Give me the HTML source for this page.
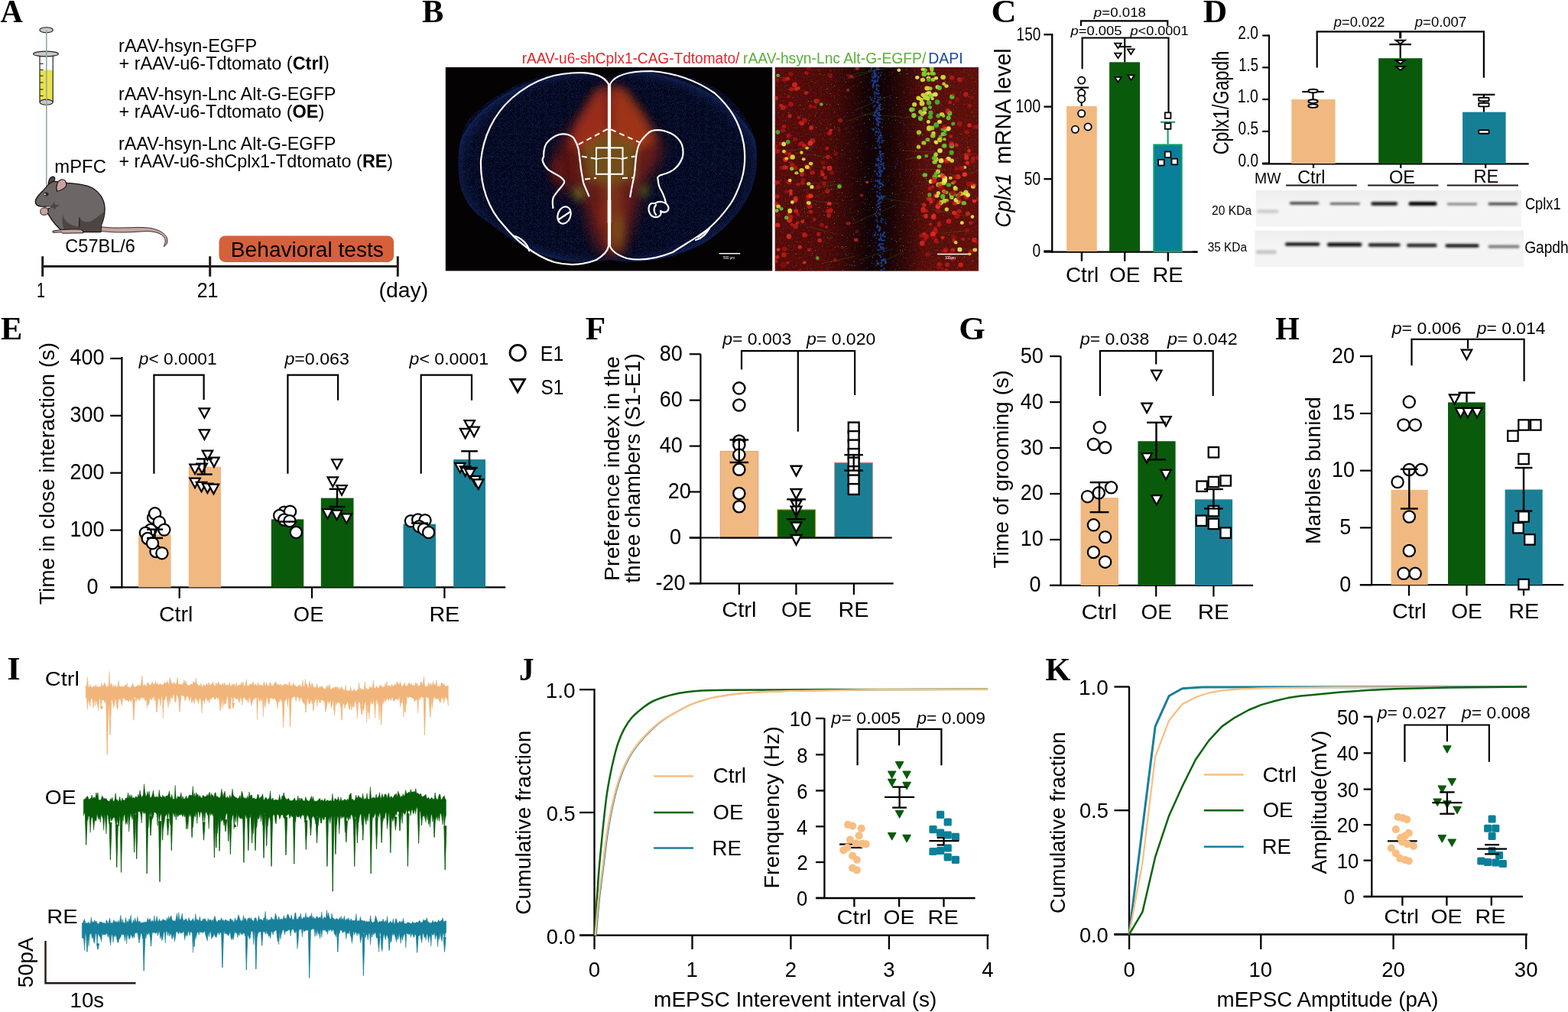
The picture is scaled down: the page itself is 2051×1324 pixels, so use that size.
<!DOCTYPE html>
<html><head><meta charset="utf-8"><title>Figure</title>
<style>html,body{margin:0;padding:0;background:#fff;width:2051px;height:1324px;overflow:hidden}svg{display:block}text{font-family:"Liberation Sans",Arial,sans-serif}</style>
</head><body>
<svg width="2051" height="1324" viewBox="0 0 2051 1324"><text transform="translate(0.39,28.70) scale(0.9556,1)" font-size="42.60" fill="#000" xml:space="preserve"><tspan font-family="Liberation Serif, Times New Roman, serif" font-weight="bold">A</tspan></text>
<rect x="52" y="91.5" width="17.2" height="42" rx="3" fill="#e8e34a"/>
<path d="M52,70.5 L52,133.7 M69.2,70.5 L69.2,133.7" stroke="#222" stroke-width="1.2" fill="none"/>
<line x1="52.0" y1="83.4" x2="56.6" y2="83.4" stroke="#222" stroke-width="1.1"/>
<line x1="52.0" y1="91.4" x2="56.6" y2="91.4" stroke="#222" stroke-width="1.1"/>
<line x1="52.0" y1="99.2" x2="56.6" y2="99.2" stroke="#222" stroke-width="1.1"/>
<line x1="52.0" y1="108.0" x2="56.6" y2="108.0" stroke="#222" stroke-width="1.1"/>
<line x1="52.0" y1="117.0" x2="56.6" y2="117.0" stroke="#222" stroke-width="1.1"/>
<line x1="52.0" y1="125.4" x2="56.6" y2="125.4" stroke="#222" stroke-width="1.1"/>
<ellipse cx="60.6" cy="133.7" rx="8.6" ry="3.6" fill="#c8c8c8" stroke="#222" stroke-width="1.1"/>
<ellipse cx="60" cy="70.5" rx="16.4" ry="3.4" fill="#c8c8c8" stroke="#222" stroke-width="1.1"/>
<ellipse cx="60.6" cy="39.3" rx="8.8" ry="3.6" fill="#c8c8c8" stroke="#222" stroke-width="1.1"/>
<line x1="60.8" y1="39.5" x2="60.8" y2="246.0" stroke="#9aa5a3" stroke-width="1.6"/>
<text transform="translate(155.07,68.30) scale(1.0088,1)" font-size="23.30" fill="#000" xml:space="preserve"><tspan font-family="Liberation Sans, Arial, sans-serif">rAAV-hsyn-EGFP</tspan></text>
<text transform="translate(155.43,91.10) scale(1.0083,1)" font-size="23.30" fill="#000" xml:space="preserve"><tspan font-family="Liberation Sans, Arial, sans-serif">+ rAAV-u6-Tdtomato (</tspan><tspan font-family="Liberation Sans, Arial, sans-serif" font-weight="bold">Ctrl</tspan><tspan font-family="Liberation Sans, Arial, sans-serif">)</tspan></text>
<text transform="translate(155.08,131.30) scale(1.0049,1)" font-size="23.30" fill="#000" xml:space="preserve"><tspan font-family="Liberation Sans, Arial, sans-serif">rAAV-hsyn-Lnc Alt-G-EGFP</tspan></text>
<text transform="translate(155.43,154.10) scale(1.0070,1)" font-size="23.30" fill="#000" xml:space="preserve"><tspan font-family="Liberation Sans, Arial, sans-serif">+ rAAV-u6-Tdtomato (</tspan><tspan font-family="Liberation Sans, Arial, sans-serif" font-weight="bold">OE</tspan><tspan font-family="Liberation Sans, Arial, sans-serif">)</tspan></text>
<text transform="translate(155.08,196.00) scale(1.0049,1)" font-size="23.30" fill="#000" xml:space="preserve"><tspan font-family="Liberation Sans, Arial, sans-serif">rAAV-hsyn-Lnc Alt-G-EGFP</tspan></text>
<text transform="translate(155.43,219.00) scale(1.0037,1)" font-size="23.30" fill="#000" xml:space="preserve"><tspan font-family="Liberation Sans, Arial, sans-serif">+ rAAV-u6-shCplx1-Tdtomato (</tspan><tspan font-family="Liberation Sans, Arial, sans-serif" font-weight="bold">RE</tspan><tspan font-family="Liberation Sans, Arial, sans-serif">)</tspan></text>
<text transform="translate(71.35,225.70) scale(1.0234,1)" font-size="23.30" fill="#000" xml:space="preserve"><tspan font-family="Liberation Sans, Arial, sans-serif">mPFC</tspan></text>
<text transform="translate(85.32,330.30) scale(1.0108,1)" font-size="23.30" fill="#000" xml:space="preserve"><tspan font-family="Liberation Sans, Arial, sans-serif">C57BL/6</tspan></text>
<g transform="translate(40,225) scale(0.09264)" stroke="#161010" stroke-linejoin="round">
<path d="M1000,775 C1200,805 1500,772 1650,787 C1800,802 1925,870 1932,960 C1936,1010 1912,1040 1880,1052 C1898,1020 1908,985 1898,945 C1870,878 1780,840 1650,838 C1500,840 1300,872 985,835 Z" fill="#c8a3a0" stroke-width="9"/>
<path d="M68,425 C60,380 120,320 175,265 C200,235 230,205 265,160 L300,135 C380,130 450,140 520,155 C650,165 780,175 880,230 C990,300 1045,400 1048,520 C1050,620 1020,700 1000,750 L992,848 L470,848 C400,800 320,720 252,600 L245,590 C232,545 250,505 282,492 L150,487 C100,482 70,460 68,425 Z" fill="#6b6766" stroke-width="14"/>
<path d="M455,600 C470,700 560,760 680,772 L690,640 C720,705 800,722 860,692 C920,652 990,600 1040,560 L1000,750 L990,842 L485,842 C455,800 440,700 455,600 Z" fill="#4e4543" stroke="none"/>
<path d="M300,470 L330,420 L350,465 L415,470 L360,500 L345,530 L310,505 L270,500 Z" fill="#4e4543" stroke="none"/>
<path d="M690,640 L688,780" stroke-width="10" fill="none"/>
<path d="M250,172 C255,112 280,72 310,66 C345,62 350,90 338,120 C312,142 282,157 250,172 Z" fill="#4e4543" stroke-width="12"/>
<path d="M372,272 C350,200 382,120 440,106 C492,100 512,150 502,200 C472,242 422,262 372,272 Z" fill="#c8a3a0" stroke-width="12"/>
<ellipse cx="218" cy="312" rx="38" ry="27" fill="#2f2624" stroke="none"/>
<ellipse cx="202" cy="316" rx="13" ry="11" fill="#fff" stroke="none"/>
<path d="M205,488 L285,486 L283,508 L210,510 Z" fill="#fff" stroke-width="8"/>
<path d="M140,560 C130,520 170,502 210,506 C252,512 256,560 240,590 C220,612 180,612 160,602 C140,592 135,575 140,560 Z" fill="#c8a3a0" stroke-width="10"/>
<path d="M312,835 C380,815 600,805 705,812 L738,832 L742,862 L450,866 L440,850 L316,856 Z" fill="#c8a3a0" stroke-width="10"/>
</g>
<line x1="55.7" y1="348.6" x2="520.3" y2="348.6" stroke="#231815" stroke-width="3"/>
<line x1="55.7" y1="335.3" x2="55.7" y2="361.8" stroke="#231815" stroke-width="3"/>
<line x1="274.7" y1="335.3" x2="274.7" y2="361.8" stroke="#231815" stroke-width="3"/>
<line x1="520.3" y1="335.3" x2="520.3" y2="361.8" stroke="#231815" stroke-width="3"/>
<text transform="translate(48.12,388.50) scale(0.7189,1)" font-size="27.50" fill="#000" xml:space="preserve"><tspan font-family="Liberation Sans, Arial, sans-serif">1</tspan></text>
<text transform="translate(257.65,388.50) scale(0.9064,1)" font-size="27.50" fill="#000" xml:space="preserve"><tspan font-family="Liberation Sans, Arial, sans-serif">21</tspan></text>
<text transform="translate(495.60,388.50) scale(1.0327,1)" font-size="27.50" fill="#000" xml:space="preserve"><tspan font-family="Liberation Sans, Arial, sans-serif">(day)</tspan></text>
<rect x="286.5" y="308.4" width="228.6" height="34.5" rx="8" fill="#D6603A"/>
<text transform="translate(301.85,335.60) scale(1.0118,1)" font-size="27.80" fill="#000" xml:space="preserve"><tspan font-family="Liberation Sans, Arial, sans-serif">Behavioral tests</tspan></text>
<text transform="translate(551.96,29.30) scale(0.9953,1)" font-size="42.60" fill="#000" xml:space="preserve"><tspan font-family="Liberation Serif, Times New Roman, serif" font-weight="bold">B</tspan></text>
<text transform="translate(682.76,82.80) scale(0.9172,1)" font-size="20.80" fill="#E0262B" xml:space="preserve"><tspan font-family="Liberation Sans, Arial, sans-serif">rAAV-u6-shCplx1-CAG-Tdtomato/</tspan></text>
<text transform="translate(972.05,82.80) scale(0.9258,1)" font-size="20.80" fill="#5BAF3A" xml:space="preserve"><tspan font-family="Liberation Sans, Arial, sans-serif">rAAV-hsyn-Lnc Alt-G-EGFP/</tspan></text>
<text transform="translate(1214.24,82.80) scale(0.9371,1)" font-size="20.80" fill="#1B4A9C" xml:space="preserve"><tspan font-family="Liberation Sans, Arial, sans-serif">DAPI</tspan></text>
<defs>
<clipPath id="brainclip"><path d="M797,104 C780,94 740,92 705,101 C670,110 635,132 613,156 C598,180 598,215 601,235 C604,262 620,280 642,293 C660,308 684,324 715,336 C745,345 775,344 797,340 C820,345 860,342 890,333 C930,318 962,290 980,255 C992,228 992,200 987,180 C978,150 955,125 930,112 C900,97 860,90 830,92 C815,94 803,98 797,104 Z"/></clipPath>
<radialGradient id="rg1" cx="0.5" cy="0.5" r="0.5"><stop offset="0" stop-color="#d84a1c" stop-opacity="0.95"/><stop offset="0.55" stop-color="#a82a18" stop-opacity="0.6"/><stop offset="1" stop-color="#601010" stop-opacity="0"/></radialGradient>
<radialGradient id="rg2" cx="0.5" cy="0.5" r="0.5"><stop offset="0" stop-color="#b8b82a" stop-opacity="0.9"/><stop offset="0.6" stop-color="#8a8a20" stop-opacity="0.45"/><stop offset="1" stop-color="#606010" stop-opacity="0"/></radialGradient>
<radialGradient id="rg3" cx="0.5" cy="0.5" r="0.5"><stop offset="0" stop-color="#b02020" stop-opacity="0.8"/><stop offset="1" stop-color="#801010" stop-opacity="0"/></radialGradient>
<radialGradient id="rgb" cx="0.5" cy="0.5" r="0.5"><stop offset="0.9" stop-color="#04071a"/><stop offset="0.975" stop-color="#0a1436"/><stop offset="1" stop-color="#10224e"/></radialGradient>
<pattern id="speck" width="7" height="7" patternUnits="userSpaceOnUse"><rect width="7" height="7" fill="none"/><rect x="1" y="2" width="1" height="1" fill="#3050b0" opacity="0.22"/><rect x="4" y="5" width="1" height="1" fill="#2a4aa0" opacity="0.18"/><rect x="5" y="1" width="1" height="1" fill="#3a5ac0" opacity="0.15"/></pattern>
</defs>
<rect x="582.8" y="88" width="427.4" height="266.4" fill="#040203"/>
<defs><filter id="blur8" x="-50%" y="-50%" width="200%" height="200%"><feGaussianBlur stdDeviation="9"/></filter><filter id="blur4" x="-50%" y="-50%" width="200%" height="200%"><feGaussianBlur stdDeviation="4"/></filter></defs>
<g clip-path="url(#brainclip)">
<rect x="595" y="88" width="400" height="266" fill="#04071a"/>
<ellipse cx="795" cy="218" rx="200" ry="128" fill="url(#rgb)"/>
<defs><filter id="dapi" x="0" y="0" width="100%" height="100%" color-interpolation-filters="sRGB"><feTurbulence type="fractalNoise" baseFrequency="1.1" numOctaves="1" seed="4"/><feColorMatrix type="matrix" values="0 0 0 0 0.11  0 0 0 0 0.2  0 0 0 0 0.5  6 0 0 0 -3.0"/></filter></defs>
<rect x="595" y="88" width="400" height="266" filter="url(#dapi)" opacity="0.55"/>
<g filter="url(#blur8)" opacity="0.75">
<path d="M785,118 L797,116 L797,335 L785,330 L772,300 L760,250 L740,215 L728,195 L745,172 L765,145 Z" fill="#8a2212"/>
<path d="M810,116 L797,116 L797,335 L812,330 L826,300 L838,250 L858,215 L868,195 L852,170 L832,142 Z" fill="#8a2212"/>
<path d="M730,190 L750,195 L752,250 L735,255 L725,225 Z" fill="#701810"/>
</g>
<defs><filter id="blur6" x="-50%" y="-50%" width="200%" height="200%"><feGaussianBlur stdDeviation="6"/></filter></defs>
<g filter="url(#blur6)" opacity="0.62">
<path d="M778,118 L794,112 L796,175 L770,195 L745,192 L752,165 Z" fill="#b8381a"/>
<path d="M800,112 L818,116 L842,150 L860,185 L835,196 L802,180 Z" fill="#c04418"/>
<path d="M762,192 L797,172 L834,190 L830,236 L797,242 L766,236 Z" fill="#7c8a1e" opacity="0.75"/>
<path d="M786,240 L812,240 L818,330 L796,330 Z" fill="#8a4a16" opacity="0.8"/>
<ellipse cx="757" cy="253" rx="8" ry="9" fill="#9a9a22"/>
<ellipse cx="843" cy="250" rx="6" ry="8" fill="#6a8a20"/>
<ellipse cx="810" cy="300" rx="5" ry="20" fill="#8a8a20" opacity="0.8"/>
<ellipse cx="790" cy="280" rx="6" ry="18" fill="#a03018" opacity="0.8"/>
<ellipse cx="728" cy="222" rx="7" ry="18" fill="#9a2018" opacity="0.8"/>
</g>
</g>
<path d="M796,110 C790,100 780,96 760,95 C730,95 700,102 670,128 C645,150 632,180 629,210 C628,245 640,275 659,295 C675,315 700,335 725,343 C745,348 765,346 780,340 C790,334 795,328 796,322 Z" fill="none" stroke="#fff" stroke-width="2.2" stroke-linecap="round" stroke-linejoin="round"/>
<path d="M798,110 C803,100 820,93 852,93 C890,96 915,108 935,122 C955,140 968,160 973,189 C976,210 973,225 970,235 C965,250 960,260 956,266 C945,282 935,292 927,299 C910,312 895,320 880,330 C860,338 840,342 820,338 C808,334 800,328 798,322 Z" fill="none" stroke="#fff" stroke-width="2.2" stroke-linecap="round" stroke-linejoin="round"/>
<path d="M797,110 L797,322" stroke="#fff" stroke-width="3" fill="none"/>
<path d="M797,262 L797,292" stroke="#fff" stroke-width="4.5" fill="none"/>
<path d="M723.4,272 C722,262 723,258 725.5,255.5 C730,248 740,240 738,236.8 C735,230 727,229 717.2,222.2 C710,215 708,208 711,205.6 C711,195 713,188 717.2,184.8 C725,177 732,175 738,175.4 C745,176 748,178 750.5,180.6 C755,188 756,192 756.7,195.2 C758,205 759,212 759.8,220.1 C761,228 762,233 763,238.8 C765,245 768,250 770.2,256.4" fill="none" stroke="#fff" stroke-width="2.2" stroke-linecap="round" stroke-linejoin="round"/>
<path d="M824.3,257.4 C826,245 828,238 829.5,230.4 C831,220 831,210 832.6,201.3 C834,192 836,187 839.8,182.6 C845,176 848,173 852.3,171.2 C860,169 870,171 877.2,174.3 C885,178 889,183 891.8,188.8 C894,195 894,200 892.8,205.5 C890,213 887,217 883.5,220 C878,225 872,227 866.8,228.3 C862,229 859,232 860.6,234.5 C861,240 862,245 864.8,249.1 C868,255 870,260 871,265.7" fill="none" stroke="#fff" stroke-width="2.2" stroke-linecap="round" stroke-linejoin="round"/>
<ellipse cx="738" cy="281.5" rx="8.3" ry="11.4" transform="rotate(20,738,281.5)" fill="none" stroke="#fff" stroke-width="2.2" stroke-linecap="round" stroke-linejoin="round"/>
<path d="M731,287 L746,277" fill="none" stroke="#fff" stroke-width="2.2" stroke-linecap="round" stroke-linejoin="round"/>
<path d="M852,266 C846,270 848,282 856,284 C862,285 866,281 864,276 C870,280 876,276 874,270 C871,264 862,262 857,266 Z" fill="none" stroke="#fff" stroke-width="2.2" stroke-linecap="round" stroke-linejoin="round"/>
<path d="M858,281 C855,277 855,272 858,268" fill="none" stroke="#fff" stroke-width="2.2" stroke-linecap="round" stroke-linejoin="round"/>
<path d="M671.5,308.5 C680,310 690,318 692.3,328.2" fill="none" stroke="#fff" stroke-width="2.2" stroke-linecap="round" stroke-linejoin="round"/>
<path d="M913,310 C920,305 927,300 928,298.9" fill="none" stroke="#fff" stroke-width="2.2" stroke-linecap="round" stroke-linejoin="round"/>
<path d="M910,314 C918,312 925,305 928,298" fill="none" stroke="#fff" stroke-width="2.2" stroke-linecap="round" stroke-linejoin="round"/>
<path d="M756.7,189 L796.2,168.1 L837.8,186.8" fill="none" stroke="#fff" stroke-width="2" stroke-dasharray="7,5"/>
<path d="M760.9,204.5 L779.6,207.7 M814,207.7 L830.5,204.4" fill="none" stroke="#fff" stroke-width="2" stroke-dasharray="7,5"/>
<path d="M765,234.6 L780,233 M814,233 L829.5,232.5" fill="none" stroke="#fff" stroke-width="2" stroke-dasharray="7,5"/>
<path d="M780,208 C790,206 805,206 814,208" fill="none" stroke="#fff" stroke-width="1.6"/>
<rect x="780" y="193.4" width="34.5" height="34.4" fill="none" stroke="#fff" stroke-width="2"/>
<line x1="940.6" y1="331.7" x2="968.2" y2="331.7" stroke="#fff" stroke-width="1.5"/>
<text x="946" y="338.5" font-size="4.5" fill="#fff">500 μm</text>
<defs><linearGradient id="cfbg" x1="0" y1="0" x2="1" y2="0">
<stop offset="0" stop-color="#4a0c0a"/><stop offset="0.26" stop-color="#3e0a08"/><stop offset="0.38" stop-color="#240606"/>
<stop offset="0.46" stop-color="#100305"/><stop offset="0.55" stop-color="#120405"/><stop offset="0.64" stop-color="#2a0807"/>
<stop offset="0.74" stop-color="#4a0f0a"/><stop offset="1" stop-color="#52100b"/></linearGradient>
<clipPath id="cfclip"><rect x="1013.7" y="88" width="266.3" height="266.6"/></clipPath>
<filter id="rtex" x="0" y="0" width="100%" height="100%" color-interpolation-filters="sRGB"><feTurbulence type="fractalNoise" baseFrequency="0.45" numOctaves="2" seed="11"/><feColorMatrix type="matrix" values="0 0 0 0 0.7  0 0 0 0 0.07  0 0 0 0 0.05  1.8 0 0 0 -0.6"/></filter>
<filter id="gtex" x="0" y="0" width="100%" height="100%" color-interpolation-filters="sRGB"><feTurbulence type="fractalNoise" baseFrequency="0.8" numOctaves="1" seed="5"/><feColorMatrix type="matrix" values="0 0 0 0 0.4  0 0 0 0 0.85  0 0 0 0 0.2  0 14 0 0 -10.0"/></filter>
<filter id="btex" x="0" y="0" width="100%" height="100%" color-interpolation-filters="sRGB"><feTurbulence type="fractalNoise" baseFrequency="0.7" numOctaves="1" seed="8"/><feColorMatrix type="matrix" values="0 0 0 0 0.13  0 0 0 0 0.28  0 0 0 0 0.8  0 0 12 0 -8.3"/></filter>
<linearGradient id="cfmask" x1="0" y1="0" x2="1" y2="0"><stop offset="0" stop-color="#fff"/><stop offset="0.26" stop-color="#eee"/><stop offset="0.38" stop-color="#666"/><stop offset="0.46" stop-color="#222"/><stop offset="0.55" stop-color="#222"/><stop offset="0.63" stop-color="#666"/><stop offset="0.72" stop-color="#fff"/><stop offset="1" stop-color="#fff"/></linearGradient>
<mask id="cfm"><rect x="1013.7" y="88" width="266.7" height="266.6" fill="url(#cfmask)"/></mask>
</defs>
<rect x="1013.7" y="88" width="266.3" height="266.6" fill="url(#cfbg)"/>
<g clip-path="url(#cfclip)">
<rect x="1013.7" y="88" width="266.3" height="266.6" filter="url(#rtex)" mask="url(#cfm)" opacity="0.5"/>
<rect x="1013.7" y="88" width="266.3" height="266.6" filter="url(#gtex)" opacity="0.7"/>
<rect x="1013.7" y="88" width="266.3" height="266.6" filter="url(#btex)" opacity="0.9"/>
<g fill="#1f50c0" opacity="0.75"><rect x="1151.7" y="174.3" width="1.3" height="2.1"/><rect x="1153.5" y="185.5" width="1.3" height="2.0"/><rect x="1143.8" y="98.0" width="1.3" height="1.9"/><rect x="1150.9" y="308.4" width="1.4" height="1.6"/><rect x="1152.0" y="255.3" width="1.8" height="2.8"/><rect x="1143.5" y="100.4" width="2.6" height="1.7"/><rect x="1146.9" y="126.5" width="2.5" height="1.5"/><rect x="1150.6" y="243.1" width="2.2" height="1.8"/><rect x="1150.3" y="234.0" width="1.5" height="2.3"/><rect x="1150.9" y="202.0" width="1.7" height="2.1"/><rect x="1148.8" y="208.8" width="2.3" height="1.6"/><rect x="1154.0" y="241.1" width="2.0" height="2.6"/><rect x="1146.4" y="282.5" width="1.4" height="1.9"/><rect x="1157.0" y="289.9" width="1.4" height="2.0"/><rect x="1142.3" y="98.5" width="2.1" height="2.6"/><rect x="1144.5" y="171.6" width="2.3" height="2.2"/><rect x="1143.3" y="242.6" width="2.7" height="2.0"/><rect x="1149.6" y="265.1" width="1.3" height="2.3"/><rect x="1153.7" y="260.5" width="1.7" height="1.8"/><rect x="1147.8" y="266.3" width="1.2" height="1.9"/><rect x="1146.1" y="132.8" width="2.4" height="1.4"/><rect x="1147.9" y="154.0" width="1.8" height="2.6"/><rect x="1141.0" y="109.5" width="2.6" height="2.5"/><rect x="1152.6" y="318.3" width="1.6" height="1.9"/><rect x="1155.5" y="183.6" width="1.4" height="1.5"/><rect x="1141.8" y="149.8" width="1.6" height="2.0"/><rect x="1148.7" y="245.1" width="1.9" height="1.8"/><rect x="1149.3" y="239.0" width="2.7" height="2.3"/><rect x="1146.5" y="225.4" width="1.3" height="2.6"/><rect x="1146.2" y="295.9" width="2.6" height="2.5"/><rect x="1149.1" y="192.6" width="2.2" height="1.3"/><rect x="1145.4" y="106.0" width="1.5" height="1.5"/><rect x="1149.6" y="178.7" width="1.4" height="1.4"/><rect x="1149.9" y="184.9" width="1.2" height="2.6"/><rect x="1149.8" y="251.7" width="1.8" height="1.8"/><rect x="1146.6" y="120.7" width="2.6" height="2.8"/><rect x="1149.1" y="212.2" width="1.4" height="1.7"/><rect x="1147.8" y="158.6" width="2.5" height="1.5"/><rect x="1148.5" y="94.2" width="1.4" height="2.1"/><rect x="1143.8" y="95.2" width="2.0" height="2.8"/><rect x="1150.6" y="318.2" width="1.8" height="1.5"/><rect x="1146.9" y="293.8" width="2.1" height="2.4"/><rect x="1150.2" y="175.9" width="2.8" height="2.6"/><rect x="1155.3" y="302.9" width="2.5" height="2.4"/><rect x="1143.9" y="148.4" width="1.2" height="1.2"/><rect x="1147.8" y="162.5" width="1.6" height="2.3"/><rect x="1146.8" y="343.0" width="2.8" height="2.7"/><rect x="1152.2" y="185.2" width="1.6" height="1.6"/><rect x="1147.1" y="140.4" width="2.6" height="2.5"/><rect x="1154.3" y="215.8" width="2.2" height="2.5"/><rect x="1141.1" y="110.6" width="2.5" height="2.4"/><rect x="1144.7" y="215.4" width="1.5" height="2.5"/><rect x="1151.9" y="176.6" width="1.8" height="1.8"/><rect x="1145.7" y="340.4" width="2.4" height="1.5"/><rect x="1148.6" y="121.9" width="2.5" height="1.4"/><rect x="1155.7" y="308.3" width="2.8" height="2.3"/><rect x="1148.2" y="181.4" width="1.2" height="2.8"/><rect x="1147.6" y="261.2" width="2.0" height="2.7"/><rect x="1154.3" y="203.7" width="1.5" height="1.6"/><rect x="1144.4" y="166.1" width="1.6" height="2.1"/><rect x="1146.1" y="157.1" width="2.7" height="1.8"/><rect x="1151.2" y="210.1" width="2.1" height="2.6"/><rect x="1153.5" y="200.1" width="2.1" height="2.0"/><rect x="1143.3" y="93.0" width="1.9" height="1.5"/><rect x="1145.8" y="89.0" width="2.0" height="2.4"/><rect x="1147.4" y="236.4" width="1.7" height="2.0"/><rect x="1149.5" y="236.1" width="2.1" height="1.6"/><rect x="1146.6" y="161.8" width="2.4" height="2.0"/><rect x="1149.5" y="237.8" width="1.9" height="2.2"/><rect x="1143.3" y="222.8" width="2.0" height="2.3"/><rect x="1147.1" y="208.6" width="2.7" height="2.3"/><rect x="1151.0" y="321.7" width="2.7" height="1.6"/><rect x="1154.5" y="237.2" width="1.4" height="1.4"/><rect x="1148.4" y="205.9" width="1.3" height="1.6"/><rect x="1142.1" y="107.5" width="2.6" height="1.4"/><rect x="1143.6" y="278.9" width="2.3" height="1.4"/><rect x="1154.0" y="323.4" width="2.7" height="1.8"/><rect x="1149.7" y="217.9" width="2.8" height="2.5"/><rect x="1141.9" y="131.0" width="1.7" height="1.5"/><rect x="1150.6" y="172.9" width="2.4" height="1.2"/><rect x="1148.7" y="235.7" width="1.7" height="2.2"/><rect x="1150.1" y="224.6" width="1.3" height="2.8"/><rect x="1150.8" y="298.2" width="1.6" height="1.3"/><rect x="1149.0" y="295.7" width="1.6" height="1.4"/><rect x="1155.2" y="200.6" width="1.6" height="1.4"/><rect x="1149.8" y="333.1" width="2.1" height="2.3"/><rect x="1148.9" y="111.9" width="1.9" height="1.3"/><rect x="1154.8" y="338.2" width="2.2" height="2.5"/><rect x="1145.3" y="110.3" width="2.6" height="1.9"/><rect x="1148.6" y="178.4" width="2.1" height="2.7"/><rect x="1150.3" y="159.4" width="1.6" height="1.4"/><rect x="1147.9" y="131.0" width="1.3" height="1.5"/><rect x="1147.2" y="171.2" width="1.7" height="2.0"/><rect x="1150.3" y="135.4" width="1.8" height="1.2"/><rect x="1152.1" y="154.8" width="2.1" height="1.5"/><rect x="1150.7" y="214.6" width="2.7" height="1.4"/><rect x="1147.0" y="306.3" width="2.5" height="1.8"/><rect x="1151.4" y="223.1" width="2.3" height="2.8"/><rect x="1151.9" y="179.4" width="2.2" height="1.8"/><rect x="1145.6" y="180.7" width="1.3" height="1.4"/><rect x="1144.5" y="106.9" width="1.5" height="1.3"/><rect x="1148.5" y="312.3" width="2.6" height="2.3"/><rect x="1148.3" y="163.2" width="1.9" height="1.5"/><rect x="1152.9" y="206.9" width="1.6" height="2.7"/><rect x="1151.5" y="347.3" width="2.7" height="1.7"/><rect x="1149.2" y="183.1" width="1.2" height="1.8"/><rect x="1148.3" y="214.5" width="2.0" height="1.2"/><rect x="1147.6" y="158.4" width="1.3" height="1.8"/><rect x="1147.3" y="99.1" width="1.6" height="2.1"/><rect x="1150.0" y="229.1" width="2.4" height="2.3"/><rect x="1150.4" y="278.9" width="1.7" height="2.8"/><rect x="1143.0" y="127.8" width="2.4" height="2.2"/><rect x="1148.0" y="99.7" width="2.2" height="2.4"/><rect x="1144.6" y="304.5" width="1.4" height="2.0"/><rect x="1152.7" y="222.5" width="2.5" height="2.1"/><rect x="1147.5" y="326.0" width="2.3" height="2.3"/><rect x="1148.3" y="149.3" width="1.8" height="1.4"/><rect x="1150.9" y="310.8" width="2.1" height="2.2"/><rect x="1146.8" y="255.0" width="1.2" height="2.5"/><rect x="1145.5" y="287.5" width="2.0" height="2.1"/><rect x="1152.5" y="263.8" width="1.6" height="1.3"/><rect x="1149.7" y="158.8" width="2.4" height="1.5"/><rect x="1152.0" y="285.2" width="1.8" height="2.0"/><rect x="1147.5" y="270.3" width="2.4" height="2.2"/><rect x="1149.6" y="259.4" width="1.6" height="2.4"/><rect x="1149.5" y="169.2" width="2.1" height="1.2"/><rect x="1144.1" y="104.2" width="2.3" height="2.3"/><rect x="1152.8" y="165.5" width="2.0" height="1.9"/><rect x="1155.0" y="212.3" width="1.5" height="2.8"/><rect x="1157.4" y="337.6" width="1.2" height="1.9"/><rect x="1153.4" y="306.6" width="1.6" height="1.5"/><rect x="1152.6" y="340.1" width="1.5" height="2.1"/><rect x="1137.6" y="125.8" width="1.4" height="2.5"/><rect x="1148.8" y="223.6" width="2.6" height="2.3"/><rect x="1149.5" y="149.7" width="1.2" height="1.2"/><rect x="1148.0" y="219.1" width="1.9" height="1.7"/><rect x="1143.5" y="125.5" width="2.5" height="1.2"/><rect x="1150.9" y="288.1" width="2.5" height="1.4"/><rect x="1151.4" y="335.0" width="1.7" height="1.8"/><rect x="1144.0" y="192.7" width="2.8" height="2.1"/><rect x="1147.7" y="184.2" width="1.3" height="1.4"/><rect x="1151.7" y="310.5" width="1.7" height="2.7"/><rect x="1146.9" y="154.5" width="1.5" height="1.8"/><rect x="1157.0" y="342.9" width="2.6" height="2.5"/><rect x="1154.3" y="256.2" width="2.1" height="2.4"/><rect x="1141.0" y="101.2" width="2.4" height="1.9"/><rect x="1147.2" y="288.7" width="1.3" height="2.7"/><rect x="1142.8" y="121.9" width="2.0" height="1.7"/><rect x="1148.0" y="167.4" width="1.6" height="2.2"/><rect x="1140.4" y="168.2" width="2.1" height="1.8"/><rect x="1146.4" y="132.6" width="2.6" height="2.0"/><rect x="1148.2" y="146.7" width="2.7" height="2.8"/><rect x="1151.7" y="208.0" width="1.3" height="1.7"/><rect x="1146.1" y="112.3" width="1.6" height="1.6"/><rect x="1152.8" y="239.9" width="1.9" height="1.9"/><rect x="1146.4" y="227.7" width="1.8" height="1.7"/><rect x="1143.3" y="104.5" width="1.4" height="2.0"/><rect x="1156.0" y="255.9" width="2.6" height="1.5"/><rect x="1147.9" y="160.3" width="1.9" height="2.7"/><rect x="1154.0" y="314.3" width="2.6" height="1.2"/><rect x="1143.3" y="96.6" width="2.0" height="2.1"/><rect x="1139.1" y="88.0" width="1.8" height="2.7"/><rect x="1155.3" y="308.1" width="1.6" height="1.4"/><rect x="1138.8" y="129.2" width="2.0" height="2.3"/><rect x="1152.4" y="339.0" width="2.4" height="1.9"/><rect x="1145.0" y="235.0" width="1.3" height="2.5"/><rect x="1150.6" y="150.0" width="1.7" height="1.4"/><rect x="1145.2" y="155.1" width="2.2" height="2.3"/><rect x="1148.0" y="117.9" width="2.1" height="1.8"/><rect x="1148.1" y="147.6" width="2.2" height="1.2"/><rect x="1141.3" y="168.4" width="2.2" height="2.6"/><rect x="1152.1" y="214.7" width="1.6" height="1.6"/><rect x="1152.8" y="344.1" width="1.2" height="2.0"/><rect x="1145.6" y="267.8" width="1.9" height="1.6"/><rect x="1150.0" y="265.9" width="1.3" height="1.7"/><rect x="1149.5" y="200.1" width="2.3" height="1.5"/><rect x="1149.4" y="300.5" width="1.5" height="2.8"/><rect x="1145.3" y="171.1" width="2.5" height="1.6"/><rect x="1146.7" y="147.0" width="2.7" height="2.0"/><rect x="1143.2" y="137.9" width="1.6" height="1.9"/><rect x="1149.6" y="265.4" width="1.8" height="1.5"/><rect x="1153.1" y="347.7" width="1.4" height="1.3"/><rect x="1139.6" y="104.0" width="2.6" height="2.4"/><rect x="1157.8" y="353.9" width="2.7" height="1.7"/><rect x="1150.2" y="137.5" width="1.3" height="2.3"/><rect x="1148.2" y="188.9" width="1.8" height="1.7"/><rect x="1147.8" y="133.1" width="1.8" height="2.7"/><rect x="1144.8" y="121.0" width="2.7" height="1.5"/><rect x="1152.2" y="183.1" width="1.9" height="1.3"/><rect x="1145.3" y="214.2" width="1.8" height="2.7"/><rect x="1141.6" y="139.5" width="1.2" height="1.9"/><rect x="1154.8" y="304.4" width="2.4" height="1.3"/><rect x="1151.1" y="97.3" width="1.6" height="2.4"/><rect x="1154.9" y="327.6" width="1.7" height="1.6"/><rect x="1151.7" y="343.3" width="2.3" height="1.7"/><rect x="1146.4" y="161.5" width="1.2" height="2.4"/><rect x="1147.9" y="332.3" width="1.2" height="1.6"/><rect x="1144.9" y="214.7" width="2.7" height="2.7"/><rect x="1150.2" y="191.0" width="2.0" height="2.7"/><rect x="1148.8" y="136.8" width="2.5" height="2.4"/><rect x="1150.9" y="307.3" width="1.7" height="1.7"/><rect x="1145.8" y="184.5" width="2.5" height="1.3"/><rect x="1146.0" y="140.6" width="1.3" height="1.3"/><rect x="1147.0" y="235.3" width="1.7" height="2.8"/><rect x="1154.3" y="323.5" width="1.3" height="1.4"/><rect x="1149.9" y="220.9" width="2.3" height="1.9"/><rect x="1143.2" y="150.4" width="2.3" height="2.4"/><rect x="1153.0" y="313.8" width="2.3" height="1.4"/><rect x="1149.7" y="312.2" width="1.8" height="2.4"/><rect x="1149.7" y="141.1" width="1.6" height="1.6"/><rect x="1148.0" y="128.9" width="1.7" height="1.8"/><rect x="1151.2" y="352.6" width="2.0" height="1.6"/><rect x="1144.7" y="303.5" width="1.4" height="2.0"/><rect x="1142.6" y="306.4" width="2.5" height="2.7"/><rect x="1144.4" y="98.8" width="1.5" height="2.8"/><rect x="1150.3" y="243.5" width="2.7" height="1.8"/><rect x="1149.2" y="318.9" width="2.4" height="2.7"/><rect x="1145.4" y="116.2" width="2.2" height="2.2"/><rect x="1145.3" y="146.0" width="1.5" height="1.6"/><rect x="1149.8" y="247.8" width="2.2" height="1.5"/><rect x="1143.0" y="91.0" width="1.5" height="1.7"/><rect x="1150.1" y="142.2" width="2.5" height="2.1"/><rect x="1147.1" y="104.9" width="2.1" height="2.2"/><rect x="1146.4" y="112.3" width="1.5" height="2.3"/><rect x="1149.9" y="197.2" width="2.7" height="1.7"/><rect x="1151.6" y="239.0" width="1.8" height="1.9"/><rect x="1154.3" y="318.4" width="1.5" height="2.4"/><rect x="1146.0" y="142.3" width="1.2" height="2.6"/><rect x="1151.8" y="201.0" width="2.6" height="1.9"/><rect x="1142.5" y="131.3" width="1.2" height="2.1"/><rect x="1149.3" y="258.8" width="2.2" height="1.8"/><rect x="1149.3" y="222.5" width="1.4" height="1.7"/><rect x="1151.0" y="226.9" width="2.0" height="2.5"/><rect x="1152.9" y="345.8" width="1.5" height="1.4"/><rect x="1156.6" y="339.4" width="1.3" height="2.7"/><rect x="1149.7" y="191.4" width="2.6" height="2.2"/><rect x="1153.1" y="307.8" width="1.6" height="1.8"/><rect x="1155.4" y="313.6" width="2.5" height="1.5"/><rect x="1143.5" y="146.2" width="1.8" height="1.4"/><rect x="1149.3" y="153.9" width="2.4" height="2.6"/><rect x="1140.1" y="99.0" width="1.3" height="2.5"/><rect x="1142.8" y="119.4" width="2.2" height="2.1"/><rect x="1147.2" y="255.2" width="2.1" height="1.9"/><rect x="1151.0" y="263.6" width="1.9" height="1.9"/><rect x="1142.4" y="94.2" width="1.6" height="2.4"/><rect x="1146.9" y="295.9" width="1.9" height="1.5"/><rect x="1151.5" y="214.2" width="1.9" height="1.3"/><rect x="1151.4" y="205.8" width="2.0" height="1.3"/><rect x="1152.4" y="257.7" width="2.4" height="2.0"/><rect x="1147.1" y="102.5" width="2.0" height="1.8"/><rect x="1157.2" y="341.5" width="2.8" height="2.4"/><rect x="1154.6" y="305.3" width="1.5" height="2.8"/><rect x="1156.5" y="219.1" width="1.5" height="2.5"/><rect x="1151.2" y="336.1" width="1.3" height="1.8"/><rect x="1152.2" y="289.6" width="1.6" height="2.5"/><rect x="1150.3" y="126.3" width="2.0" height="2.7"/><rect x="1145.9" y="143.5" width="1.7" height="1.3"/><rect x="1149.2" y="136.5" width="1.5" height="2.7"/><rect x="1149.5" y="269.2" width="2.5" height="1.4"/><rect x="1148.5" y="229.5" width="2.2" height="1.8"/><rect x="1147.9" y="320.7" width="2.6" height="1.4"/><rect x="1152.5" y="352.7" width="2.2" height="1.8"/><rect x="1148.8" y="300.7" width="2.1" height="1.8"/><rect x="1158.0" y="291.9" width="1.9" height="1.5"/><rect x="1153.9" y="286.2" width="1.6" height="2.2"/><rect x="1155.4" y="350.3" width="2.1" height="2.3"/><rect x="1149.7" y="171.4" width="1.4" height="2.2"/><rect x="1150.5" y="203.2" width="2.0" height="2.6"/><rect x="1145.4" y="123.2" width="1.2" height="1.2"/><rect x="1154.1" y="182.6" width="1.4" height="1.8"/><rect x="1143.1" y="147.8" width="1.5" height="2.2"/><rect x="1148.3" y="214.6" width="1.4" height="2.7"/><rect x="1147.9" y="152.9" width="2.2" height="2.6"/><rect x="1150.4" y="296.5" width="1.8" height="1.6"/><rect x="1142.7" y="91.1" width="1.8" height="2.2"/><rect x="1147.4" y="206.3" width="2.7" height="2.4"/><rect x="1148.0" y="154.2" width="2.1" height="1.8"/><rect x="1146.4" y="151.4" width="1.3" height="2.4"/><rect x="1138.3" y="91.3" width="1.4" height="1.5"/><rect x="1146.2" y="250.1" width="2.0" height="2.2"/><rect x="1151.2" y="304.8" width="1.7" height="1.3"/><rect x="1154.4" y="325.1" width="2.5" height="2.3"/><rect x="1147.9" y="89.7" width="1.9" height="2.4"/><rect x="1146.3" y="208.6" width="1.6" height="1.4"/><rect x="1149.4" y="149.9" width="2.4" height="2.3"/><rect x="1151.5" y="313.4" width="2.3" height="1.6"/><rect x="1144.4" y="235.6" width="2.0" height="1.6"/><rect x="1150.2" y="259.2" width="2.7" height="1.5"/><rect x="1154.1" y="322.6" width="1.6" height="2.4"/><rect x="1153.5" y="339.9" width="2.4" height="1.7"/><rect x="1150.8" y="322.7" width="2.7" height="2.2"/><rect x="1150.0" y="272.7" width="2.3" height="2.8"/><rect x="1152.8" y="213.2" width="2.6" height="1.9"/><rect x="1144.4" y="281.2" width="2.1" height="1.7"/><rect x="1145.4" y="144.5" width="2.7" height="1.4"/><rect x="1144.1" y="95.2" width="1.4" height="2.7"/><rect x="1150.1" y="179.9" width="1.3" height="2.3"/><rect x="1148.8" y="257.0" width="2.3" height="2.4"/><rect x="1142.2" y="105.5" width="2.5" height="2.5"/><rect x="1150.6" y="325.6" width="1.3" height="2.6"/><rect x="1154.0" y="331.8" width="1.5" height="1.4"/><rect x="1144.4" y="97.2" width="2.6" height="2.5"/><rect x="1150.1" y="257.1" width="1.7" height="1.4"/><rect x="1140.8" y="114.1" width="2.4" height="1.5"/><rect x="1148.5" y="173.1" width="1.6" height="1.7"/><rect x="1148.5" y="278.8" width="1.8" height="1.7"/><rect x="1147.7" y="345.0" width="2.2" height="1.2"/><rect x="1150.3" y="198.1" width="1.9" height="2.4"/><rect x="1148.6" y="180.5" width="1.5" height="2.6"/><rect x="1141.0" y="112.2" width="2.5" height="1.5"/><rect x="1146.8" y="88.3" width="2.8" height="1.2"/><rect x="1155.0" y="218.9" width="2.0" height="2.5"/><rect x="1142.9" y="137.2" width="2.5" height="1.6"/><rect x="1153.3" y="339.6" width="1.7" height="1.5"/><rect x="1146.7" y="274.5" width="2.2" height="1.3"/><rect x="1149.4" y="298.1" width="2.3" height="2.5"/><rect x="1146.4" y="255.4" width="1.8" height="2.6"/><rect x="1147.0" y="111.0" width="2.6" height="1.2"/><rect x="1145.6" y="143.0" width="2.0" height="1.8"/><rect x="1158.4" y="323.7" width="1.6" height="1.9"/><rect x="1149.7" y="229.7" width="2.2" height="1.8"/><rect x="1144.2" y="175.1" width="1.4" height="2.5"/><rect x="1148.0" y="264.5" width="1.9" height="2.4"/><rect x="1147.0" y="242.4" width="1.4" height="1.9"/><rect x="1152.1" y="324.0" width="1.7" height="2.3"/><rect x="1152.8" y="312.9" width="1.4" height="1.4"/><rect x="1145.5" y="154.0" width="1.5" height="1.7"/><rect x="1149.0" y="138.5" width="2.8" height="2.4"/><rect x="1146.0" y="115.1" width="1.8" height="2.8"/><rect x="1149.3" y="299.9" width="2.4" height="1.9"/></g>
<g stroke="#60b830" stroke-width="0.6" opacity="0.35"><line x1="1065.9" y1="258.1" x2="1091.8" y2="246.7"/><line x1="1117.1" y1="97.0" x2="1167.9" y2="87.8"/><line x1="1198.4" y1="221.4" x2="1236.9" y2="221.7"/><line x1="1051.5" y1="248.9" x2="1100.3" y2="240.2"/><line x1="1255.5" y1="202.6" x2="1305.4" y2="200.6"/><line x1="1125.9" y1="148.9" x2="1180.9" y2="153.2"/><line x1="1219.8" y1="274.6" x2="1266.2" y2="283.2"/><line x1="1184.5" y1="209.0" x2="1228.3" y2="197.9"/><line x1="1039.8" y1="199.9" x2="1087.9" y2="206.0"/><line x1="1181.4" y1="154.7" x2="1219.1" y2="148.5"/><line x1="1179.2" y1="197.1" x2="1236.4" y2="199.4"/><line x1="1062.4" y1="262.5" x2="1097.7" y2="266.8"/><line x1="1144.1" y1="347.8" x2="1181.4" y2="329.0"/><line x1="1056.5" y1="296.4" x2="1096.0" y2="306.6"/><line x1="1040.6" y1="241.2" x2="1089.2" y2="237.9"/><line x1="1150.1" y1="258.4" x2="1190.4" y2="265.1"/><line x1="1123.0" y1="340.7" x2="1167.8" y2="325.3"/><line x1="1118.2" y1="291.3" x2="1172.9" y2="268.1"/><line x1="1108.4" y1="103.1" x2="1142.9" y2="93.1"/><line x1="1017.2" y1="199.6" x2="1064.5" y2="191.8"/><line x1="1107.5" y1="158.7" x2="1154.6" y2="143.0"/><line x1="1264.0" y1="228.5" x2="1313.3" y2="211.9"/><line x1="1118.1" y1="144.5" x2="1165.2" y2="124.8"/><line x1="1229.3" y1="257.1" x2="1271.4" y2="251.8"/><line x1="1073.9" y1="345.0" x2="1118.4" y2="335.1"/><line x1="1231.7" y1="305.6" x2="1263.3" y2="301.6"/></g>
<ellipse cx="1054.4" cy="121.4" rx="2.7" ry="2.4" fill="#e82a22" opacity="0.61"/><ellipse cx="1032.5" cy="201.6" rx="2.5" ry="2.5" fill="#d81c1c" opacity="0.82"/><ellipse cx="1040.3" cy="262.5" rx="2.6" ry="2.5" fill="#f03428" opacity="0.67"/><ellipse cx="1062.7" cy="184.6" rx="3.5" ry="3.5" fill="#f03428" opacity="0.52"/><ellipse cx="1081.0" cy="297.0" rx="2.4" ry="1.9" fill="#c41818" opacity="0.75"/><ellipse cx="1014.6" cy="341.7" rx="2.6" ry="2.6" fill="#d81c1c" opacity="0.73"/><ellipse cx="1027.5" cy="208.5" rx="3.3" ry="3.3" fill="#e82a22" opacity="0.86"/><ellipse cx="1026.2" cy="325.6" rx="3.3" ry="3.1" fill="#a01210" opacity="0.86"/><ellipse cx="1061.0" cy="167.2" rx="2.9" ry="2.9" fill="#e82a22" opacity="0.71"/><ellipse cx="1046.3" cy="323.3" rx="2.6" ry="2.4" fill="#e82a22" opacity="0.83"/><ellipse cx="1055.1" cy="217.1" rx="3.5" ry="3.2" fill="#a01210" opacity="0.70"/><ellipse cx="1076.2" cy="212.8" rx="3.0" ry="2.7" fill="#a01210" opacity="0.62"/><ellipse cx="1045.3" cy="354.6" rx="2.5" ry="2.0" fill="#c41818" opacity="0.75"/><ellipse cx="1059.0" cy="270.0" rx="3.5" ry="2.9" fill="#c41818" opacity="0.82"/><ellipse cx="1049.7" cy="289.9" rx="2.4" ry="2.3" fill="#e82a22" opacity="0.79"/><ellipse cx="1049.0" cy="228.1" rx="3.3" ry="2.9" fill="#e82a22" opacity="0.61"/><ellipse cx="1040.1" cy="219.6" rx="2.7" ry="2.4" fill="#c41818" opacity="0.85"/><ellipse cx="1028.8" cy="219.2" rx="2.4" ry="2.1" fill="#e82a22" opacity="0.63"/><ellipse cx="1057.3" cy="257.2" rx="3.3" ry="3.1" fill="#d81c1c" opacity="0.66"/><ellipse cx="1043.9" cy="241.0" rx="2.8" ry="2.3" fill="#d81c1c" opacity="0.50"/><ellipse cx="1082.2" cy="250.3" rx="3.1" ry="3.0" fill="#b81414" opacity="0.86"/><ellipse cx="1059.5" cy="255.1" rx="3.2" ry="2.6" fill="#b81414" opacity="0.85"/><ellipse cx="1016.6" cy="256.9" rx="3.1" ry="2.6" fill="#e82a22" opacity="0.54"/><ellipse cx="1016.4" cy="294.5" rx="3.5" ry="3.5" fill="#a01210" opacity="0.51"/><ellipse cx="1024.0" cy="170.5" rx="3.2" ry="2.6" fill="#c41818" opacity="0.57"/><ellipse cx="1015.2" cy="239.0" rx="3.0" ry="2.8" fill="#d81c1c" opacity="0.70"/><ellipse cx="1075.0" cy="294.3" rx="2.8" ry="2.5" fill="#a01210" opacity="0.87"/><ellipse cx="1014.7" cy="191.2" rx="3.0" ry="2.8" fill="#a01210" opacity="0.89"/><ellipse cx="1044.3" cy="115.2" rx="2.5" ry="2.3" fill="#e82a22" opacity="0.75"/><ellipse cx="1014.4" cy="266.5" rx="3.6" ry="3.0" fill="#d81c1c" opacity="0.59"/><ellipse cx="1048.8" cy="161.4" rx="3.0" ry="2.5" fill="#f03428" opacity="0.79"/><ellipse cx="1017.4" cy="294.4" rx="3.2" ry="2.6" fill="#e82a22" opacity="0.79"/><ellipse cx="1060.4" cy="277.1" rx="2.8" ry="2.3" fill="#c41818" opacity="0.87"/><ellipse cx="1016.1" cy="104.1" rx="3.2" ry="2.8" fill="#b81414" opacity="0.53"/><ellipse cx="1067.9" cy="132.3" rx="3.4" ry="3.0" fill="#f03428" opacity="0.74"/><ellipse cx="1084.2" cy="282.0" rx="2.9" ry="2.9" fill="#e82a22" opacity="0.56"/><ellipse cx="1040.7" cy="259.9" rx="3.1" ry="3.1" fill="#f03428" opacity="0.69"/><ellipse cx="1047.3" cy="160.5" rx="3.3" ry="2.7" fill="#c41818" opacity="0.62"/><ellipse cx="1086.1" cy="275.5" rx="3.4" ry="3.3" fill="#c41818" opacity="0.85"/><ellipse cx="1014.9" cy="128.3" rx="3.0" ry="2.9" fill="#e82a22" opacity="0.65"/><ellipse cx="1058.4" cy="326.9" rx="2.6" ry="2.3" fill="#d81c1c" opacity="0.63"/><ellipse cx="1025.4" cy="333.4" rx="3.3" ry="3.3" fill="#c41818" opacity="0.83"/><ellipse cx="1078.1" cy="240.5" rx="2.6" ry="2.7" fill="#b81414" opacity="0.77"/><ellipse cx="1039.5" cy="110.7" rx="3.3" ry="3.3" fill="#e82a22" opacity="0.82"/><ellipse cx="1086.7" cy="170.5" rx="2.3" ry="1.9" fill="#f03428" opacity="0.69"/><ellipse cx="1032.6" cy="288.3" rx="3.3" ry="3.1" fill="#f03428" opacity="0.72"/><ellipse cx="1052.4" cy="157.2" rx="3.4" ry="3.2" fill="#c41818" opacity="0.69"/><ellipse cx="1027.8" cy="139.3" rx="2.5" ry="2.3" fill="#a01210" opacity="0.62"/><ellipse cx="1040.4" cy="295.9" rx="3.4" ry="3.6" fill="#e82a22" opacity="0.52"/><ellipse cx="1041.5" cy="116.3" rx="3.3" ry="2.7" fill="#e82a22" opacity="0.63"/><ellipse cx="1034.5" cy="249.9" rx="2.3" ry="2.4" fill="#e82a22" opacity="0.90"/><ellipse cx="1049.8" cy="239.2" rx="2.6" ry="2.7" fill="#c41818" opacity="0.67"/><ellipse cx="1070.7" cy="306.3" rx="2.6" ry="2.7" fill="#d81c1c" opacity="0.64"/><ellipse cx="1041.2" cy="276.1" rx="2.9" ry="2.8" fill="#d81c1c" opacity="0.85"/><ellipse cx="1082.2" cy="276.3" rx="2.3" ry="2.2" fill="#c41818" opacity="0.73"/><ellipse cx="1084.8" cy="266.5" rx="2.8" ry="2.5" fill="#f03428" opacity="0.84"/><ellipse cx="1031.2" cy="280.1" rx="2.4" ry="2.0" fill="#c41818" opacity="0.88"/><ellipse cx="1054.8" cy="95.4" rx="2.6" ry="2.5" fill="#b81414" opacity="0.78"/><ellipse cx="1069.8" cy="338.4" rx="2.6" ry="2.5" fill="#b81414" opacity="0.68"/><ellipse cx="1048.7" cy="187.1" rx="2.7" ry="2.3" fill="#c41818" opacity="0.69"/><ellipse cx="1031.4" cy="126.2" rx="2.2" ry="2.2" fill="#a01210" opacity="0.87"/><ellipse cx="1059.7" cy="187.5" rx="3.2" ry="3.4" fill="#f03428" opacity="0.88"/><ellipse cx="1085.9" cy="174.0" rx="2.5" ry="2.1" fill="#d81c1c" opacity="0.75"/><ellipse cx="1030.2" cy="103.1" rx="3.0" ry="2.5" fill="#e82a22" opacity="0.68"/><ellipse cx="1044.8" cy="153.8" rx="2.2" ry="2.0" fill="#b81414" opacity="0.84"/><ellipse cx="1026.2" cy="218.9" rx="2.6" ry="2.8" fill="#f03428" opacity="0.55"/><ellipse cx="1017.9" cy="326.6" rx="2.5" ry="2.1" fill="#f03428" opacity="0.83"/><ellipse cx="1033.1" cy="151.6" rx="2.5" ry="2.6" fill="#f03428" opacity="0.62"/><ellipse cx="1018.0" cy="281.7" rx="2.6" ry="2.6" fill="#a01210" opacity="0.51"/><ellipse cx="1075.5" cy="228.4" rx="2.5" ry="2.2" fill="#f03428" opacity="0.52"/><ellipse cx="1034.3" cy="136.2" rx="3.4" ry="3.3" fill="#b81414" opacity="0.81"/><ellipse cx="1058.9" cy="220.1" rx="2.6" ry="2.5" fill="#e82a22" opacity="0.55"/><ellipse cx="1060.4" cy="139.2" rx="2.6" ry="2.6" fill="#d81c1c" opacity="0.53"/><ellipse cx="1044.0" cy="280.4" rx="2.3" ry="2.3" fill="#c41818" opacity="0.63"/><ellipse cx="1077.9" cy="219.4" rx="2.2" ry="2.1" fill="#f03428" opacity="0.55"/><ellipse cx="1032.2" cy="238.1" rx="3.6" ry="3.2" fill="#d81c1c" opacity="0.57"/><ellipse cx="1057.9" cy="89.2" rx="2.8" ry="2.5" fill="#b81414" opacity="0.53"/><ellipse cx="1031.9" cy="309.3" rx="3.3" ry="3.4" fill="#f03428" opacity="0.73"/><ellipse cx="1035.4" cy="116.7" rx="2.8" ry="2.6" fill="#d81c1c" opacity="0.71"/><ellipse cx="1065.6" cy="140.0" rx="2.2" ry="2.0" fill="#b81414" opacity="0.75"/><ellipse cx="1031.4" cy="206.4" rx="2.7" ry="2.2" fill="#d81c1c" opacity="0.79"/><ellipse cx="1022.8" cy="219.6" rx="2.9" ry="2.4" fill="#c41818" opacity="0.54"/><ellipse cx="1079.4" cy="232.4" rx="2.5" ry="2.4" fill="#e82a22" opacity="0.56"/><ellipse cx="1069.2" cy="131.8" rx="3.4" ry="3.0" fill="#a01210" opacity="0.66"/><ellipse cx="1076.1" cy="228.1" rx="2.8" ry="2.4" fill="#d81c1c" opacity="0.81"/><ellipse cx="1031.6" cy="177.3" rx="2.8" ry="2.9" fill="#b81414" opacity="0.82"/><ellipse cx="1052.1" cy="343.4" rx="2.5" ry="2.0" fill="#f03428" opacity="0.77"/><ellipse cx="1021.8" cy="138.0" rx="2.7" ry="2.1" fill="#e82a22" opacity="0.70"/><ellipse cx="1024.1" cy="346.5" rx="3.5" ry="3.7" fill="#a01210" opacity="0.52"/><ellipse cx="1086.0" cy="98.7" rx="3.1" ry="2.9" fill="#a01210" opacity="0.75"/><ellipse cx="1026.1" cy="104.1" rx="3.5" ry="3.3" fill="#c41818" opacity="0.53"/><ellipse cx="1082.9" cy="205.3" rx="2.9" ry="2.8" fill="#c41818" opacity="0.87"/><ellipse cx="1034.1" cy="284.2" rx="3.2" ry="3.1" fill="#c41818" opacity="0.84"/><ellipse cx="1056.1" cy="261.4" rx="2.5" ry="2.5" fill="#a01210" opacity="0.65"/><ellipse cx="1036.3" cy="215.4" rx="3.3" ry="2.9" fill="#d81c1c" opacity="0.60"/><ellipse cx="1051.8" cy="190.2" rx="3.0" ry="2.5" fill="#d81c1c" opacity="0.87"/><ellipse cx="1084.4" cy="174.4" rx="2.7" ry="2.8" fill="#c41818" opacity="0.61"/><ellipse cx="1035.7" cy="293.8" rx="2.4" ry="2.1" fill="#d81c1c" opacity="0.74"/><ellipse cx="1062.6" cy="225.8" rx="3.4" ry="2.8" fill="#c41818" opacity="0.79"/><ellipse cx="1030.4" cy="343.8" rx="2.4" ry="2.0" fill="#c41818" opacity="0.77"/><ellipse cx="1028.7" cy="250.8" rx="2.6" ry="2.6" fill="#b81414" opacity="0.54"/><ellipse cx="1060.6" cy="256.5" rx="3.2" ry="2.6" fill="#f03428" opacity="0.85"/><ellipse cx="1070.6" cy="244.2" rx="2.9" ry="2.9" fill="#b81414" opacity="0.56"/><ellipse cx="1034.5" cy="253.7" rx="2.4" ry="2.1" fill="#f03428" opacity="0.78"/><ellipse cx="1039.9" cy="182.1" rx="2.9" ry="2.6" fill="#b81414" opacity="0.65"/><ellipse cx="1072.2" cy="314.5" rx="2.8" ry="2.8" fill="#e82a22" opacity="0.71"/><ellipse cx="1046.1" cy="188.5" rx="2.5" ry="2.6" fill="#c41818" opacity="0.63"/><ellipse cx="1017.2" cy="238.6" rx="2.9" ry="2.7" fill="#b81414" opacity="0.81"/><ellipse cx="1087.9" cy="226.0" rx="2.9" ry="2.7" fill="#a01210" opacity="0.67"/><ellipse cx="1016.7" cy="268.3" rx="2.8" ry="2.6" fill="#d81c1c" opacity="0.77"/><ellipse cx="1021.1" cy="187.8" rx="2.8" ry="2.3" fill="#b81414" opacity="0.87"/><ellipse cx="1027.7" cy="200.3" rx="2.8" ry="2.6" fill="#b81414" opacity="0.86"/><ellipse cx="1065.1" cy="287.0" rx="2.3" ry="2.4" fill="#c41818" opacity="0.63"/><ellipse cx="1075.1" cy="224.7" rx="2.4" ry="2.4" fill="#c41818" opacity="0.78"/><ellipse cx="1025.3" cy="165.3" rx="2.9" ry="2.6" fill="#b81414" opacity="0.86"/><ellipse cx="1018.2" cy="238.6" rx="2.3" ry="2.3" fill="#b81414" opacity="0.90"/><ellipse cx="1016.8" cy="197.7" rx="3.3" ry="3.1" fill="#c41818" opacity="0.78"/><ellipse cx="1081.8" cy="194.0" rx="2.3" ry="2.0" fill="#d81c1c" opacity="0.77"/><ellipse cx="1050.7" cy="235.5" rx="2.6" ry="2.4" fill="#a01210" opacity="0.86"/><ellipse cx="1024.4" cy="140.9" rx="3.0" ry="3.0" fill="#e82a22" opacity="0.56"/><ellipse cx="1052.5" cy="307.4" rx="3.3" ry="3.2" fill="#d81c1c" opacity="0.76"/><ellipse cx="1034.2" cy="96.8" rx="3.4" ry="2.9" fill="#b81414" opacity="0.53"/><ellipse cx="1043.1" cy="291.7" rx="2.3" ry="2.0" fill="#d81c1c" opacity="0.75"/><ellipse cx="1017.0" cy="336.2" rx="2.6" ry="2.5" fill="#f03428" opacity="0.62"/><ellipse cx="1085.0" cy="220.1" rx="3.5" ry="3.4" fill="#e82a22" opacity="0.77"/><ellipse cx="1041.9" cy="226.3" rx="2.6" ry="2.1" fill="#c8d830" opacity="0.90"/><ellipse cx="1055.6" cy="193.7" rx="2.4" ry="2.0" fill="#c8d830" opacity="0.90"/><ellipse cx="1060.6" cy="214.1" rx="2.8" ry="2.4" fill="#e0e040" opacity="0.90"/><ellipse cx="1055.8" cy="218.6" rx="2.9" ry="2.6" fill="#e0e040" opacity="0.90"/><ellipse cx="1057.8" cy="240.4" rx="2.6" ry="2.3" fill="#c8d830" opacity="0.90"/><ellipse cx="1025.2" cy="188.5" rx="2.9" ry="2.9" fill="#f0f060" opacity="0.90"/><ellipse cx="1025.4" cy="198.0" rx="2.4" ry="2.2" fill="#d8e838" opacity="0.90"/><ellipse cx="1036.3" cy="264.5" rx="2.4" ry="2.2" fill="#f0f060" opacity="0.90"/><ellipse cx="1048.6" cy="222.7" rx="3.2" ry="2.8" fill="#d8e838" opacity="0.90"/><ellipse cx="1036.7" cy="205.4" rx="3.1" ry="3.2" fill="#d8e838" opacity="0.90"/><ellipse cx="1061.9" cy="244.6" rx="2.6" ry="2.5" fill="#f0f060" opacity="0.90"/><ellipse cx="1033.2" cy="236.0" rx="2.3" ry="2.3" fill="#e0e040" opacity="0.90"/><ellipse cx="1018.1" cy="270.2" rx="2.9" ry="2.4" fill="#c8d830" opacity="0.90"/><ellipse cx="1048.4" cy="199.5" rx="2.2" ry="2.2" fill="#e0e040" opacity="0.90"/><ellipse cx="1051.2" cy="208.2" rx="2.4" ry="2.0" fill="#e0e040" opacity="0.90"/><ellipse cx="1057.8" cy="265.5" rx="3.0" ry="2.4" fill="#d8e838" opacity="0.90"/><ellipse cx="1028.7" cy="207.6" rx="2.3" ry="2.0" fill="#c8d830" opacity="0.90"/><ellipse cx="1033.2" cy="275.9" rx="3.0" ry="3.1" fill="#d8e838" opacity="0.90"/><ellipse cx="1030.7" cy="185.7" rx="2.8" ry="2.9" fill="#48b828" opacity="0.85"/><ellipse cx="1016.1" cy="275.6" rx="2.6" ry="2.3" fill="#90d830" opacity="0.85"/><ellipse cx="1074.3" cy="136.4" rx="2.3" ry="2.2" fill="#60d038" opacity="0.85"/><ellipse cx="1017.6" cy="98.7" rx="2.3" ry="2.3" fill="#60d038" opacity="0.85"/><ellipse cx="1028.7" cy="284.8" rx="2.6" ry="2.5" fill="#60d038" opacity="0.85"/><ellipse cx="1035.6" cy="220.7" rx="2.6" ry="2.5" fill="#90d830" opacity="0.85"/><ellipse cx="1069.1" cy="337.5" rx="2.3" ry="2.3" fill="#48b828" opacity="0.85"/><ellipse cx="1098.0" cy="244.0" rx="2.8" ry="2.7" fill="#60d038" opacity="0.85"/><ellipse cx="1017.3" cy="172.9" rx="2.8" ry="2.8" fill="#48b828" opacity="0.85"/><ellipse cx="1022.0" cy="273.2" rx="2.5" ry="2.2" fill="#60d038" opacity="0.85"/><ellipse cx="1092.2" cy="340.3" rx="2.4" ry="2.4" fill="#c41818" opacity="0.61"/><ellipse cx="1127.0" cy="255.5" rx="2.5" ry="2.1" fill="#d81c1c" opacity="0.60"/><ellipse cx="1119.6" cy="313.7" rx="2.8" ry="2.3" fill="#f03428" opacity="0.63"/><ellipse cx="1121.0" cy="302.8" rx="2.3" ry="2.3" fill="#b81414" opacity="0.45"/><ellipse cx="1099.1" cy="157.4" rx="3.0" ry="2.7" fill="#e82a22" opacity="0.51"/><ellipse cx="1097.5" cy="170.8" rx="2.1" ry="2.0" fill="#a01210" opacity="0.55"/><ellipse cx="1121.2" cy="89.6" rx="2.7" ry="2.4" fill="#e82a22" opacity="0.68"/><ellipse cx="1102.1" cy="323.9" rx="2.1" ry="2.1" fill="#b81414" opacity="0.47"/><ellipse cx="1093.5" cy="201.2" rx="2.9" ry="2.8" fill="#a01210" opacity="0.60"/><ellipse cx="1109.7" cy="292.3" rx="2.8" ry="2.3" fill="#d81c1c" opacity="0.61"/><ellipse cx="1110.9" cy="99.6" rx="2.9" ry="2.8" fill="#c41818" opacity="0.46"/><ellipse cx="1109.1" cy="118.1" rx="2.3" ry="2.0" fill="#f03428" opacity="0.57"/><ellipse cx="1114.2" cy="100.2" rx="2.5" ry="2.4" fill="#f03428" opacity="0.43"/><ellipse cx="1134.1" cy="238.3" rx="2.1" ry="1.9" fill="#f03428" opacity="0.69"/><ellipse cx="1232.0" cy="229.1" rx="2.4" ry="2.3" fill="#58c830" opacity="0.90"/><ellipse cx="1253.3" cy="256.3" rx="3.1" ry="3.0" fill="#58c830" opacity="0.90"/><ellipse cx="1214.5" cy="102.1" rx="2.8" ry="2.4" fill="#f0f060" opacity="0.90"/><ellipse cx="1215.1" cy="121.4" rx="3.1" ry="2.5" fill="#f0f060" opacity="0.90"/><ellipse cx="1228.6" cy="217.4" rx="2.8" ry="2.4" fill="#60d038" opacity="0.90"/><ellipse cx="1240.7" cy="154.3" rx="3.0" ry="3.0" fill="#60d038" opacity="0.90"/><ellipse cx="1226.0" cy="133.6" rx="3.3" ry="3.3" fill="#48b828" opacity="0.90"/><ellipse cx="1244.8" cy="258.1" rx="2.9" ry="2.8" fill="#90d830" opacity="0.90"/><ellipse cx="1229.7" cy="267.2" rx="2.5" ry="2.1" fill="#c8d830" opacity="0.90"/><ellipse cx="1215.4" cy="167.8" rx="3.5" ry="3.6" fill="#d8e838" opacity="0.90"/><ellipse cx="1230.5" cy="241.1" rx="2.7" ry="2.8" fill="#e0e040" opacity="0.90"/><ellipse cx="1240.9" cy="242.0" rx="3.2" ry="2.7" fill="#48b828" opacity="0.90"/><ellipse cx="1233.6" cy="101.0" rx="3.4" ry="3.1" fill="#d8e838" opacity="0.90"/><ellipse cx="1240.6" cy="207.9" rx="3.3" ry="2.9" fill="#f0f060" opacity="0.90"/><ellipse cx="1218.6" cy="88.8" rx="3.0" ry="2.4" fill="#90d830" opacity="0.90"/><ellipse cx="1204.1" cy="146.3" rx="2.9" ry="2.9" fill="#a8d838" opacity="0.90"/><ellipse cx="1272.8" cy="243.8" rx="3.0" ry="3.0" fill="#e0e040" opacity="0.90"/><ellipse cx="1217.4" cy="147.7" rx="3.1" ry="3.2" fill="#48b828" opacity="0.90"/><ellipse cx="1221.0" cy="174.5" rx="2.7" ry="2.7" fill="#e0e040" opacity="0.90"/><ellipse cx="1210.4" cy="128.0" rx="3.2" ry="2.7" fill="#d8e838" opacity="0.90"/><ellipse cx="1201.5" cy="192.2" rx="2.7" ry="2.6" fill="#c8d830" opacity="0.90"/><ellipse cx="1214.3" cy="159.3" rx="2.4" ry="2.5" fill="#f0f060" opacity="0.90"/><ellipse cx="1218.6" cy="124.5" rx="3.3" ry="2.8" fill="#d8e838" opacity="0.90"/><ellipse cx="1224.5" cy="208.6" rx="3.2" ry="3.0" fill="#c8d830" opacity="0.90"/><ellipse cx="1213.6" cy="128.8" rx="2.9" ry="3.0" fill="#d8e838" opacity="0.90"/><ellipse cx="1231.2" cy="210.3" rx="3.3" ry="3.3" fill="#f0f060" opacity="0.90"/><ellipse cx="1225.0" cy="187.1" rx="2.4" ry="2.0" fill="#a8d838" opacity="0.90"/><ellipse cx="1217.6" cy="237.4" rx="2.8" ry="2.9" fill="#f0f060" opacity="0.90"/><ellipse cx="1212.5" cy="122.5" rx="2.7" ry="2.5" fill="#e0e040" opacity="0.90"/><ellipse cx="1214.4" cy="96.5" rx="2.4" ry="2.2" fill="#c8d830" opacity="0.90"/><ellipse cx="1234.6" cy="109.7" rx="2.4" ry="2.3" fill="#c8d830" opacity="0.90"/><ellipse cx="1263.1" cy="253.2" rx="3.3" ry="3.0" fill="#f0f060" opacity="0.90"/><ellipse cx="1246.3" cy="239.5" rx="2.3" ry="1.9" fill="#58c830" opacity="0.90"/><ellipse cx="1204.1" cy="155.1" rx="3.2" ry="3.1" fill="#60d038" opacity="0.90"/><ellipse cx="1208.7" cy="95.8" rx="3.0" ry="2.4" fill="#d8e838" opacity="0.90"/><ellipse cx="1237.9" cy="251.8" rx="2.6" ry="2.2" fill="#60d038" opacity="0.90"/><ellipse cx="1235.5" cy="168.4" rx="2.4" ry="2.2" fill="#e0e040" opacity="0.90"/><ellipse cx="1199.8" cy="101.3" rx="2.6" ry="2.4" fill="#f0f060" opacity="0.90"/><ellipse cx="1216.5" cy="140.2" rx="2.5" ry="2.3" fill="#58c830" opacity="0.90"/><ellipse cx="1222.6" cy="212.1" rx="3.3" ry="2.6" fill="#90d830" opacity="0.90"/><ellipse cx="1232.0" cy="149.6" rx="3.3" ry="2.7" fill="#e0e040" opacity="0.90"/><ellipse cx="1244.6" cy="199.7" rx="3.1" ry="3.1" fill="#48b828" opacity="0.90"/><ellipse cx="1238.4" cy="262.2" rx="2.6" ry="2.1" fill="#a8d838" opacity="0.90"/><ellipse cx="1209.4" cy="147.3" rx="2.6" ry="2.4" fill="#f0f060" opacity="0.90"/><ellipse cx="1219.4" cy="95.9" rx="2.9" ry="2.6" fill="#90d830" opacity="0.90"/><ellipse cx="1234.2" cy="151.7" rx="2.3" ry="2.0" fill="#90d830" opacity="0.90"/><ellipse cx="1175.8" cy="91.7" rx="2.4" ry="2.3" fill="#f0f060" opacity="0.90"/><ellipse cx="1226.3" cy="113.9" rx="2.8" ry="2.6" fill="#d8e838" opacity="0.90"/><ellipse cx="1206.0" cy="135.2" rx="3.4" ry="3.5" fill="#e0e040" opacity="0.90"/><ellipse cx="1234.6" cy="250.5" rx="2.4" ry="2.4" fill="#c8d830" opacity="0.90"/><ellipse cx="1224.3" cy="202.0" rx="2.6" ry="2.7" fill="#c8d830" opacity="0.90"/><ellipse cx="1233.2" cy="257.0" rx="3.1" ry="3.2" fill="#58c830" opacity="0.90"/><ellipse cx="1206.5" cy="149.5" rx="2.6" ry="2.5" fill="#a8d838" opacity="0.90"/><ellipse cx="1242.2" cy="148.2" rx="3.1" ry="3.2" fill="#60d038" opacity="0.90"/><ellipse cx="1209.8" cy="228.9" rx="3.3" ry="2.7" fill="#60d038" opacity="0.90"/><ellipse cx="1218.0" cy="125.0" rx="3.4" ry="3.0" fill="#90d830" opacity="0.90"/><ellipse cx="1229.0" cy="159.3" rx="3.0" ry="2.6" fill="#f0f060" opacity="0.90"/><ellipse cx="1192.4" cy="143.5" rx="3.2" ry="3.1" fill="#a8d838" opacity="0.90"/><ellipse cx="1250.9" cy="261.8" rx="3.4" ry="3.0" fill="#f0f060" opacity="0.90"/><ellipse cx="1227.2" cy="151.6" rx="2.9" ry="2.8" fill="#48b828" opacity="0.90"/><ellipse cx="1247.9" cy="254.0" rx="2.5" ry="2.4" fill="#58c830" opacity="0.90"/><ellipse cx="1226.9" cy="224.5" rx="3.1" ry="3.0" fill="#c8d830" opacity="0.90"/><ellipse cx="1212.1" cy="127.3" rx="3.0" ry="2.9" fill="#a8d838" opacity="0.90"/><ellipse cx="1223.5" cy="123.4" rx="3.2" ry="3.0" fill="#f0f060" opacity="0.90"/><ellipse cx="1224.3" cy="102.3" rx="2.7" ry="2.2" fill="#f0f060" opacity="0.90"/><ellipse cx="1196.1" cy="136.7" rx="3.1" ry="2.9" fill="#e0e040" opacity="0.90"/><ellipse cx="1244.6" cy="254.1" rx="3.2" ry="2.9" fill="#90d830" opacity="0.90"/><ellipse cx="1245.2" cy="210.2" rx="2.7" ry="2.7" fill="#e0e040" opacity="0.90"/><ellipse cx="1253.1" cy="231.3" rx="3.2" ry="2.8" fill="#48b828" opacity="0.90"/><ellipse cx="1236.3" cy="171.4" rx="2.3" ry="2.2" fill="#60d038" opacity="0.90"/><ellipse cx="1260.8" cy="265.8" rx="3.2" ry="2.7" fill="#60d038" opacity="0.90"/><ellipse cx="1218.8" cy="91.3" rx="2.6" ry="2.5" fill="#a8d838" opacity="0.90"/><ellipse cx="1220.3" cy="104.2" rx="2.9" ry="2.5" fill="#a8d838" opacity="0.90"/><ellipse cx="1231.2" cy="264.7" rx="3.0" ry="2.9" fill="#c8d830" opacity="0.90"/><ellipse cx="1215.1" cy="134.4" rx="3.2" ry="3.1" fill="#58c830" opacity="0.90"/><ellipse cx="1208.4" cy="186.9" rx="3.1" ry="2.7" fill="#a8d838" opacity="0.90"/><ellipse cx="1235.4" cy="182.2" rx="2.3" ry="1.9" fill="#90d830" opacity="0.90"/><ellipse cx="1235.7" cy="233.7" rx="3.5" ry="3.6" fill="#f0f060" opacity="0.90"/><ellipse cx="1219.6" cy="129.1" rx="2.3" ry="1.9" fill="#f0f060" opacity="0.90"/><ellipse cx="1224.0" cy="185.8" rx="2.5" ry="2.2" fill="#f0f060" opacity="0.90"/><ellipse cx="1229.5" cy="197.1" rx="3.3" ry="3.1" fill="#f0f060" opacity="0.90"/><ellipse cx="1195.4" cy="151.1" rx="3.2" ry="3.3" fill="#90d830" opacity="0.90"/><ellipse cx="1220.3" cy="177.8" rx="3.3" ry="2.8" fill="#90d830" opacity="0.90"/><ellipse cx="1228.6" cy="230.2" rx="2.3" ry="1.9" fill="#e0e040" opacity="0.90"/><ellipse cx="1211.7" cy="204.2" rx="2.4" ry="2.1" fill="#48b828" opacity="0.90"/><ellipse cx="1256.8" cy="253.4" rx="3.4" ry="2.8" fill="#c8d830" opacity="0.90"/><ellipse cx="1210.2" cy="91.7" rx="2.7" ry="2.7" fill="#60d038" opacity="0.90"/><ellipse cx="1223.5" cy="203.7" rx="2.7" ry="2.3" fill="#90d830" opacity="0.90"/><ellipse cx="1244.8" cy="190.5" rx="3.3" ry="3.5" fill="#58c830" opacity="0.90"/><ellipse cx="1238.0" cy="112.6" rx="2.7" ry="2.3" fill="#d8e838" opacity="0.90"/><ellipse cx="1233.7" cy="175.4" rx="3.1" ry="2.7" fill="#90d830" opacity="0.90"/><ellipse cx="1208.8" cy="97.4" rx="3.2" ry="2.6" fill="#60d038" opacity="0.90"/><ellipse cx="1224.2" cy="227.3" rx="2.5" ry="2.4" fill="#58c830" opacity="0.90"/><ellipse cx="1243.3" cy="232.9" rx="2.5" ry="2.1" fill="#e0e040" opacity="0.90"/><ellipse cx="1209.7" cy="142.5" rx="3.2" ry="3.1" fill="#90d830" opacity="0.90"/><ellipse cx="1214.7" cy="104.2" rx="2.7" ry="2.8" fill="#48b828" opacity="0.90"/><ellipse cx="1253.0" cy="264.3" rx="3.3" ry="2.6" fill="#e0e040" opacity="0.90"/><ellipse cx="1230.3" cy="178.9" rx="2.6" ry="2.5" fill="#48b828" opacity="0.90"/><ellipse cx="1261.9" cy="219.1" rx="2.4" ry="2.0" fill="#d8e838" opacity="0.90"/><ellipse cx="1236.0" cy="175.7" rx="2.5" ry="2.0" fill="#48b828" opacity="0.90"/><ellipse cx="1201.4" cy="128.3" rx="3.0" ry="2.8" fill="#d8e838" opacity="0.90"/><ellipse cx="1234.6" cy="239.1" rx="3.4" ry="3.1" fill="#d8e838" opacity="0.90"/><ellipse cx="1245.3" cy="126.7" rx="3.2" ry="3.1" fill="#58c830" opacity="0.90"/><ellipse cx="1207.0" cy="90.7" rx="2.6" ry="2.2" fill="#e0e040" opacity="0.90"/><ellipse cx="1221.4" cy="96.6" rx="2.6" ry="2.5" fill="#60d038" opacity="0.90"/><ellipse cx="1202.1" cy="205.6" rx="3.0" ry="2.6" fill="#a8d838" opacity="0.90"/><ellipse cx="1246.8" cy="161.9" rx="2.6" ry="2.3" fill="#48b828" opacity="0.90"/><ellipse cx="1224.7" cy="163.4" rx="3.5" ry="3.4" fill="#48b828" opacity="0.90"/><ellipse cx="1249.8" cy="246.7" rx="3.1" ry="2.9" fill="#c8d830" opacity="0.90"/><ellipse cx="1215.8" cy="254.7" rx="2.6" ry="2.7" fill="#48b828" opacity="0.90"/><ellipse cx="1235.9" cy="236.6" rx="3.0" ry="3.1" fill="#e0e040" opacity="0.90"/><ellipse cx="1208.9" cy="96.9" rx="3.1" ry="3.0" fill="#60d038" opacity="0.90"/><ellipse cx="1219.3" cy="167.6" rx="3.0" ry="3.0" fill="#90d830" opacity="0.90"/><ellipse cx="1227.2" cy="241.6" rx="2.9" ry="3.1" fill="#a8d838" opacity="0.90"/><ellipse cx="1204.9" cy="130.2" rx="2.8" ry="2.5" fill="#d8e838" opacity="0.90"/><ellipse cx="1213.5" cy="182.7" rx="3.0" ry="2.5" fill="#60d038" opacity="0.90"/><ellipse cx="1222.7" cy="231.5" rx="3.2" ry="3.3" fill="#58c830" opacity="0.90"/><ellipse cx="1202.0" cy="173.2" rx="3.2" ry="3.0" fill="#a8d838" opacity="0.90"/><ellipse cx="1235.3" cy="190.7" rx="3.2" ry="3.0" fill="#60d038" opacity="0.90"/><ellipse cx="1229.1" cy="182.9" rx="3.3" ry="3.2" fill="#c8d830" opacity="0.90"/><ellipse cx="1212.7" cy="115.4" rx="3.4" ry="3.0" fill="#e0e040" opacity="0.90"/><ellipse cx="1216.8" cy="153.1" rx="3.3" ry="2.8" fill="#48b828" opacity="0.90"/><ellipse cx="1216.9" cy="115.7" rx="2.7" ry="2.5" fill="#a8d838" opacity="0.90"/><ellipse cx="1232.7" cy="169.5" rx="2.4" ry="2.1" fill="#48b828" opacity="0.90"/><ellipse cx="1240.5" cy="168.3" rx="3.2" ry="3.1" fill="#f0f060" opacity="0.90"/><ellipse cx="1228.8" cy="115.0" rx="3.1" ry="2.9" fill="#60d038" opacity="0.90"/><ellipse cx="1222.0" cy="206.8" rx="3.3" ry="2.6" fill="#58c830" opacity="0.90"/><ellipse cx="1207.5" cy="124.2" rx="3.0" ry="2.8" fill="#e0e040" opacity="0.90"/><ellipse cx="1194.1" cy="143.2" rx="2.6" ry="2.6" fill="#58c830" opacity="0.90"/><ellipse cx="1206.9" cy="104.4" rx="3.1" ry="2.6" fill="#d8e838" opacity="0.90"/><ellipse cx="1236.7" cy="327.7" rx="3.1" ry="3.0" fill="#c41818" opacity="0.92"/><ellipse cx="1233.2" cy="230.4" rx="3.3" ry="3.1" fill="#f03428" opacity="0.72"/><ellipse cx="1224.3" cy="255.9" rx="3.4" ry="2.9" fill="#e82a22" opacity="0.92"/><ellipse cx="1277.9" cy="317.3" rx="2.8" ry="2.8" fill="#a01210" opacity="0.63"/><ellipse cx="1211.0" cy="282.7" rx="2.8" ry="2.9" fill="#f03428" opacity="0.75"/><ellipse cx="1261.8" cy="228.3" rx="3.1" ry="3.0" fill="#f03428" opacity="0.92"/><ellipse cx="1237.7" cy="353.9" rx="2.5" ry="2.3" fill="#d81c1c" opacity="0.73"/><ellipse cx="1243.4" cy="331.9" rx="3.2" ry="3.0" fill="#a01210" opacity="0.63"/><ellipse cx="1274.4" cy="263.1" rx="2.7" ry="2.3" fill="#f03428" opacity="0.86"/><ellipse cx="1221.6" cy="235.0" rx="3.4" ry="3.4" fill="#d81c1c" opacity="0.75"/><ellipse cx="1221.2" cy="283.9" rx="3.4" ry="3.1" fill="#e82a22" opacity="0.83"/><ellipse cx="1209.1" cy="314.6" rx="2.8" ry="2.6" fill="#b81414" opacity="0.61"/><ellipse cx="1208.8" cy="306.2" rx="2.7" ry="2.2" fill="#e82a22" opacity="0.76"/><ellipse cx="1279.2" cy="260.6" rx="2.6" ry="2.6" fill="#c41818" opacity="0.70"/><ellipse cx="1227.4" cy="276.2" rx="3.5" ry="3.0" fill="#a01210" opacity="0.57"/><ellipse cx="1270.0" cy="328.9" rx="3.4" ry="2.8" fill="#c41818" opacity="0.67"/><ellipse cx="1220.6" cy="309.5" rx="3.5" ry="3.3" fill="#a01210" opacity="0.75"/><ellipse cx="1232.4" cy="328.9" rx="2.6" ry="2.1" fill="#a01210" opacity="0.77"/><ellipse cx="1228.6" cy="294.1" rx="2.8" ry="2.3" fill="#b81414" opacity="0.88"/><ellipse cx="1221.5" cy="281.9" rx="2.6" ry="2.4" fill="#e82a22" opacity="0.87"/><ellipse cx="1239.1" cy="346.2" rx="2.9" ry="2.6" fill="#e82a22" opacity="0.57"/><ellipse cx="1252.9" cy="231.3" rx="3.4" ry="3.2" fill="#d81c1c" opacity="0.88"/><ellipse cx="1206.1" cy="318.5" rx="3.3" ry="3.2" fill="#e82a22" opacity="0.75"/><ellipse cx="1255.6" cy="263.2" rx="2.6" ry="2.7" fill="#e82a22" opacity="0.61"/><ellipse cx="1220.5" cy="238.1" rx="2.4" ry="2.2" fill="#d81c1c" opacity="0.93"/><ellipse cx="1254.4" cy="258.4" rx="3.5" ry="3.5" fill="#a01210" opacity="0.72"/><ellipse cx="1274.3" cy="242.3" rx="2.5" ry="2.2" fill="#f03428" opacity="0.67"/><ellipse cx="1248.7" cy="266.3" rx="3.0" ry="2.6" fill="#e82a22" opacity="0.67"/><ellipse cx="1246.2" cy="252.8" rx="3.5" ry="3.2" fill="#a01210" opacity="0.94"/><ellipse cx="1207.5" cy="274.2" rx="3.1" ry="3.1" fill="#e82a22" opacity="0.81"/><ellipse cx="1219.9" cy="244.3" rx="2.5" ry="2.1" fill="#c41818" opacity="0.82"/><ellipse cx="1267.1" cy="240.8" rx="3.5" ry="3.3" fill="#a01210" opacity="0.93"/><ellipse cx="1226.8" cy="270.1" rx="3.3" ry="3.4" fill="#f03428" opacity="0.91"/><ellipse cx="1220.0" cy="261.3" rx="2.7" ry="2.2" fill="#b81414" opacity="0.77"/><ellipse cx="1215.5" cy="260.1" rx="3.5" ry="3.0" fill="#e82a22" opacity="0.78"/><ellipse cx="1248.5" cy="238.0" rx="2.3" ry="2.2" fill="#e82a22" opacity="0.93"/><ellipse cx="1208.8" cy="268.2" rx="2.9" ry="2.6" fill="#e82a22" opacity="0.68"/><ellipse cx="1213.2" cy="332.8" rx="3.4" ry="2.8" fill="#a01210" opacity="0.77"/><ellipse cx="1246.4" cy="327.1" rx="3.1" ry="2.5" fill="#f03428" opacity="0.56"/><ellipse cx="1248.4" cy="278.5" rx="3.2" ry="2.8" fill="#f03428" opacity="0.78"/><ellipse cx="1233.1" cy="310.9" rx="2.5" ry="2.1" fill="#e82a22" opacity="0.82"/><ellipse cx="1205.4" cy="308.6" rx="3.4" ry="2.8" fill="#c41818" opacity="0.61"/><ellipse cx="1270.9" cy="240.2" rx="2.9" ry="2.6" fill="#b81414" opacity="0.77"/><ellipse cx="1223.4" cy="298.7" rx="2.4" ry="2.0" fill="#c41818" opacity="0.70"/><ellipse cx="1235.3" cy="251.4" rx="2.5" ry="2.3" fill="#e82a22" opacity="0.84"/><ellipse cx="1223.0" cy="237.3" rx="2.4" ry="2.4" fill="#d81c1c" opacity="0.75"/><ellipse cx="1247.8" cy="314.3" rx="2.6" ry="2.3" fill="#e82a22" opacity="0.61"/><ellipse cx="1207.3" cy="276.0" rx="3.0" ry="2.5" fill="#c41818" opacity="0.78"/><ellipse cx="1254.8" cy="253.2" rx="2.6" ry="2.1" fill="#b81414" opacity="0.83"/><ellipse cx="1223.4" cy="302.7" rx="3.6" ry="3.6" fill="#d81c1c" opacity="0.64"/><ellipse cx="1218.1" cy="264.3" rx="2.4" ry="2.0" fill="#f03428" opacity="0.79"/><ellipse cx="1228.8" cy="345.7" rx="3.3" ry="2.9" fill="#d81c1c" opacity="0.59"/><ellipse cx="1260.0" cy="313.0" rx="2.5" ry="2.1" fill="#c41818" opacity="0.86"/><ellipse cx="1274.4" cy="313.9" rx="3.2" ry="3.2" fill="#d81c1c" opacity="0.95"/><ellipse cx="1241.0" cy="289.5" rx="3.3" ry="3.2" fill="#d81c1c" opacity="0.85"/><ellipse cx="1219.9" cy="306.0" rx="3.4" ry="3.3" fill="#f03428" opacity="0.59"/><ellipse cx="1231.2" cy="246.0" rx="3.6" ry="3.3" fill="#a01210" opacity="0.86"/><ellipse cx="1224.4" cy="314.9" rx="2.7" ry="2.7" fill="#d81c1c" opacity="0.85"/><ellipse cx="1265.2" cy="301.5" rx="2.9" ry="2.9" fill="#a01210" opacity="0.86"/><ellipse cx="1227.4" cy="349.5" rx="3.0" ry="3.1" fill="#a01210" opacity="0.60"/><ellipse cx="1264.1" cy="257.7" rx="3.4" ry="3.2" fill="#e82a22" opacity="0.65"/><ellipse cx="1247.1" cy="338.7" rx="3.0" ry="2.5" fill="#a01210" opacity="0.91"/><ellipse cx="1254.8" cy="276.2" rx="3.1" ry="2.8" fill="#c41818" opacity="0.88"/><ellipse cx="1211.5" cy="309.6" rx="3.4" ry="3.5" fill="#c41818" opacity="0.82"/><ellipse cx="1237.0" cy="264.5" rx="2.7" ry="2.2" fill="#b81414" opacity="0.56"/><ellipse cx="1265.9" cy="279.3" rx="3.1" ry="2.9" fill="#f03428" opacity="0.61"/><ellipse cx="1211.2" cy="276.0" rx="2.9" ry="2.4" fill="#d81c1c" opacity="0.67"/><ellipse cx="1225.3" cy="315.9" rx="2.9" ry="2.5" fill="#a01210" opacity="0.77"/><ellipse cx="1221.2" cy="306.3" rx="2.8" ry="2.5" fill="#e82a22" opacity="0.71"/><ellipse cx="1216.3" cy="246.7" rx="2.8" ry="2.9" fill="#b81414" opacity="0.90"/><ellipse cx="1228.1" cy="266.3" rx="3.4" ry="3.5" fill="#b81414" opacity="0.63"/><ellipse cx="1217.2" cy="293.3" rx="2.3" ry="2.0" fill="#e82a22" opacity="0.59"/><ellipse cx="1247.4" cy="310.2" rx="3.3" ry="3.1" fill="#a01210" opacity="0.59"/><ellipse cx="1269.7" cy="291.6" rx="2.8" ry="2.3" fill="#c41818" opacity="0.82"/><ellipse cx="1251.8" cy="282.6" rx="3.5" ry="3.5" fill="#c41818" opacity="0.67"/><ellipse cx="1256.5" cy="346.5" rx="3.4" ry="3.1" fill="#d81c1c" opacity="0.91"/><ellipse cx="1232.3" cy="351.5" rx="2.4" ry="2.1" fill="#a01210" opacity="0.60"/><ellipse cx="1228.3" cy="291.4" rx="2.5" ry="2.0" fill="#b81414" opacity="0.85"/><ellipse cx="1229.4" cy="242.8" rx="3.5" ry="3.4" fill="#c41818" opacity="0.61"/><ellipse cx="1248.3" cy="231.0" rx="2.8" ry="2.9" fill="#a01210" opacity="0.79"/><ellipse cx="1263.2" cy="123.5" rx="3.2" ry="3.3" fill="#d81c1c" opacity="0.70"/><ellipse cx="1264.2" cy="206.3" rx="3.0" ry="3.2" fill="#f03428" opacity="0.72"/><ellipse cx="1251.2" cy="220.7" rx="2.7" ry="2.2" fill="#b81414" opacity="0.72"/><ellipse cx="1259.0" cy="219.4" rx="2.5" ry="2.5" fill="#d81c1c" opacity="0.61"/><ellipse cx="1242.7" cy="133.9" rx="2.4" ry="2.3" fill="#c41818" opacity="0.89"/><ellipse cx="1251.2" cy="189.9" rx="2.6" ry="2.3" fill="#f03428" opacity="0.62"/><ellipse cx="1254.7" cy="103.9" rx="2.6" ry="2.6" fill="#f03428" opacity="0.66"/><ellipse cx="1256.3" cy="104.5" rx="3.3" ry="3.3" fill="#b81414" opacity="0.71"/><ellipse cx="1263.7" cy="202.5" rx="2.6" ry="2.5" fill="#e82a22" opacity="0.65"/><ellipse cx="1264.8" cy="212.7" rx="2.8" ry="2.5" fill="#d81c1c" opacity="0.65"/><ellipse cx="1276.3" cy="165.8" rx="2.6" ry="2.4" fill="#a01210" opacity="0.59"/><ellipse cx="1235.5" cy="166.2" rx="3.1" ry="3.2" fill="#c41818" opacity="0.67"/><ellipse cx="1246.9" cy="123.8" rx="2.4" ry="2.3" fill="#b81414" opacity="0.58"/><ellipse cx="1272.3" cy="210.7" rx="3.1" ry="2.6" fill="#c41818" opacity="0.61"/><ellipse cx="1267.5" cy="197.1" rx="2.4" ry="2.5" fill="#f03428" opacity="0.69"/><ellipse cx="1268.4" cy="138.2" rx="2.7" ry="2.3" fill="#c41818" opacity="0.67"/><ellipse cx="1274.2" cy="166.2" rx="2.9" ry="2.5" fill="#a01210" opacity="0.87"/><ellipse cx="1244.6" cy="188.2" rx="3.3" ry="3.4" fill="#d81c1c" opacity="0.73"/><ellipse cx="1265.1" cy="172.9" rx="2.7" ry="2.7" fill="#b81414" opacity="0.81"/><ellipse cx="1265.6" cy="213.4" rx="2.4" ry="2.4" fill="#e82a22" opacity="0.79"/><ellipse cx="1257.5" cy="220.1" rx="3.3" ry="3.4" fill="#a01210" opacity="0.89"/><ellipse cx="1252.1" cy="130.3" rx="3.0" ry="3.1" fill="#a01210" opacity="0.68"/><ellipse cx="1267.0" cy="201.4" rx="3.0" ry="2.5" fill="#b81414" opacity="0.65"/><ellipse cx="1245.1" cy="101.8" rx="3.0" ry="3.0" fill="#d81c1c" opacity="0.68"/><ellipse cx="1238.2" cy="211.3" rx="2.7" ry="2.6" fill="#d81c1c" opacity="0.71"/><ellipse cx="1255.1" cy="162.0" rx="3.4" ry="3.4" fill="#b81414" opacity="0.74"/><ellipse cx="1236.8" cy="209.6" rx="2.4" ry="2.5" fill="#e82a22" opacity="0.65"/><ellipse cx="1278.4" cy="166.0" rx="2.6" ry="2.2" fill="#b81414" opacity="0.83"/><ellipse cx="1272.8" cy="206.9" rx="2.9" ry="2.4" fill="#d81c1c" opacity="0.63"/><ellipse cx="1271.5" cy="127.4" rx="2.7" ry="2.2" fill="#a01210" opacity="0.65"/><ellipse cx="1240.1" cy="145.4" rx="3.3" ry="3.4" fill="#f03428" opacity="0.63"/><ellipse cx="1279.8" cy="206.2" rx="3.4" ry="2.9" fill="#c41818" opacity="0.78"/><ellipse cx="1263.9" cy="172.6" rx="2.8" ry="2.6" fill="#a01210" opacity="0.86"/><ellipse cx="1243.6" cy="178.5" rx="2.4" ry="2.1" fill="#e82a22" opacity="0.65"/><ellipse cx="1268.1" cy="163.9" rx="2.8" ry="2.7" fill="#e82a22" opacity="0.83"/><ellipse cx="1266.0" cy="255.1" rx="3.0" ry="2.9" fill="#f0f060" opacity="0.90"/><ellipse cx="1275.3" cy="327.0" rx="2.9" ry="2.4" fill="#e0e040" opacity="0.90"/><ellipse cx="1235.9" cy="236.3" rx="3.1" ry="2.9" fill="#f0f060" opacity="0.90"/><ellipse cx="1258.3" cy="291.5" rx="2.5" ry="2.2" fill="#f0f060" opacity="0.90"/><ellipse cx="1227.3" cy="252.5" rx="2.6" ry="2.6" fill="#e0e040" opacity="0.90"/><ellipse cx="1249.1" cy="245.2" rx="2.3" ry="2.1" fill="#d8e838" opacity="0.90"/><ellipse cx="1271.9" cy="283.6" rx="2.3" ry="2.3" fill="#f0f060" opacity="0.90"/><ellipse cx="1250.2" cy="317.2" rx="2.3" ry="2.2" fill="#e0e040" opacity="0.90"/><ellipse cx="1238.3" cy="273.9" rx="2.6" ry="2.6" fill="#e0e040" opacity="0.90"/><ellipse cx="1235.2" cy="262.8" rx="3.0" ry="3.0" fill="#c8d830" opacity="0.90"/><ellipse cx="1263.5" cy="251.1" rx="3.1" ry="2.6" fill="#c8d830" opacity="0.90"/><ellipse cx="1225.7" cy="256.4" rx="2.8" ry="2.2" fill="#c8d830" opacity="0.90"/><ellipse cx="1268.1" cy="332.3" rx="2.3" ry="1.9" fill="#e0e040" opacity="0.90"/><ellipse cx="1255.4" cy="326.4" rx="3.1" ry="2.9" fill="#f0f060" opacity="0.90"/>
</g>
<line x1="1226" y1="332.5" x2="1266" y2="332.5" stroke="#fff" stroke-width="1.6"/>
<text x="1236" y="338.5" font-size="4.5" fill="#fff">100μm</text>
<text transform="translate(1296.41,28.70) scale(1.0771,1)" font-size="42.60" fill="#000" xml:space="preserve"><tspan font-family="Liberation Serif, Times New Roman, serif" font-weight="bold">C</tspan></text>
<line x1="1376.2" y1="44.0" x2="1376.2" y2="330.8" stroke="#000" stroke-width="2.3"/>
<line x1="1365.4" y1="329.6" x2="1566.7" y2="329.6" stroke="#000" stroke-width="2.3"/>
<line x1="1365.4" y1="45.2" x2="1376.2" y2="45.2" stroke="#000" stroke-width="2.3"/>
<text transform="translate(1329.58,52.90) scale(0.8039,1)" font-size="23.60" fill="#000" xml:space="preserve"><tspan font-family="Liberation Sans, Arial, sans-serif">150</tspan></text>
<line x1="1365.4" y1="139.6" x2="1376.2" y2="139.6" stroke="#000" stroke-width="2.3"/>
<text transform="translate(1328.32,147.30) scale(0.8366,1)" font-size="23.60" fill="#000" xml:space="preserve"><tspan font-family="Liberation Sans, Arial, sans-serif">100</tspan></text>
<line x1="1365.4" y1="234.2" x2="1376.2" y2="234.2" stroke="#000" stroke-width="2.3"/>
<text transform="translate(1339.52,241.90) scale(0.8270,1)" font-size="23.60" fill="#000" xml:space="preserve"><tspan font-family="Liberation Sans, Arial, sans-serif">50</tspan></text>
<line x1="1365.4" y1="328.5" x2="1376.2" y2="328.5" stroke="#000" stroke-width="2.3"/>
<text transform="translate(1350.53,336.20) scale(0.8121,1)" font-size="23.60" fill="#000" xml:space="preserve"><tspan font-family="Liberation Sans, Arial, sans-serif">0</tspan></text>
<line x1="1414.9" y1="329.6" x2="1414.9" y2="341.7" stroke="#000" stroke-width="2.3"/>
<line x1="1471.2" y1="329.6" x2="1471.2" y2="341.7" stroke="#000" stroke-width="2.3"/>
<line x1="1527.8" y1="329.6" x2="1527.8" y2="341.7" stroke="#000" stroke-width="2.3"/>
<text transform="translate(1393.91,369.00) scale(0.9875,1)" font-size="28.20" fill="#000" xml:space="preserve"><tspan font-family="Liberation Sans, Arial, sans-serif">Ctrl</tspan></text>
<text transform="translate(1451.04,369.00) scale(0.9934,1)" font-size="28.20" fill="#000" xml:space="preserve"><tspan font-family="Liberation Sans, Arial, sans-serif">OE</tspan></text>
<text transform="translate(1507.39,369.00) scale(1.0260,1)" font-size="28.20" fill="#000" xml:space="preserve"><tspan font-family="Liberation Sans, Arial, sans-serif">RE</tspan></text>
<text transform="rotate(-90,1322.00,262.60) translate(1286.97,262.60) scale(0.9600,1)" font-size="28.90" fill="#000" xml:space="preserve"><tspan font-family="Liberation Sans, Arial, sans-serif" font-style="italic">Cplx1</tspan></text>
<text transform="rotate(-90,1322.00,138.95) translate(1246.26,138.95) scale(1.0041,1)" font-size="28.90" fill="#000" xml:space="preserve"><tspan font-family="Liberation Sans, Arial, sans-serif">mRNA level</tspan></text>
<rect x="1395.1" y="138.9" width="39.7" height="190.1" fill="#F0B981"/>
<rect x="1451.1" y="81.3" width="39.9" height="247.7" fill="#0A5A0C"/>
<rect x="1509.3" y="189.4" width="36.4" height="139.6" fill="#0A7F9A" stroke="#14A06A" stroke-width="2"/>
<path d="M1413.9,34 L1413.9,27.4 L1527.3,27.4 L1527.3,34" fill="none" stroke="#000" stroke-width="2.1"/>
<path d="M1415.6,90.3 L1415.6,49.5 L1528.5,49.5 L1528.5,147" fill="none" stroke="#000" stroke-width="2.1"/>
<line x1="1471.2" y1="49.5" x2="1471.2" y2="81.3" stroke="#000" stroke-width="2.1"/>
<text transform="translate(1430.87,21.70) scale(1.0795,1)" font-size="17.30" fill="#000" xml:space="preserve"><tspan font-family="Liberation Sans, Arial, sans-serif" font-style="italic">p</tspan><tspan font-family="Liberation Sans, Arial, sans-serif">=0.018</tspan></text>
<text transform="translate(1400.46,46.00) scale(1.0652,1)" font-size="17.30" fill="#000" xml:space="preserve"><tspan font-family="Liberation Sans, Arial, sans-serif" font-style="italic">p</tspan><tspan font-family="Liberation Sans, Arial, sans-serif">=0.005</tspan></text>
<text transform="translate(1478.55,46.00) scale(1.0454,1)" font-size="17.30" fill="#000" xml:space="preserve"><tspan font-family="Liberation Sans, Arial, sans-serif" font-style="italic">p</tspan><tspan font-family="Liberation Sans, Arial, sans-serif">&lt;0.0001</tspan></text>
<line x1="1414.7" y1="114.6" x2="1414.7" y2="138.9" stroke="#000" stroke-width="2.1"/>
<line x1="1405.2" y1="114.6" x2="1424.2" y2="114.6" stroke="#000" stroke-width="2.1"/>
<line x1="1463.4" y1="61.1" x2="1479.9" y2="61.1" stroke="#000" stroke-width="2.1"/>
<line x1="1527.6" y1="159.8" x2="1527.6" y2="188.4" stroke="#14A06A" stroke-width="2.1"/>
<line x1="1518.1" y1="159.8" x2="1537.1" y2="159.8" stroke="#14A06A" stroke-width="2.1"/>
<circle cx="1414.7" cy="105.1" r="4.6" fill="#fff" stroke="#000" stroke-width="1.8"/>
<circle cx="1414.7" cy="121.6" r="4.6" fill="#fff" stroke="#000" stroke-width="1.8"/>
<circle cx="1414.7" cy="129.4" r="4.6" fill="#fff" stroke="#000" stroke-width="1.8"/>
<circle cx="1414.7" cy="148.5" r="4.6" fill="#fff" stroke="#000" stroke-width="1.8"/>
<circle cx="1406.4" cy="169.3" r="4.6" fill="#fff" stroke="#000" stroke-width="1.8"/>
<circle cx="1423.1" cy="165.9" r="4.6" fill="#fff" stroke="#000" stroke-width="1.8"/>
<polygon points="1458.2,56.6 1466.8,56.6 1462.5,63.2" fill="#fff" stroke="#000" stroke-width="1.8" stroke-linejoin="miter"/>
<polygon points="1458.2,69.6 1466.8,69.6 1462.5,76.2" fill="#fff" stroke="#000" stroke-width="1.8" stroke-linejoin="miter"/>
<polygon points="1475.0,64.4 1483.6,64.4 1479.3,71.0" fill="#fff" stroke="#000" stroke-width="1.8" stroke-linejoin="miter"/>
<polygon points="1458.2,100.9 1466.8,100.9 1462.5,107.5" fill="#fff" stroke="#000" stroke-width="1.8" stroke-linejoin="miter"/>
<polygon points="1475.2,98.3 1483.8,98.3 1479.5,104.9" fill="#fff" stroke="#000" stroke-width="1.8" stroke-linejoin="miter"/>
<rect x="1523.8" y="147.3" width="7.6" height="7.6" fill="#fff" stroke="#000" stroke-width="1.8"/>
<rect x="1523.8" y="161.2" width="7.6" height="7.6" fill="#fff" stroke="#000" stroke-width="1.8"/>
<rect x="1523.8" y="198.5" width="7.6" height="7.6" fill="#fff" stroke="#000" stroke-width="1.8"/>
<rect x="1515.1" y="208.9" width="7.6" height="7.6" fill="#fff" stroke="#000" stroke-width="1.8"/>
<rect x="1532.5" y="207.7" width="7.6" height="7.6" fill="#fff" stroke="#000" stroke-width="1.8"/>
<text transform="translate(1573.75,28.70) scale(1.0208,1)" font-size="42.60" fill="#000" xml:space="preserve"><tspan font-family="Liberation Serif, Times New Roman, serif" font-weight="bold">D</tspan></text>
<line x1="1660.0" y1="45.5" x2="1660.0" y2="214.6" stroke="#000" stroke-width="2.2"/>
<line x1="1651.2" y1="214.3" x2="1999.7" y2="214.3" stroke="#000" stroke-width="2.3"/>
<line x1="1651.2" y1="46.5" x2="1660.0" y2="46.5" stroke="#000" stroke-width="2.2"/>
<text transform="translate(1619.34,50.80) scale(0.8329,1)" font-size="23.00" fill="#000" xml:space="preserve"><tspan font-family="Liberation Sans, Arial, sans-serif">2.0</tspan></text>
<line x1="1651.2" y1="88.3" x2="1660.0" y2="88.3" stroke="#000" stroke-width="2.2"/>
<text transform="translate(1620.31,92.60) scale(0.8048,1)" font-size="23.00" fill="#000" xml:space="preserve"><tspan font-family="Liberation Sans, Arial, sans-serif">1.5</tspan></text>
<line x1="1651.2" y1="130.0" x2="1660.0" y2="130.0" stroke="#000" stroke-width="2.2"/>
<text transform="translate(1618.84,134.30) scale(0.8492,1)" font-size="23.00" fill="#000" xml:space="preserve"><tspan font-family="Liberation Sans, Arial, sans-serif">1.0</tspan></text>
<line x1="1651.2" y1="171.9" x2="1660.0" y2="171.9" stroke="#000" stroke-width="2.2"/>
<text transform="translate(1619.54,176.20) scale(0.8297,1)" font-size="23.00" fill="#000" xml:space="preserve"><tspan font-family="Liberation Sans, Arial, sans-serif">0.5</tspan></text>
<line x1="1651.2" y1="213.6" x2="1660.0" y2="213.6" stroke="#000" stroke-width="2.2"/>
<text transform="translate(1619.54,217.90) scale(0.8266,1)" font-size="23.00" fill="#000" xml:space="preserve"><tspan font-family="Liberation Sans, Arial, sans-serif">0.0</tspan></text>
<line x1="1718.0" y1="214.3" x2="1718.0" y2="220.0" stroke="#000" stroke-width="2.2"/>
<line x1="1832.2" y1="214.3" x2="1832.2" y2="220.0" stroke="#000" stroke-width="2.2"/>
<line x1="1943.2" y1="214.3" x2="1943.2" y2="220.0" stroke="#000" stroke-width="2.2"/>
<text transform="rotate(-90,1607.20,134.65) translate(1539.54,134.65) scale(0.7803,1)" font-size="29.80" fill="#000" xml:space="preserve"><tspan font-family="Liberation Sans, Arial, sans-serif">Cplx1/Gapdh</tspan></text>
<rect x="1689.3" y="130.0" width="57.3" height="84.0" fill="#F0B981"/>
<rect x="1803.2" y="76.2" width="57.2" height="137.8" fill="#0A5A0C"/>
<rect x="1913.1" y="146.6" width="56.5" height="67.4" fill="#167F95"/>
<path d="M1722.7,88.6 L1722.7,41.4 L1940.9,41.4 L1940.9,101.7" fill="none" stroke="#000" stroke-width="2.2"/>
<line x1="1831.7" y1="41.4" x2="1831.7" y2="50.3" stroke="#000" stroke-width="3"/>
<text transform="translate(1744.76,34.70) scale(0.9968,1)" font-size="18.40" fill="#000" xml:space="preserve"><tspan font-family="Liberation Sans, Arial, sans-serif" font-style="italic">p</tspan><tspan font-family="Liberation Sans, Arial, sans-serif">=0.022</tspan></text>
<text transform="translate(1850.76,34.90) scale(1.0073,1)" font-size="18.40" fill="#000" xml:space="preserve"><tspan font-family="Liberation Sans, Arial, sans-serif" font-style="italic">p</tspan><tspan font-family="Liberation Sans, Arial, sans-serif">=0.007</tspan></text>
<line x1="1717.5" y1="120.0" x2="1717.5" y2="130.0" stroke="#000" stroke-width="2.2"/>
<line x1="1703.3" y1="120.0" x2="1731.7" y2="120.0" stroke="#000" stroke-width="2.2"/>
<line x1="1831.7" y1="58.1" x2="1831.7" y2="76.3" stroke="#000" stroke-width="2.2"/>
<line x1="1817.4" y1="58.1" x2="1846.0" y2="58.1" stroke="#000" stroke-width="2.2"/>
<line x1="1940.9" y1="123.8" x2="1940.9" y2="146.6" stroke="#000" stroke-width="2.2"/>
<line x1="1926.4" y1="123.8" x2="1955.4" y2="123.8" stroke="#000" stroke-width="2.2"/>
<ellipse cx="1717.5" cy="119.0" rx="6.2" ry="2.3" fill="#fff" stroke="#000" stroke-width="1.9"/>
<ellipse cx="1717.5" cy="132.6" rx="6.2" ry="2.3" fill="#fff" stroke="#000" stroke-width="1.9"/>
<ellipse cx="1717.5" cy="138.6" rx="6.2" ry="2.3" fill="#fff" stroke="#000" stroke-width="1.9"/>
<polygon points="1825.7,52.7 1837.7,52.7 1831.7,57.3" fill="#fff" stroke="#000" stroke-width="2" stroke-linejoin="miter"/>
<polygon points="1825.7,78.9 1837.7,78.9 1831.7,83.5" fill="#fff" stroke="#000" stroke-width="2" stroke-linejoin="miter"/>
<polygon points="1825.7,87.2 1837.7,87.2 1831.7,91.8" fill="#fff" stroke="#000" stroke-width="2" stroke-linejoin="miter"/>
<rect x="1934.2" y="127.7" width="13.4" height="4.6" rx="0.8" fill="#fff" stroke="#000" stroke-width="1.9"/>
<rect x="1934.2" y="134.8" width="13.4" height="4.6" rx="0.8" fill="#fff" stroke="#000" stroke-width="1.9"/>
<rect x="1934.2" y="170.2" width="13.4" height="4.6" rx="0.8" fill="#fff" stroke="#000" stroke-width="1.9"/>
<text transform="translate(1641.05,239.50) scale(0.9215,1)" font-size="21.00" fill="#000" xml:space="preserve"><tspan font-family="Liberation Sans, Arial, sans-serif">MW</tspan></text>
<text transform="translate(1697.24,239.50) scale(0.9613,1)" font-size="24.20" fill="#000" xml:space="preserve"><tspan font-family="Liberation Sans, Arial, sans-serif">Ctrl</tspan></text>
<text transform="translate(1816.93,239.50) scale(0.9784,1)" font-size="24.20" fill="#000" xml:space="preserve"><tspan font-family="Liberation Sans, Arial, sans-serif">OE</tspan></text>
<text transform="translate(1927.50,238.90) scale(0.9800,1)" font-size="24.20" fill="#000" xml:space="preserve"><tspan font-family="Liberation Sans, Arial, sans-serif">RE</tspan></text>
<line x1="1682.1" y1="242.6" x2="1774.7" y2="242.6" stroke="#231815" stroke-width="2"/>
<line x1="1789.1" y1="242.6" x2="1881.5" y2="242.6" stroke="#231815" stroke-width="2"/>
<line x1="1892.8" y1="242.6" x2="1986.0" y2="242.6" stroke="#231815" stroke-width="2"/>
<defs><filter id="bb" x="-20%" y="-100%" width="140%" height="300%"><feGaussianBlur stdDeviation="1.6 1.4"/></filter>
<linearGradient id="blotg" x1="0" y1="0" x2="0" y2="1"><stop offset="0" stop-color="#eeeeee"/><stop offset="0.5" stop-color="#f5f5f5"/><stop offset="1" stop-color="#f3f3f3"/></linearGradient></defs>
<rect x="1642.6" y="249" width="347.4" height="47.6" fill="url(#blotg)"/>
<rect x="1641.4" y="301.5" width="351.6" height="47.7" fill="url(#blotg)"/>
<g filter="url(#bb)">
<rect x="1686.9" y="264.2" width="38.3" height="3.2" rx="1.6" fill="#303030"/>
<rect x="1739.6" y="265.1" width="39.4" height="2.8" rx="1.4" fill="#585858"/>
<rect x="1793.4" y="264.2" width="34.7" height="4.6" rx="2.3" fill="#0a0a0a"/>
<rect x="1842.5" y="264.0" width="37.1" height="5.0" rx="2.5" fill="#050505"/>
<rect x="1892.8" y="265.6" width="39.5" height="2.8" rx="1.4" fill="#7a7a7a"/>
<rect x="1946.6" y="265.1" width="38.6" height="3.4" rx="1.7" fill="#404040"/>
<rect x="1644.0" y="274.1" width="28.5" height="5.0" rx="2.5" fill="#cdcdcd"/>
<rect x="1680.9" y="317.3" width="45.5" height="4.4" rx="2.2" fill="#121212"/>
<rect x="1736.0" y="317.5" width="45.4" height="5.0" rx="2.5" fill="#0c0c0c"/>
<rect x="1789.8" y="318.2" width="41.9" height="4.6" rx="2.3" fill="#181818"/>
<rect x="1840.1" y="318.8" width="39.5" height="4.4" rx="2.2" fill="#1e1e1e"/>
<rect x="1890.4" y="319.3" width="44.3" height="4.4" rx="2.2" fill="#141414"/>
<rect x="1946.5" y="320.7" width="41.1" height="3.8" rx="1.9" fill="#707070"/>
<rect x="1643.0" y="327.3" width="27.0" height="5.0" rx="2.5" fill="#c4c4c4"/>
</g>
<text transform="translate(1585.12,281.40) scale(0.8957,1)" font-size="17.40" fill="#000" xml:space="preserve"><tspan font-family="Liberation Sans, Arial, sans-serif">20 KDa</tspan></text>
<text transform="translate(1579.68,329.30) scale(0.8861,1)" font-size="17.40" fill="#000" xml:space="preserve"><tspan font-family="Liberation Sans, Arial, sans-serif">35 KDa</tspan></text>
<text transform="translate(1994.89,274.30) scale(0.8005,1)" font-size="22.80" fill="#000" xml:space="preserve"><tspan font-family="Liberation Sans, Arial, sans-serif">Cplx1</tspan></text>
<text transform="translate(1994.14,330.50) scale(0.8407,1)" font-size="22.80" fill="#000" xml:space="preserve"><tspan font-family="Liberation Sans, Arial, sans-serif">Gapdh</tspan></text>
<line x1="1560.0" y1="329.5" x2="1566.0" y2="329.5" stroke="#000" stroke-width="2"/>
<text transform="translate(0.97,444.30) scale(0.9937,1)" font-size="42.60" fill="#000" xml:space="preserve"><tspan font-family="Liberation Serif, Times New Roman, serif" font-weight="bold">E</tspan></text>
<line x1="159.4" y1="466.9" x2="159.4" y2="769.5" stroke="#000" stroke-width="2.2"/>
<line x1="144.2" y1="768.4" x2="661.2" y2="768.4" stroke="#000" stroke-width="2.2"/>
<line x1="144.2" y1="469.0" x2="159.4" y2="469.0" stroke="#000" stroke-width="2.2"/>
<text transform="translate(91.56,477.40) scale(0.9200,1)" font-size="29.30" fill="#000" xml:space="preserve"><tspan font-family="Liberation Sans, Arial, sans-serif">400</tspan></text>
<line x1="144.2" y1="543.8" x2="159.4" y2="543.8" stroke="#000" stroke-width="2.2"/>
<text transform="translate(91.56,552.20) scale(0.9200,1)" font-size="29.30" fill="#000" xml:space="preserve"><tspan font-family="Liberation Sans, Arial, sans-serif">300</tspan></text>
<line x1="144.2" y1="618.7" x2="159.4" y2="618.7" stroke="#000" stroke-width="2.2"/>
<text transform="translate(91.56,627.10) scale(0.9200,1)" font-size="29.30" fill="#000" xml:space="preserve"><tspan font-family="Liberation Sans, Arial, sans-serif">200</tspan></text>
<line x1="144.2" y1="693.6" x2="159.4" y2="693.6" stroke="#000" stroke-width="2.2"/>
<text transform="translate(91.56,702.00) scale(0.9200,1)" font-size="29.30" fill="#000" xml:space="preserve"><tspan font-family="Liberation Sans, Arial, sans-serif">100</tspan></text>
<line x1="144.2" y1="768.4" x2="159.4" y2="768.4" stroke="#000" stroke-width="2.2"/>
<text transform="translate(113.58,776.80) scale(0.9200,1)" font-size="29.30" fill="#000" xml:space="preserve"><tspan font-family="Liberation Sans, Arial, sans-serif">0</tspan></text>
<line x1="234.7" y1="768.4" x2="234.7" y2="782.7" stroke="#000" stroke-width="2.2"/>
<line x1="408.0" y1="768.4" x2="408.0" y2="782.7" stroke="#000" stroke-width="2.2"/>
<line x1="581.4" y1="768.4" x2="581.4" y2="782.7" stroke="#000" stroke-width="2.2"/>
<text transform="translate(207.97,812.90) scale(1.0146,1)" font-size="28.20" fill="#000" xml:space="preserve"><tspan font-family="Liberation Sans, Arial, sans-serif">Ctrl</tspan></text>
<text transform="translate(383.87,813.20) scale(0.9700,1)" font-size="28.20" fill="#000" xml:space="preserve"><tspan font-family="Liberation Sans, Arial, sans-serif">OE</tspan></text>
<text transform="translate(561.40,813.20) scale(1.0176,1)" font-size="28.20" fill="#000" xml:space="preserve"><tspan font-family="Liberation Sans, Arial, sans-serif">RE</tspan></text>
<text transform="rotate(-90,71.00,620.20) translate(-100.06,620.20) scale(0.9954,1)" font-size="28.30" fill="#000" xml:space="preserve"><tspan font-family="Liberation Sans, Arial, sans-serif">Time in close interaction (s)</tspan></text>
<rect x="181.1" y="699.4" width="42.5" height="69.0" fill="#F0B981"/>
<rect x="246.7" y="610.7" width="42.3" height="157.7" fill="#F0B981"/>
<rect x="354.8" y="679.4" width="42.4" height="89.0" fill="#0A5A0C"/>
<rect x="419.8" y="651.6" width="42.7" height="116.8" fill="#0A5A0C"/>
<rect x="527.5" y="685.6" width="42.5" height="82.8" fill="#1A7F95"/>
<rect x="593.2" y="601.1" width="41.8" height="167.3" fill="#1A7F95"/>
<path d="M201.4,619.8 L201.4,490.6 L266.6,490.6 L266.6,523.1" fill="none" stroke="#000" stroke-width="2.2"/>
<path d="M376.4,619.7 L376.4,490.6 L442.1,490.6 L442.1,523.7" fill="none" stroke="#000" stroke-width="2.2"/>
<path d="M550.7,619.7 L550.7,490.6 L617.0,490.6 L617.0,523.7" fill="none" stroke="#000" stroke-width="2.2"/>
<text transform="translate(181.87,476.60) scale(1.0325,1)" font-size="22.00" fill="#000" xml:space="preserve"><tspan font-family="Liberation Sans, Arial, sans-serif" font-style="italic">p</tspan><tspan font-family="Liberation Sans, Arial, sans-serif">&lt; 0.0001</tspan></text>
<text transform="translate(372.38,477.30) scale(1.0558,1)" font-size="22.00" fill="#000" xml:space="preserve"><tspan font-family="Liberation Sans, Arial, sans-serif" font-style="italic">p</tspan><tspan font-family="Liberation Sans, Arial, sans-serif">=0.063</tspan></text>
<text transform="translate(535.58,477.30) scale(1.0509,1)" font-size="22.00" fill="#000" xml:space="preserve"><tspan font-family="Liberation Sans, Arial, sans-serif" font-style="italic">p</tspan><tspan font-family="Liberation Sans, Arial, sans-serif">&lt; 0.0001</tspan></text>
<circle cx="677.2" cy="461.6" r="10.2" fill="#fff" stroke="#000" stroke-width="2.8"/>
<text transform="translate(706.80,471.60) scale(0.8873,1)" font-size="28.20" fill="#000" xml:space="preserve"><tspan font-family="Liberation Sans, Arial, sans-serif">E1</tspan></text>
<polygon points="667.8,496.4 686.4,496.4 677.1,512.8" fill="#fff" stroke="#000" stroke-width="2.8" stroke-linejoin="miter"/>
<text transform="translate(707.50,515.60) scale(0.8661,1)" font-size="28.20" fill="#000" xml:space="preserve"><tspan font-family="Liberation Sans, Arial, sans-serif">S1</tspan></text>
<circle cx="200.6" cy="677.3" r="7.6" fill="#fff" stroke="#000" stroke-width="2.25"/>
<circle cx="197.2" cy="693.1" r="7.6" fill="#fff" stroke="#000" stroke-width="2.25"/>
<circle cx="204.0" cy="721.5" r="7.6" fill="#fff" stroke="#000" stroke-width="2.25"/>
<circle cx="202.6" cy="671.8" r="7.6" fill="#fff" stroke="#000" stroke-width="2.25"/>
<circle cx="208.3" cy="683.2" r="7.6" fill="#fff" stroke="#000" stroke-width="2.25"/>
<circle cx="214.8" cy="693.1" r="7.6" fill="#fff" stroke="#000" stroke-width="2.25"/>
<circle cx="190.4" cy="697.1" r="7.6" fill="#fff" stroke="#000" stroke-width="2.25"/>
<circle cx="193.2" cy="704.5" r="7.6" fill="#fff" stroke="#000" stroke-width="2.25"/>
<circle cx="199.5" cy="710.7" r="7.6" fill="#fff" stroke="#000" stroke-width="2.25"/>
<circle cx="211.9" cy="723.7" r="7.6" fill="#fff" stroke="#000" stroke-width="2.25"/>
<line x1="202.6" y1="692.6" x2="202.6" y2="703.9" stroke="#000" stroke-width="2.4"/>
<line x1="192.1" y1="692.6" x2="213.1" y2="692.6" stroke="#000" stroke-width="2.4"/>
<line x1="192.1" y1="703.9" x2="213.1" y2="703.9" stroke="#000" stroke-width="2.4"/>
<polygon points="260.7,534.3 274.1,534.3 267.4,546.7" fill="#fff" stroke="#000" stroke-width="2.25" stroke-linejoin="miter"/>
<polygon points="260.7,562.4 274.1,562.4 267.4,574.8" fill="#fff" stroke="#000" stroke-width="2.25" stroke-linejoin="miter"/>
<polygon points="257.4,606.5 270.8,606.5 264.1,618.9" fill="#fff" stroke="#000" stroke-width="2.25" stroke-linejoin="miter"/>
<polygon points="264.7,589.5 278.1,589.5 271.4,601.9" fill="#fff" stroke="#000" stroke-width="2.25" stroke-linejoin="miter"/>
<polygon points="273.2,598.5 286.6,598.5 279.9,610.9" fill="#fff" stroke="#000" stroke-width="2.25" stroke-linejoin="miter"/>
<polygon points="248.3,607.6 261.7,607.6 255.0,620.0" fill="#fff" stroke="#000" stroke-width="2.25" stroke-linejoin="miter"/>
<polygon points="248.3,625.7 261.7,625.7 255.0,638.1" fill="#fff" stroke="#000" stroke-width="2.25" stroke-linejoin="miter"/>
<polygon points="256.8,630.8 270.2,630.8 263.5,643.2" fill="#fff" stroke="#000" stroke-width="2.25" stroke-linejoin="miter"/>
<polygon points="264.7,632.5 278.1,632.5 271.4,644.9" fill="#fff" stroke="#000" stroke-width="2.25" stroke-linejoin="miter"/>
<polygon points="272.7,633.7 286.1,633.7 279.4,646.1" fill="#fff" stroke="#000" stroke-width="2.25" stroke-linejoin="miter"/>
<line x1="267.5" y1="600.4" x2="267.5" y2="620.6" stroke="#000" stroke-width="2.4"/>
<line x1="257.3" y1="600.4" x2="277.7" y2="600.4" stroke="#000" stroke-width="2.4"/>
<line x1="257.3" y1="620.6" x2="277.7" y2="620.6" stroke="#000" stroke-width="2.4"/>
<circle cx="371.8" cy="670.2" r="7.6" fill="#fff" stroke="#000" stroke-width="2.25"/>
<circle cx="365.6" cy="674.5" r="7.6" fill="#fff" stroke="#000" stroke-width="2.25"/>
<circle cx="379.5" cy="669.2" r="7.6" fill="#fff" stroke="#000" stroke-width="2.25"/>
<circle cx="371.8" cy="680.0" r="7.6" fill="#fff" stroke="#000" stroke-width="2.25"/>
<circle cx="378.9" cy="681.6" r="7.6" fill="#fff" stroke="#000" stroke-width="2.25"/>
<circle cx="387.3" cy="696.5" r="7.6" fill="#fff" stroke="#000" stroke-width="2.25"/>
<line x1="366.0" y1="682.5" x2="388.0" y2="682.5" stroke="#000" stroke-width="2.4"/>
<polygon points="434.1,601.1 447.5,601.1 440.8,613.5" fill="#fff" stroke="#000" stroke-width="2.25" stroke-linejoin="miter"/>
<polygon points="428.6,624.3 442.0,624.3 435.3,636.7" fill="#fff" stroke="#000" stroke-width="2.25" stroke-linejoin="miter"/>
<polygon points="440.3,635.2 453.7,635.2 447.0,647.6" fill="#fff" stroke="#000" stroke-width="2.25" stroke-linejoin="miter"/>
<polygon points="421.8,666.1 435.2,666.1 428.5,678.5" fill="#fff" stroke="#000" stroke-width="2.25" stroke-linejoin="miter"/>
<polygon points="433.8,667.7 447.2,667.7 440.5,680.1" fill="#fff" stroke="#000" stroke-width="2.25" stroke-linejoin="miter"/>
<polygon points="446.5,672.3 459.9,672.3 453.2,684.7" fill="#fff" stroke="#000" stroke-width="2.25" stroke-linejoin="miter"/>
<line x1="441.0" y1="639.8" x2="441.0" y2="663.0" stroke="#000" stroke-width="2.4"/>
<line x1="430.6" y1="639.8" x2="451.4" y2="639.8" stroke="#000" stroke-width="2.4"/>
<line x1="430.6" y1="663.0" x2="451.4" y2="663.0" stroke="#000" stroke-width="2.4"/>
<circle cx="537.4" cy="681.6" r="7.6" fill="#fff" stroke="#000" stroke-width="2.25"/>
<circle cx="546.7" cy="680.0" r="7.6" fill="#fff" stroke="#000" stroke-width="2.25"/>
<circle cx="556.0" cy="680.7" r="7.6" fill="#fff" stroke="#000" stroke-width="2.25"/>
<circle cx="548.3" cy="688.7" r="7.6" fill="#fff" stroke="#000" stroke-width="2.25"/>
<circle cx="554.5" cy="692.4" r="7.6" fill="#fff" stroke="#000" stroke-width="2.25"/>
<circle cx="560.6" cy="696.5" r="7.6" fill="#fff" stroke="#000" stroke-width="2.25"/>
<line x1="538.0" y1="684.5" x2="560.0" y2="684.5" stroke="#000" stroke-width="2.4"/>
<polygon points="607.5,550.0 620.9,550.0 614.2,562.4" fill="#fff" stroke="#000" stroke-width="2.25" stroke-linejoin="miter"/>
<polygon points="601.9,560.9 615.3,560.9 608.6,573.3" fill="#fff" stroke="#000" stroke-width="2.25" stroke-linejoin="miter"/>
<polygon points="613.4,558.7 626.8,558.7 620.1,571.1" fill="#fff" stroke="#000" stroke-width="2.25" stroke-linejoin="miter"/>
<polygon points="595.1,605.8 608.5,605.8 601.8,618.2" fill="#fff" stroke="#000" stroke-width="2.25" stroke-linejoin="miter"/>
<polygon points="601.9,610.4 615.3,610.4 608.6,622.8" fill="#fff" stroke="#000" stroke-width="2.25" stroke-linejoin="miter"/>
<polygon points="608.1,613.5 621.5,613.5 614.8,625.9" fill="#fff" stroke="#000" stroke-width="2.25" stroke-linejoin="miter"/>
<polygon points="615.3,622.8 628.7,622.8 622.0,635.2" fill="#fff" stroke="#000" stroke-width="2.25" stroke-linejoin="miter"/>
<polygon points="619.0,627.4 632.4,627.4 625.7,639.8" fill="#fff" stroke="#000" stroke-width="2.25" stroke-linejoin="miter"/>
<line x1="614.0" y1="590.3" x2="614.0" y2="612.0" stroke="#000" stroke-width="2.4"/>
<line x1="603.2" y1="590.3" x2="624.8" y2="590.3" stroke="#000" stroke-width="2.4"/>
<line x1="603.2" y1="612.0" x2="624.8" y2="612.0" stroke="#000" stroke-width="2.4"/>
<text transform="translate(765.65,444.30) scale(1.0158,1)" font-size="42.60" fill="#000" xml:space="preserve"><tspan font-family="Liberation Serif, Times New Roman, serif" font-weight="bold">F</tspan></text>
<line x1="916.4" y1="463.3" x2="916.4" y2="764.2" stroke="#000" stroke-width="2.2"/>
<line x1="901.8" y1="463.3" x2="916.4" y2="463.3" stroke="#000" stroke-width="2.2"/>
<text transform="translate(862.72,471.70) scale(0.9200,1)" font-size="29.30" fill="#000" xml:space="preserve"><tspan font-family="Liberation Sans, Arial, sans-serif">80</tspan></text>
<line x1="901.8" y1="523.6" x2="916.4" y2="523.6" stroke="#000" stroke-width="2.2"/>
<text transform="translate(862.72,532.00) scale(0.9200,1)" font-size="29.30" fill="#000" xml:space="preserve"><tspan font-family="Liberation Sans, Arial, sans-serif">60</tspan></text>
<line x1="901.8" y1="583.6" x2="916.4" y2="583.6" stroke="#000" stroke-width="2.2"/>
<text transform="translate(862.72,592.00) scale(0.9200,1)" font-size="29.30" fill="#000" xml:space="preserve"><tspan font-family="Liberation Sans, Arial, sans-serif">40</tspan></text>
<line x1="901.8" y1="703.5" x2="916.4" y2="703.5" stroke="#000" stroke-width="2.2"/>
<text transform="translate(876.08,711.90) scale(0.9200,1)" font-size="29.30" fill="#000" xml:space="preserve"><tspan font-family="Liberation Sans, Arial, sans-serif">0</tspan></text>
<line x1="901.8" y1="763.3" x2="916.4" y2="763.3" stroke="#000" stroke-width="2.2"/>
<text transform="translate(857.49,771.70) scale(0.9200,1)" font-size="29.30" fill="#000" xml:space="preserve"><tspan font-family="Liberation Sans, Arial, sans-serif">-20</tspan></text>
<line x1="901.8" y1="643.5" x2="916.4" y2="643.5" stroke="#000" stroke-width="2.2"/>
<text transform="translate(873.82,651.90) scale(0.9200,1)" font-size="29.30" fill="#000" xml:space="preserve"><tspan font-family="Liberation Sans, Arial, sans-serif">20</tspan></text>
<line x1="901.8" y1="703.5" x2="1166.7" y2="703.5" stroke="#000" stroke-width="2.2"/>
<line x1="901.8" y1="763.3" x2="1168.6" y2="763.3" stroke="#000" stroke-width="2.2"/>
<line x1="966.8" y1="763.3" x2="966.8" y2="778.0" stroke="#000" stroke-width="2.2"/>
<line x1="1041.4" y1="763.3" x2="1041.4" y2="778.0" stroke="#000" stroke-width="2.2"/>
<line x1="1116.9" y1="763.3" x2="1116.9" y2="778.0" stroke="#000" stroke-width="2.2"/>
<text transform="translate(944.15,807.20) scale(1.0318,1)" font-size="28.20" fill="#000" xml:space="preserve"><tspan font-family="Liberation Sans, Arial, sans-serif">Ctrl</tspan></text>
<text transform="translate(1022.06,807.20) scale(0.9752,1)" font-size="28.20" fill="#000" xml:space="preserve"><tspan font-family="Liberation Sans, Arial, sans-serif">OE</tspan></text>
<text transform="translate(1096.49,807.20) scale(1.0232,1)" font-size="28.20" fill="#000" xml:space="preserve"><tspan font-family="Liberation Sans, Arial, sans-serif">RE</tspan></text>
<text transform="rotate(-90,810.20,612.40) translate(662.66,612.40) scale(1.0103,1)" font-size="28.30" fill="#000" xml:space="preserve"><tspan font-family="Liberation Sans, Arial, sans-serif">Preference index in the</tspan></text>
<text transform="rotate(-90,836.80,613.20) translate(687.18,613.20) scale(0.9952,1)" font-size="28.30" fill="#000" xml:space="preserve"><tspan font-family="Liberation Sans, Arial, sans-serif">three chambers (S1-E1)</tspan></text>
<rect x="942.2" y="590.4" width="49.5" height="113.1" fill="#F0B981" stroke="#d9a070" stroke-width="1"/>
<rect x="1016.9" y="666.8" width="49.8" height="36.7" fill="#0A5A0C" stroke="#c8a010" stroke-width="1"/>
<rect x="1091.6" y="605.2" width="49.8" height="98.3" fill="#1A7F95" stroke="#e08888" stroke-width="1"/>
<line x1="942.0" y1="703.5" x2="1142.0" y2="703.5" stroke="#000" stroke-width="2.2"/>
<path d="M970.0,483.6 L970.0,459.2 L1118.1,459.2 L1118.1,516.9" fill="none" stroke="#000" stroke-width="2.2"/>
<line x1="1043.8" y1="459.2" x2="1043.8" y2="564.7" stroke="#000" stroke-width="2.2"/>
<text transform="translate(945.17,451.20) scale(1.0453,1)" font-size="22.00" fill="#000" xml:space="preserve"><tspan font-family="Liberation Sans, Arial, sans-serif" font-style="italic">p</tspan><tspan font-family="Liberation Sans, Arial, sans-serif">= 0.003</tspan></text>
<text transform="translate(1054.98,451.20) scale(1.0474,1)" font-size="22.00" fill="#000" xml:space="preserve"><tspan font-family="Liberation Sans, Arial, sans-serif" font-style="italic">p</tspan><tspan font-family="Liberation Sans, Arial, sans-serif">= 0.020</tspan></text>
<circle cx="966.8" cy="507.9" r="7.6" fill="#fff" stroke="#000" stroke-width="2.4"/>
<circle cx="966.8" cy="530.0" r="7.6" fill="#fff" stroke="#000" stroke-width="2.4"/>
<circle cx="966.8" cy="577.0" r="7.6" fill="#fff" stroke="#000" stroke-width="2.4"/>
<circle cx="966.8" cy="582.1" r="7.6" fill="#fff" stroke="#000" stroke-width="2.4"/>
<circle cx="966.8" cy="595.1" r="7.6" fill="#fff" stroke="#000" stroke-width="2.4"/>
<circle cx="966.8" cy="614.2" r="7.6" fill="#fff" stroke="#000" stroke-width="2.4"/>
<circle cx="966.8" cy="645.5" r="7.6" fill="#fff" stroke="#000" stroke-width="2.4"/>
<circle cx="966.8" cy="662.8" r="7.6" fill="#fff" stroke="#000" stroke-width="2.4"/>
<line x1="966.8" y1="575.5" x2="966.8" y2="605.0" stroke="#000" stroke-width="2.4"/>
<line x1="954.5" y1="575.5" x2="979.1" y2="575.5" stroke="#000" stroke-width="2.4"/>
<line x1="954.5" y1="605.0" x2="979.1" y2="605.0" stroke="#000" stroke-width="2.4"/>
<polygon points="1034.7,609.8 1048.3,609.8 1041.5,622.4" fill="#fff" stroke="#000" stroke-width="2.4" stroke-linejoin="miter"/>
<polygon points="1034.7,640.0 1048.3,640.0 1041.5,652.6" fill="#fff" stroke="#000" stroke-width="2.4" stroke-linejoin="miter"/>
<polygon points="1034.7,654.8 1048.3,654.8 1041.5,667.4" fill="#fff" stroke="#000" stroke-width="2.4" stroke-linejoin="miter"/>
<polygon points="1034.7,662.6 1048.3,662.6 1041.5,675.2" fill="#fff" stroke="#000" stroke-width="2.4" stroke-linejoin="miter"/>
<polygon points="1034.7,683.5 1048.3,683.5 1041.5,696.1" fill="#fff" stroke="#000" stroke-width="2.4" stroke-linejoin="miter"/>
<polygon points="1034.7,700.0 1048.3,700.0 1041.5,712.6" fill="#fff" stroke="#000" stroke-width="2.4" stroke-linejoin="miter"/>
<line x1="1041.5" y1="653.3" x2="1041.5" y2="679.3" stroke="#000" stroke-width="2.4"/>
<line x1="1029.1" y1="653.3" x2="1053.9" y2="653.3" stroke="#000" stroke-width="2.4"/>
<line x1="1029.1" y1="679.3" x2="1053.9" y2="679.3" stroke="#000" stroke-width="2.4"/>
<rect x="1109.8" y="552.6" width="13.8" height="13.8" fill="#fff" stroke="#000" stroke-width="2.4"/>
<rect x="1109.8" y="564.1" width="13.8" height="13.8" fill="#fff" stroke="#000" stroke-width="2.4"/>
<rect x="1109.8" y="575.6" width="13.8" height="13.8" fill="#fff" stroke="#000" stroke-width="2.4"/>
<rect x="1109.8" y="587.1" width="13.8" height="13.8" fill="#fff" stroke="#000" stroke-width="2.4"/>
<rect x="1109.8" y="598.6" width="13.8" height="13.8" fill="#fff" stroke="#000" stroke-width="2.4"/>
<rect x="1109.8" y="610.1" width="13.8" height="13.8" fill="#fff" stroke="#000" stroke-width="2.4"/>
<rect x="1109.8" y="621.6" width="13.8" height="13.8" fill="#fff" stroke="#000" stroke-width="2.4"/>
<rect x="1109.8" y="633.1" width="13.8" height="13.8" fill="#fff" stroke="#000" stroke-width="2.4"/>
<line x1="1116.7" y1="595.1" x2="1116.7" y2="615.6" stroke="#000" stroke-width="2.4"/>
<line x1="1104.4" y1="595.1" x2="1129.0" y2="595.1" stroke="#000" stroke-width="2.4"/>
<line x1="1104.4" y1="615.6" x2="1129.0" y2="615.6" stroke="#000" stroke-width="2.4"/>
<text transform="translate(1254.28,444.30) scale(1.0429,1)" font-size="42.60" fill="#000" xml:space="preserve"><tspan font-family="Liberation Serif, Times New Roman, serif" font-weight="bold">G</tspan></text>
<line x1="1387.5" y1="466.1" x2="1387.5" y2="767.0" stroke="#000" stroke-width="2.2"/>
<line x1="1373.2" y1="466.1" x2="1387.5" y2="466.1" stroke="#000" stroke-width="2.2"/>
<text transform="translate(1334.72,474.50) scale(0.9200,1)" font-size="29.30" fill="#000" xml:space="preserve"><tspan font-family="Liberation Sans, Arial, sans-serif">50</tspan></text>
<line x1="1373.2" y1="526.1" x2="1387.5" y2="526.1" stroke="#000" stroke-width="2.2"/>
<text transform="translate(1334.72,534.50) scale(0.9200,1)" font-size="29.30" fill="#000" xml:space="preserve"><tspan font-family="Liberation Sans, Arial, sans-serif">40</tspan></text>
<line x1="1373.2" y1="586.1" x2="1387.5" y2="586.1" stroke="#000" stroke-width="2.2"/>
<text transform="translate(1334.72,594.50) scale(0.9200,1)" font-size="29.30" fill="#000" xml:space="preserve"><tspan font-family="Liberation Sans, Arial, sans-serif">30</tspan></text>
<line x1="1373.2" y1="646.0" x2="1387.5" y2="646.0" stroke="#000" stroke-width="2.2"/>
<text transform="translate(1334.72,654.40) scale(0.9200,1)" font-size="29.30" fill="#000" xml:space="preserve"><tspan font-family="Liberation Sans, Arial, sans-serif">20</tspan></text>
<line x1="1373.2" y1="706.0" x2="1387.5" y2="706.0" stroke="#000" stroke-width="2.2"/>
<text transform="translate(1334.72,714.40) scale(0.9200,1)" font-size="29.30" fill="#000" xml:space="preserve"><tspan font-family="Liberation Sans, Arial, sans-serif">10</tspan></text>
<line x1="1373.2" y1="765.9" x2="1387.5" y2="765.9" stroke="#000" stroke-width="2.2"/>
<text transform="translate(1346.48,774.30) scale(0.9200,1)" font-size="29.30" fill="#000" xml:space="preserve"><tspan font-family="Liberation Sans, Arial, sans-serif">0</tspan></text>
<line x1="1373.2" y1="765.9" x2="1639.1" y2="765.9" stroke="#000" stroke-width="2.2"/>
<line x1="1438.0" y1="765.9" x2="1438.0" y2="780.5" stroke="#000" stroke-width="2.2"/>
<line x1="1512.2" y1="765.9" x2="1512.2" y2="780.5" stroke="#000" stroke-width="2.2"/>
<line x1="1587.4" y1="765.9" x2="1587.4" y2="780.5" stroke="#000" stroke-width="2.2"/>
<text transform="translate(1414.51,810.30) scale(1.0564,1)" font-size="28.20" fill="#000" xml:space="preserve"><tspan font-family="Liberation Sans, Arial, sans-serif">Ctrl</tspan></text>
<text transform="translate(1492.54,810.30) scale(0.9908,1)" font-size="28.20" fill="#000" xml:space="preserve"><tspan font-family="Liberation Sans, Arial, sans-serif">OE</tspan></text>
<text transform="translate(1566.63,810.30) scale(1.0484,1)" font-size="28.20" fill="#000" xml:space="preserve"><tspan font-family="Liberation Sans, Arial, sans-serif">RE</tspan></text>
<text transform="rotate(-90,1319.30,614.60) translate(1190.24,614.60) scale(0.9974,1)" font-size="28.30" fill="#000" xml:space="preserve"><tspan font-family="Liberation Sans, Arial, sans-serif">Time of grooming (s)</tspan></text>
<rect x="1413.5" y="651.1" width="49.5" height="114.8" fill="#F0B981"/>
<rect x="1488.4" y="577.2" width="49.2" height="188.7" fill="#0A5A0C"/>
<rect x="1563.0" y="653.3" width="49.1" height="112.6" fill="#1A7F95"/>
<path d="M1438.9,517.9 L1438.9,459.2 L1586.7,459.2 L1586.7,517.9" fill="none" stroke="#000" stroke-width="2.2"/>
<line x1="1512.2" y1="459.2" x2="1512.2" y2="476.6" stroke="#000" stroke-width="2.2"/>
<text transform="translate(1412.88,451.20) scale(1.0476,1)" font-size="22.00" fill="#000" xml:space="preserve"><tspan font-family="Liberation Sans, Arial, sans-serif" font-style="italic">p</tspan><tspan font-family="Liberation Sans, Arial, sans-serif">= 0.038</tspan></text>
<text transform="translate(1527.08,451.20) scale(1.0620,1)" font-size="22.00" fill="#000" xml:space="preserve"><tspan font-family="Liberation Sans, Arial, sans-serif" font-style="italic">p</tspan><tspan font-family="Liberation Sans, Arial, sans-serif">= 0.042</tspan></text>
<circle cx="1438.3" cy="559.1" r="7.6" fill="#fff" stroke="#000" stroke-width="2.25"/>
<circle cx="1430.4" cy="581.3" r="7.6" fill="#fff" stroke="#000" stroke-width="2.25"/>
<circle cx="1445.6" cy="585.5" r="7.6" fill="#fff" stroke="#000" stroke-width="2.25"/>
<circle cx="1453.5" cy="637.8" r="7.6" fill="#fff" stroke="#000" stroke-width="2.25"/>
<circle cx="1437.3" cy="644.8" r="7.6" fill="#fff" stroke="#000" stroke-width="2.25"/>
<circle cx="1422.5" cy="649.7" r="7.6" fill="#fff" stroke="#000" stroke-width="2.25"/>
<circle cx="1430.4" cy="686.8" r="7.6" fill="#fff" stroke="#000" stroke-width="2.25"/>
<circle cx="1445.6" cy="702.6" r="7.6" fill="#fff" stroke="#000" stroke-width="2.25"/>
<circle cx="1430.4" cy="722.5" r="7.6" fill="#fff" stroke="#000" stroke-width="2.25"/>
<circle cx="1445.6" cy="735.2" r="7.6" fill="#fff" stroke="#000" stroke-width="2.25"/>
<line x1="1438.0" y1="631.1" x2="1438.0" y2="670.1" stroke="#000" stroke-width="2.4"/>
<line x1="1425.6" y1="631.1" x2="1450.4" y2="631.1" stroke="#000" stroke-width="2.4"/>
<line x1="1425.6" y1="670.1" x2="1450.4" y2="670.1" stroke="#000" stroke-width="2.4"/>
<polygon points="1506.1,484.7 1519.5,484.7 1512.8,497.1" fill="#fff" stroke="#000" stroke-width="2.25" stroke-linejoin="miter"/>
<polygon points="1493.4,527.5 1506.8,527.5 1500.1,539.9" fill="#fff" stroke="#000" stroke-width="2.25" stroke-linejoin="miter"/>
<polygon points="1518.3,545.0 1531.7,545.0 1525.0,557.4" fill="#fff" stroke="#000" stroke-width="2.25" stroke-linejoin="miter"/>
<polygon points="1493.4,593.2 1506.8,593.2 1500.1,605.6" fill="#fff" stroke="#000" stroke-width="2.25" stroke-linejoin="miter"/>
<polygon points="1518.3,614.8 1531.7,614.8 1525.0,627.2" fill="#fff" stroke="#000" stroke-width="2.25" stroke-linejoin="miter"/>
<polygon points="1506.1,648.1 1519.5,648.1 1512.8,660.5" fill="#fff" stroke="#000" stroke-width="2.25" stroke-linejoin="miter"/>
<line x1="1512.5" y1="552.8" x2="1512.5" y2="601.3" stroke="#000" stroke-width="2.4"/>
<line x1="1500.1" y1="552.8" x2="1524.9" y2="552.8" stroke="#000" stroke-width="2.4"/>
<line x1="1500.1" y1="601.3" x2="1524.9" y2="601.3" stroke="#000" stroke-width="2.4"/>
<rect x="1580.7" y="585.1" width="13.4" height="13.4" fill="#fff" stroke="#000" stroke-width="2.25"/>
<rect x="1565.5" y="629.5" width="13.4" height="13.4" fill="#fff" stroke="#000" stroke-width="2.25"/>
<rect x="1580.7" y="623.8" width="13.4" height="13.4" fill="#fff" stroke="#000" stroke-width="2.25"/>
<rect x="1596.5" y="622.2" width="13.4" height="13.4" fill="#fff" stroke="#000" stroke-width="2.25"/>
<rect x="1580.7" y="661.9" width="13.4" height="13.4" fill="#fff" stroke="#000" stroke-width="2.25"/>
<rect x="1564.8" y="674.5" width="13.4" height="13.4" fill="#fff" stroke="#000" stroke-width="2.25"/>
<rect x="1580.7" y="678.7" width="13.4" height="13.4" fill="#fff" stroke="#000" stroke-width="2.25"/>
<rect x="1596.5" y="690.4" width="13.4" height="13.4" fill="#fff" stroke="#000" stroke-width="2.25"/>
<line x1="1587.4" y1="640.0" x2="1587.4" y2="665.4" stroke="#000" stroke-width="2.4"/>
<line x1="1575.0" y1="640.0" x2="1599.8" y2="640.0" stroke="#000" stroke-width="2.4"/>
<line x1="1575.0" y1="665.4" x2="1599.8" y2="665.4" stroke="#000" stroke-width="2.4"/>
<text transform="translate(1668.29,444.30) scale(0.9484,1)" font-size="42.60" fill="#000" xml:space="preserve"><tspan font-family="Liberation Serif, Times New Roman, serif" font-weight="bold">H</tspan></text>
<line x1="1794.1" y1="464.5" x2="1794.1" y2="766.3" stroke="#000" stroke-width="2.2"/>
<line x1="1778.9" y1="466.1" x2="1794.1" y2="466.1" stroke="#000" stroke-width="2.2"/>
<text transform="translate(1742.02,474.50) scale(0.9200,1)" font-size="29.30" fill="#000" xml:space="preserve"><tspan font-family="Liberation Sans, Arial, sans-serif">20</tspan></text>
<line x1="1778.9" y1="540.9" x2="1794.1" y2="540.9" stroke="#000" stroke-width="2.2"/>
<text transform="translate(1742.16,549.30) scale(0.9200,1)" font-size="29.30" fill="#000" xml:space="preserve"><tspan font-family="Liberation Sans, Arial, sans-serif">15</tspan></text>
<line x1="1778.9" y1="615.7" x2="1794.1" y2="615.7" stroke="#000" stroke-width="2.2"/>
<text transform="translate(1742.02,624.10) scale(0.9200,1)" font-size="29.30" fill="#000" xml:space="preserve"><tspan font-family="Liberation Sans, Arial, sans-serif">10</tspan></text>
<line x1="1778.9" y1="690.4" x2="1794.1" y2="690.4" stroke="#000" stroke-width="2.2"/>
<text transform="translate(1752.32,698.80) scale(0.9200,1)" font-size="29.30" fill="#000" xml:space="preserve"><tspan font-family="Liberation Sans, Arial, sans-serif">5</tspan></text>
<line x1="1778.9" y1="765.2" x2="1794.1" y2="765.2" stroke="#000" stroke-width="2.2"/>
<text transform="translate(1752.18,773.60) scale(0.9200,1)" font-size="29.30" fill="#000" xml:space="preserve"><tspan font-family="Liberation Sans, Arial, sans-serif">0</tspan></text>
<line x1="1778.9" y1="765.2" x2="2045.3" y2="765.2" stroke="#000" stroke-width="2.2"/>
<line x1="1843.0" y1="765.2" x2="1843.0" y2="779.4" stroke="#000" stroke-width="2.2"/>
<line x1="1918.5" y1="765.2" x2="1918.5" y2="779.4" stroke="#000" stroke-width="2.2"/>
<line x1="1993.0" y1="765.2" x2="1993.0" y2="779.4" stroke="#000" stroke-width="2.2"/>
<text transform="translate(1820.96,808.60) scale(1.0220,1)" font-size="28.20" fill="#000" xml:space="preserve"><tspan font-family="Liberation Sans, Arial, sans-serif">Ctrl</tspan></text>
<text transform="translate(1898.14,808.60) scale(0.9934,1)" font-size="28.20" fill="#000" xml:space="preserve"><tspan font-family="Liberation Sans, Arial, sans-serif">OE</tspan></text>
<text transform="translate(1973.19,808.60) scale(1.0232,1)" font-size="28.20" fill="#000" xml:space="preserve"><tspan font-family="Liberation Sans, Arial, sans-serif">RE</tspan></text>
<text transform="rotate(-90,1726.60,615.40) translate(1629.99,615.40) scale(0.9967,1)" font-size="28.30" fill="#000" xml:space="preserve"><tspan font-family="Liberation Sans, Arial, sans-serif">Marbles bunied</tspan></text>
<rect x="1819.5" y="640.9" width="48.2" height="124.3" fill="#F0B981"/>
<rect x="1894.0" y="526.4" width="48.9" height="238.8" fill="#0A5A0C"/>
<rect x="1968.6" y="640.5" width="49.1" height="124.7" fill="#1A7F95"/>
<path d="M1846.5,478.2 L1846.5,443.9 L1993.6,443.9 L1993.6,498.8" fill="none" stroke="#000" stroke-width="2.2"/>
<line x1="1920.0" y1="443.9" x2="1920.0" y2="456.0" stroke="#000" stroke-width="2.2"/>
<text transform="translate(1820.68,437.00) scale(1.0523,1)" font-size="22.00" fill="#000" xml:space="preserve"><tspan font-family="Liberation Sans, Arial, sans-serif" font-style="italic">p</tspan><tspan font-family="Liberation Sans, Arial, sans-serif">= 0.006</tspan></text>
<text transform="translate(1931.67,437.00) scale(1.0438,1)" font-size="22.00" fill="#000" xml:space="preserve"><tspan font-family="Liberation Sans, Arial, sans-serif" font-style="italic">p</tspan><tspan font-family="Liberation Sans, Arial, sans-serif">= 0.014</tspan></text>
<circle cx="1843.3" cy="525.8" r="7.6" fill="#fff" stroke="#000" stroke-width="2.25"/>
<circle cx="1836.0" cy="555.9" r="7.6" fill="#fff" stroke="#000" stroke-width="2.25"/>
<circle cx="1851.2" cy="555.9" r="7.6" fill="#fff" stroke="#000" stroke-width="2.25"/>
<circle cx="1843.3" cy="614.5" r="7.6" fill="#fff" stroke="#000" stroke-width="2.25"/>
<circle cx="1859.1" cy="614.5" r="7.6" fill="#fff" stroke="#000" stroke-width="2.25"/>
<circle cx="1828.1" cy="630.6" r="7.6" fill="#fff" stroke="#000" stroke-width="2.25"/>
<circle cx="1843.3" cy="676.0" r="7.6" fill="#fff" stroke="#000" stroke-width="2.25"/>
<circle cx="1843.3" cy="720.5" r="7.6" fill="#fff" stroke="#000" stroke-width="2.25"/>
<circle cx="1836.0" cy="750.3" r="7.6" fill="#fff" stroke="#000" stroke-width="2.25"/>
<circle cx="1851.2" cy="750.3" r="7.6" fill="#fff" stroke="#000" stroke-width="2.25"/>
<line x1="1843.3" y1="613.8" x2="1843.3" y2="665.5" stroke="#000" stroke-width="2.4"/>
<line x1="1831.9" y1="613.8" x2="1854.7" y2="613.8" stroke="#000" stroke-width="2.4"/>
<line x1="1831.9" y1="665.5" x2="1854.7" y2="665.5" stroke="#000" stroke-width="2.4"/>
<polygon points="1911.8,457.7 1925.2,457.7 1918.5,470.1" fill="#fff" stroke="#000" stroke-width="2.25" stroke-linejoin="miter"/>
<polygon points="1895.9,516.4 1909.3,516.4 1902.6,528.8" fill="#fff" stroke="#000" stroke-width="2.25" stroke-linejoin="miter"/>
<polygon points="1903.8,533.8 1917.2,533.8 1910.5,546.2" fill="#fff" stroke="#000" stroke-width="2.25" stroke-linejoin="miter"/>
<polygon points="1913.3,533.8 1926.7,533.8 1920.0,546.2" fill="#fff" stroke="#000" stroke-width="2.25" stroke-linejoin="miter"/>
<polygon points="1925.4,533.8 1938.8,533.8 1932.1,546.2" fill="#fff" stroke="#000" stroke-width="2.25" stroke-linejoin="miter"/>
<line x1="1918.5" y1="513.8" x2="1918.5" y2="526.4" stroke="#000" stroke-width="2.4"/>
<line x1="1907.5" y1="513.8" x2="1929.5" y2="513.8" stroke="#000" stroke-width="2.4"/>
<rect x="1972.2" y="563.6" width="13.4" height="13.4" fill="#fff" stroke="#000" stroke-width="2.25"/>
<rect x="1986.3" y="549.3" width="13.4" height="13.4" fill="#fff" stroke="#000" stroke-width="2.25"/>
<rect x="2002.1" y="549.3" width="13.4" height="13.4" fill="#fff" stroke="#000" stroke-width="2.25"/>
<rect x="1986.3" y="593.8" width="13.4" height="13.4" fill="#fff" stroke="#000" stroke-width="2.25"/>
<rect x="1986.3" y="669.3" width="13.4" height="13.4" fill="#fff" stroke="#000" stroke-width="2.25"/>
<rect x="1979.3" y="684.0" width="13.4" height="13.4" fill="#fff" stroke="#000" stroke-width="2.25"/>
<rect x="1994.2" y="699.2" width="13.4" height="13.4" fill="#fff" stroke="#000" stroke-width="2.25"/>
<rect x="1986.3" y="757.9" width="13.4" height="13.4" fill="#fff" stroke="#000" stroke-width="2.25"/>
<line x1="1993.0" y1="612.0" x2="1993.0" y2="668.5" stroke="#000" stroke-width="2.4"/>
<line x1="1981.6" y1="612.0" x2="2004.4" y2="612.0" stroke="#000" stroke-width="2.4"/>
<line x1="1981.6" y1="668.5" x2="2004.4" y2="668.5" stroke="#000" stroke-width="2.4"/>
<text transform="translate(9.14,888.70) scale(1.0490,1)" font-size="42.60" fill="#000" xml:space="preserve"><tspan font-family="Liberation Serif, Times New Roman, serif" font-weight="bold">I</tspan></text>
<text transform="translate(58.65,897.30) scale(1.0980,1)" font-size="26.50" fill="#000" xml:space="preserve"><tspan font-family="Liberation Sans, Arial, sans-serif">Ctrl</tspan></text>
<text transform="translate(58.83,1052.30) scale(1.0627,1)" font-size="26.50" fill="#000" xml:space="preserve"><tspan font-family="Liberation Sans, Arial, sans-serif">OE</tspan></text>
<text transform="translate(61.17,1207.90) scale(1.0978,1)" font-size="26.50" fill="#000" xml:space="preserve"><tspan font-family="Liberation Sans, Arial, sans-serif">RE</tspan></text>
<path d="M112.2,896.9 113.3,898.9 114.4,885.8 115.5,898.8 116.6,899.5 117.7,895.2 118.8,898.6 119.9,898.5 121.0,899.9 122.1,898.0 123.2,897.3 124.3,899.4 125.4,895.7 126.5,899.6 127.6,898.1 128.7,899.8 129.8,897.8 130.9,899.0 132.0,898.4 133.1,893.4 134.2,897.4 135.3,897.9 136.4,892.9 137.5,895.0 138.6,897.3 139.7,899.5 140.8,896.6 141.9,899.9 143.0,878.5 144.1,899.7 145.2,893.9 146.3,895.4 147.4,899.5 148.5,895.6 149.6,900.2 150.7,896.8 151.8,897.2 152.9,900.1 154.0,897.4 155.1,890.4 156.2,898.1 157.3,898.7 158.4,898.5 159.5,897.0 160.6,898.6 161.7,899.3 162.8,897.3 163.9,896.1 165.0,897.7 166.1,893.9 167.2,899.3 168.3,898.8 169.4,899.3 170.5,899.4 171.6,897.8 172.7,897.1 173.8,893.8 174.9,897.4 176.0,898.6 177.1,899.1 178.2,898.3 179.3,897.6 180.4,895.6 181.5,898.0 182.6,896.6 183.7,897.7 184.8,891.9 185.9,883.7 187.0,897.9 188.1,896.3 189.2,895.3 190.3,897.7 191.4,897.8 192.5,894.3 193.6,892.5 194.7,895.7 195.8,895.9 196.9,896.2 198.0,895.6 199.1,891.4 200.2,895.8 201.3,893.8 202.4,896.9 203.5,890.8 204.6,896.2 205.7,893.1 206.8,895.9 207.9,896.3 209.0,895.0 210.1,894.6 211.2,896.3 212.3,895.7 213.4,895.7 214.5,894.5 215.6,892.0 216.7,895.2 217.8,893.2 218.9,890.9 220.0,894.4 221.1,895.5 222.2,886.6 223.3,889.6 224.4,894.2 225.5,893.4 226.6,895.5 227.7,892.0 228.8,895.3 229.9,895.1 231.0,893.6 232.1,886.2 233.2,895.4 234.3,895.1 235.4,895.8 236.5,895.3 237.6,895.7 238.7,895.4 239.8,893.8 240.9,889.3 242.0,895.1 243.1,890.7 244.2,894.9 245.3,895.9 246.4,897.1 247.5,896.6 248.6,896.1 249.7,895.7 250.8,894.7 251.9,896.0 253.0,891.2 254.1,893.1 255.2,894.8 256.3,886.8 257.4,895.1 258.5,895.4 259.6,897.2 260.7,896.1 261.8,898.5 262.9,893.7 264.0,898.5 265.1,898.6 266.2,895.8 267.3,896.4 268.4,897.7 269.5,895.8 270.6,894.1 271.7,898.2 272.8,892.5 273.9,895.7 275.0,896.6 276.1,895.2 277.2,895.5 278.3,891.7 279.4,895.8 280.5,897.2 281.6,897.8 282.7,892.8 283.8,897.0 284.9,893.9 286.0,891.9 287.1,897.3 288.2,894.8 289.3,896.8 290.4,896.1 291.5,893.5 292.6,897.4 293.7,892.8 294.8,896.9 295.9,896.0 297.0,896.9 298.1,895.7 299.2,896.9 300.3,893.0 301.4,898.0 302.5,897.1 303.6,895.5 304.7,896.3 305.8,893.8 306.9,897.0 308.0,897.1 309.1,893.5 310.2,898.1 311.3,896.9 312.4,895.9 313.5,895.9 314.6,896.5 315.7,892.7 316.8,895.9 317.9,891.7 319.0,898.0 320.1,897.6 321.2,895.4 322.3,888.6 323.4,897.4 324.5,897.6 325.6,897.3 326.7,894.9 327.8,895.7 328.9,894.4 330.0,895.3 331.1,891.5 332.2,895.7 333.3,897.1 334.4,894.6 335.5,896.8 336.6,897.4 337.7,892.7 338.8,896.5 339.9,896.2 341.0,896.1 342.1,896.8 343.2,897.4 344.3,896.6 345.4,891.4 346.5,896.4 347.6,897.0 348.7,892.4 349.8,897.3 350.9,897.5 352.0,897.0 353.1,892.3 354.2,894.4 355.3,897.3 356.4,897.0 357.5,896.9 358.6,894.6 359.7,893.1 360.8,891.8 361.9,895.9 363.0,895.2 364.1,895.5 365.2,896.4 366.3,895.6 367.4,895.2 368.5,897.6 369.6,897.2 370.7,895.1 371.8,897.6 372.9,894.1 374.0,896.6 375.1,894.8 376.2,896.6 377.3,897.5 378.4,891.6 379.5,896.4 380.6,896.8 381.7,898.0 382.8,895.7 383.9,893.3 385.0,897.3 386.1,896.2 387.2,898.3 388.3,898.0 389.4,898.4 390.5,897.0 391.6,895.9 392.7,896.4 393.8,898.7 394.9,898.7 396.0,889.8 397.1,898.6 398.2,898.9 399.3,888.4 400.4,895.7 401.5,894.9 402.6,899.4 403.7,899.3 404.8,890.9 405.9,894.9 407.0,899.7 408.1,893.3 409.2,895.8 410.3,899.5 411.4,899.6 412.5,898.6 413.6,899.7 414.7,894.4 415.8,899.2 416.9,900.4 418.0,898.3 419.1,899.3 420.2,897.8 421.3,897.9 422.4,899.8 423.5,900.6 424.6,901.4 425.7,901.3 426.8,897.8 427.9,900.6 429.0,896.1 430.1,901.1 431.2,895.1 432.3,902.2 433.4,901.7 434.5,901.2 435.6,899.1 436.7,901.2 437.8,898.7 438.9,898.9 440.0,899.8 441.1,897.9 442.2,903.0 443.3,898.8 444.4,902.9 445.5,900.5 446.6,898.4 447.7,900.8 448.8,902.0 449.9,903.6 451.0,903.1 452.1,896.6 453.2,903.4 454.3,903.6 455.4,903.6 456.5,904.0 457.6,903.9 458.7,898.3 459.8,904.4 460.9,903.6 462.0,904.2 463.1,900.8 464.2,903.8 465.3,904.0 466.4,903.8 467.5,903.2 468.6,900.4 469.7,892.9 470.8,902.9 471.9,900.0 473.0,902.9 474.1,901.5 475.2,903.1 476.3,901.1 477.4,891.6 478.5,902.8 479.6,900.3 480.7,902.2 481.8,901.8 482.9,901.2 484.0,898.1 485.1,899.1 486.2,900.2 487.3,898.9 488.4,890.4 489.5,900.1 490.6,900.0 491.7,899.7 492.8,896.9 493.9,900.0 495.0,900.3 496.1,899.1 497.2,896.3 498.3,896.5 499.4,899.7 500.5,897.5 501.6,899.4 502.7,898.9 503.8,894.1 504.9,898.5 506.0,891.5 507.1,898.9 508.2,896.8 509.3,897.3 510.4,897.8 511.5,898.6 512.6,895.0 513.7,898.1 514.8,897.9 515.9,895.9 517.0,894.9 518.1,898.2 519.2,891.8 520.3,894.3 521.4,894.0 522.5,896.8 523.6,891.9 524.7,896.0 525.8,897.4 526.9,898.0 528.0,896.2 529.1,893.0 530.2,896.6 531.3,897.7 532.4,897.2 533.5,896.7 534.6,893.8 535.7,893.4 536.8,896.7 537.9,894.1 539.0,897.3 540.1,895.9 541.2,897.1 542.3,897.6 543.4,892.9 544.5,895.8 545.6,893.3 546.7,897.9 547.8,896.8 548.9,898.0 550.0,893.2 551.1,891.6 552.2,895.5 553.3,895.1 554.4,885.1 555.5,896.9 556.6,897.9 557.7,898.1 558.8,898.2 559.9,896.0 561.0,893.2 562.1,898.3 563.2,893.7 564.3,896.1 565.4,897.1 566.5,891.2 567.6,896.9 568.7,894.6 569.8,897.5 570.9,889.7 572.0,897.6 573.1,898.3 574.2,898.3 575.3,897.1 576.4,897.2 577.5,893.6 578.6,893.0 579.7,897.1 580.8,894.3 581.9,897.4 583.0,898.0 584.1,897.4 585.2,898.2 586.3,896.3 586.3,923.4 585.2,915.1 584.1,913.7 583.0,911.9 581.9,912.6 580.8,920.2 579.7,912.5 578.6,914.5 577.5,911.7 576.4,919.0 575.3,919.3 574.2,915.6 573.1,913.3 572.0,914.9 570.9,912.8 569.8,915.1 568.7,911.7 567.6,912.5 566.5,916.2 565.4,927.0 564.3,913.1 563.2,924.6 562.1,917.6 561.0,912.1 559.9,914.0 558.8,911.7 557.7,911.7 556.6,912.0 555.5,917.9 554.4,911.3 553.3,913.2 552.2,912.1 551.1,911.3 550.0,913.6 548.9,915.6 547.8,911.3 546.7,933.2 545.6,913.3 544.5,916.1 543.4,915.8 542.3,918.2 541.2,913.8 540.1,913.4 539.0,913.5 537.9,911.9 536.8,911.9 535.7,911.3 534.6,913.0 533.5,912.8 532.4,911.1 531.3,921.8 530.2,912.9 529.1,917.1 528.0,938.3 526.9,913.5 525.8,919.5 524.7,919.3 523.6,925.2 522.5,911.3 521.4,914.7 520.3,916.1 519.2,913.8 518.1,914.5 517.0,915.1 515.9,916.6 514.8,918.0 513.7,912.8 512.6,912.2 511.5,916.7 510.4,915.0 509.3,912.4 508.2,917.1 507.1,913.8 506.0,914.2 504.9,915.5 503.8,918.7 502.7,913.2 501.6,920.7 500.5,917.0 499.4,922.8 498.3,914.4 497.2,918.0 496.1,942.1 495.0,918.0 493.9,921.5 492.8,913.9 491.7,918.6 490.6,939.4 489.5,920.3 488.4,914.7 487.3,921.3 486.2,921.0 485.1,916.1 484.0,924.4 482.9,940.3 481.8,920.1 480.7,923.8 479.6,945.5 478.5,918.8 477.4,918.2 476.3,926.1 475.2,930.8 474.1,918.4 473.0,926.9 471.9,925.5 470.8,918.9 469.7,918.0 468.6,919.2 467.5,940.2 466.4,924.1 465.3,917.3 464.2,918.0 463.1,924.6 462.0,925.5 460.9,921.2 459.8,929.4 458.7,918.7 457.6,927.8 456.5,927.9 455.4,919.6 454.3,917.5 453.2,922.0 452.1,920.7 451.0,927.0 449.9,920.8 448.8,920.2 447.7,919.1 446.6,917.9 445.5,924.5 444.4,918.3 443.3,919.8 442.2,919.2 441.1,918.1 440.0,922.7 438.9,916.6 437.8,936.9 436.7,928.4 435.6,915.8 434.5,921.9 433.4,926.5 432.3,916.7 431.2,918.0 430.1,920.7 429.0,915.3 427.9,920.1 426.8,926.6 425.7,920.2 424.6,916.6 423.5,917.4 422.4,915.5 421.3,916.5 420.2,914.7 419.1,919.3 418.0,919.1 416.9,915.5 415.8,914.2 414.7,924.3 413.6,914.3 412.5,915.2 411.4,918.0 410.3,920.8 409.2,914.0 408.1,921.2 407.0,914.8 405.9,918.2 404.8,921.4 403.7,919.6 402.6,913.3 401.5,914.4 400.4,914.8 399.3,915.7 398.2,922.0 397.1,919.8 396.0,918.3 394.9,915.0 393.8,912.9 392.7,913.3 391.6,918.0 390.5,912.8 389.4,911.7 388.3,911.7 387.2,917.9 386.1,911.6 385.0,911.4 383.9,911.6 382.8,912.4 381.7,912.9 380.6,915.9 379.5,911.3 378.4,912.7 377.3,913.8 376.2,924.6 375.1,911.6 374.0,915.7 372.9,917.0 371.8,916.0 370.7,930.7 369.6,912.2 368.5,917.5 367.4,916.2 366.3,913.6 365.2,918.8 364.1,917.5 363.0,927.1 361.9,918.1 360.8,916.1 359.7,914.3 358.6,913.1 357.5,915.2 356.4,913.8 355.3,912.9 354.2,913.9 353.1,912.5 352.0,921.7 350.9,919.6 349.8,912.7 348.7,913.5 347.6,920.9 346.5,925.8 345.4,914.6 344.3,938.1 343.2,913.5 342.1,917.4 341.0,912.7 339.9,918.5 338.8,914.5 337.7,911.8 336.6,941.9 335.5,912.6 334.4,911.9 333.3,915.2 332.2,912.7 331.1,915.7 330.0,918.8 328.9,923.5 327.8,917.5 326.7,911.8 325.6,913.6 324.5,919.9 323.4,914.5 322.3,916.5 321.2,915.2 320.1,912.1 319.0,912.6 317.9,913.5 316.8,922.6 315.7,913.3 314.6,912.8 313.5,917.3 312.4,919.6 311.3,911.8 310.2,915.2 309.1,914.2 308.0,914.1 306.9,911.8 305.8,912.8 304.7,922.9 303.6,912.8 302.5,911.1 301.4,927.7 300.3,926.0 299.2,928.0 298.1,912.3 297.0,911.2 295.9,916.7 294.8,921.3 293.7,918.9 292.6,924.1 291.5,913.2 290.4,927.0 289.3,913.3 288.2,915.4 287.1,914.8 286.0,912.3 284.9,914.7 283.8,912.2 282.7,912.0 281.6,915.4 280.5,914.5 279.4,911.6 278.3,912.4 277.2,911.9 276.1,915.4 275.0,912.4 273.9,919.9 272.8,914.6 271.7,917.4 270.6,915.0 269.5,912.2 268.4,914.9 267.3,920.2 266.2,914.4 265.1,917.7 264.0,932.8 262.9,917.1 261.8,912.7 260.7,914.6 259.6,921.5 258.5,915.4 257.4,916.4 256.3,912.6 255.2,914.5 254.1,921.1 253.0,914.3 251.9,917.6 250.8,920.1 249.7,911.7 248.6,912.5 247.5,917.4 246.4,912.6 245.3,910.8 244.2,910.5 243.1,914.8 242.0,917.2 240.9,910.1 239.8,910.6 238.7,910.3 237.6,910.1 236.5,909.8 235.4,913.9 234.3,914.4 233.2,912.5 232.1,909.5 231.0,909.4 229.9,918.6 228.8,918.3 227.7,909.2 226.6,909.2 225.5,913.4 224.4,913.9 223.3,910.3 222.2,921.4 221.1,912.6 220.0,925.9 218.9,917.1 217.8,910.4 216.7,911.8 215.6,916.3 214.5,913.7 213.4,939.9 212.3,914.9 211.2,909.6 210.1,923.4 209.0,915.8 207.9,913.0 206.8,915.4 205.7,912.2 204.6,916.9 203.5,912.2 202.4,916.7 201.3,910.6 200.2,912.8 199.1,913.4 198.0,916.2 196.9,912.4 195.8,915.3 194.7,922.7 193.6,919.4 192.5,926.4 191.4,914.1 190.3,917.3 189.2,914.9 188.1,912.5 187.0,913.9 185.9,912.7 184.8,912.2 183.7,913.8 182.6,917.0 181.5,913.0 180.4,916.0 179.3,912.5 178.2,917.9 177.1,912.4 176.0,912.5 174.9,912.6 173.8,917.4 172.7,913.2 171.6,918.5 170.5,916.4 169.4,914.9 168.3,918.4 167.2,915.9 166.1,916.1 165.0,916.6 163.9,915.9 162.8,913.7 161.7,913.3 160.6,913.5 159.5,923.4 158.4,917.8 157.3,913.5 156.2,915.6 155.1,914.1 154.0,927.9 152.9,926.7 151.8,917.4 150.7,914.0 149.6,922.1 148.5,925.6 147.4,917.0 146.3,915.8 145.2,919.3 144.1,917.5 143.0,922.2 141.9,923.5 140.8,920.6 139.7,917.1 138.6,916.0 137.5,920.3 136.4,916.8 135.3,916.0 134.2,915.7 133.1,916.0 132.0,927.2 130.9,915.1 129.8,913.2 128.7,930.2 127.6,922.4 126.5,919.3 125.4,914.9 124.3,923.6 123.2,914.2 122.1,926.1 121.0,915.9 119.9,913.4 118.8,914.2 117.7,924.3 116.6,917.8 115.5,915.3 114.4,928.5 113.3,912.8 112.2,913.3Z" fill="#F1B57B" stroke="#F1B57B" stroke-width="0.5" stroke-linejoin="miter"/>
<path d="M138.9,914.1 L140.2,987.3 L141.8,914.1 Z M142.6,919.2 L143.9,961.7 L145.5,919.2 Z M173.5,914.4 L174.8,942.2 L176.4,914.4 Z M369.3,909.2 L370.6,951.2 L372.2,909.2 Z M378.3,908.3 L379.6,950.7 L381.2,908.3 Z M497.3,911.4 L498.6,948.3 L500.2,911.4 Z M554.1,908.3 L555.4,961.7 L557.0,908.3 Z M561.4,914.6 L562.7,938.5 L564.3,914.6 Z M445.6,914.9 L446.9,942.2 L448.5,914.9 Z M131.7,924.2 L133.0,928.0 L134.6,924.2 Z M203.7,913.9 L205.0,932.0 L206.6,913.9 Z M233.7,911.4 L235.0,931.0 L236.6,911.4 Z M286.7,911.8 L288.0,930.0 L289.6,911.8 Z M303.7,919.9 L305.0,927.0 L306.6,919.9 Z M398.7,912.7 L400.0,932.0 L401.6,912.7 Z M408.7,911.0 L410.0,930.0 L411.6,911.0 Z M424.7,917.2 L426.0,931.0 L427.6,917.2 Z M471.7,923.9 L473.0,935.0 L474.6,923.9 Z M480.7,917.1 L482.0,933.0 L483.6,917.1 Z M528.7,914.1 L530.0,932.0 L531.6,914.1 Z " fill="#F1B57B" stroke="#F1B57B" stroke-width="0.9" stroke-linejoin="round"/>
<path d="M109.3,1046.1 110.4,1045.7 111.5,1044.7 112.6,1043.9 113.7,1042.2 114.8,1041.7 115.9,1045.5 117.0,1045.7 118.1,1044.6 119.2,1044.3 120.3,1039.9 121.4,1045.2 122.5,1043.2 123.6,1042.8 124.7,1045.0 125.8,1036.9 126.9,1041.0 128.0,1037.0 129.1,1046.7 130.2,1046.6 131.3,1047.0 132.4,1045.3 133.5,1041.3 134.6,1042.5 135.7,1045.4 136.8,1044.5 137.9,1045.1 139.0,1044.7 140.1,1047.0 141.2,1047.4 142.3,1048.6 143.4,1048.2 144.5,1044.8 145.6,1046.8 146.7,1043.2 147.8,1047.4 148.9,1048.7 150.0,1046.2 151.1,1037.6 152.2,1046.5 153.3,1046.0 154.4,1048.5 155.5,1047.3 156.6,1042.2 157.7,1047.2 158.8,1048.2 159.9,1044.1 161.0,1047.1 162.1,1046.8 163.2,1047.2 164.3,1044.3 165.4,1044.3 166.5,1043.5 167.6,1037.0 168.7,1044.7 169.8,1039.6 170.9,1044.4 172.0,1040.0 173.1,1044.2 174.2,1043.4 175.3,1043.7 176.4,1044.4 177.5,1041.9 178.6,1042.4 179.7,1044.3 180.8,1039.2 181.9,1042.8 183.0,1034.0 184.1,1039.6 185.2,1043.4 186.3,1041.8 187.4,1039.8 188.5,1025.7 189.6,1035.7 190.7,1041.8 191.8,1041.3 192.9,1035.6 194.0,1040.7 195.1,1035.2 196.2,1043.5 197.3,1043.3 198.4,1042.3 199.5,1038.8 200.6,1033.9 201.7,1043.6 202.8,1042.1 203.9,1043.6 205.0,1041.5 206.1,1043.3 207.2,1043.0 208.3,1033.5 209.4,1041.5 210.5,1042.4 211.6,1043.6 212.7,1039.9 213.8,1043.1 214.9,1041.5 216.0,1044.1 217.1,1041.2 218.2,1041.5 219.3,1041.0 220.4,1039.2 221.5,1034.7 222.6,1042.8 223.7,1044.1 224.8,1039.3 225.9,1045.5 227.0,1045.3 228.1,1045.7 229.2,1027.4 230.3,1045.4 231.4,1044.7 232.5,1041.5 233.6,1042.6 234.7,1043.0 235.8,1041.7 236.9,1036.8 238.0,1046.3 239.1,1041.6 240.2,1045.2 241.3,1045.2 242.4,1044.3 243.5,1041.1 244.6,1044.8 245.7,1044.5 246.8,1042.0 247.9,1039.8 249.0,1040.2 250.1,1040.6 251.2,1041.0 252.3,1028.6 253.4,1043.1 254.5,1037.6 255.6,1043.8 256.7,1036.8 257.8,1040.4 258.9,1039.1 260.0,1043.5 261.1,1040.4 262.2,1042.5 263.3,1043.7 264.4,1043.9 265.5,1040.1 266.6,1041.8 267.7,1042.3 268.8,1042.1 269.9,1041.9 271.0,1039.2 272.1,1042.1 273.2,1038.2 274.3,1036.2 275.4,1043.1 276.5,1038.3 277.6,1040.5 278.7,1040.2 279.8,1043.7 280.9,1037.6 282.0,1036.7 283.1,1043.2 284.2,1041.2 285.3,1042.9 286.4,1043.6 287.5,1044.1 288.6,1041.5 289.7,1032.3 290.8,1036.9 291.9,1043.1 293.0,1037.9 294.1,1035.1 295.2,1043.9 296.3,1043.8 297.4,1041.7 298.5,1044.3 299.6,1044.3 300.7,1039.9 301.8,1044.3 302.9,1041.2 304.0,1032.0 305.1,1040.0 306.2,1041.4 307.3,1042.8 308.4,1043.5 309.5,1043.5 310.6,1044.9 311.7,1044.8 312.8,1042.9 313.9,1040.6 315.0,1045.3 316.1,1035.1 317.2,1037.2 318.3,1043.7 319.4,1043.2 320.5,1045.2 321.6,1043.5 322.7,1045.2 323.8,1041.2 324.9,1045.5 326.0,1035.9 327.1,1042.5 328.2,1040.1 329.3,1040.0 330.4,1045.3 331.5,1044.0 332.6,1044.0 333.7,1045.4 334.8,1045.1 335.9,1044.9 337.0,1039.1 338.1,1039.7 339.2,1045.3 340.3,1043.3 341.4,1043.2 342.5,1041.3 343.6,1038.6 344.7,1046.3 345.8,1046.5 346.9,1044.1 348.0,1043.2 349.1,1045.0 350.2,1046.6 351.3,1044.4 352.4,1044.5 353.5,1034.8 354.6,1046.1 355.7,1045.7 356.8,1043.8 357.9,1046.9 359.0,1047.0 360.1,1046.2 361.2,1046.1 362.3,1046.9 363.4,1046.4 364.5,1046.6 365.6,1039.6 366.7,1045.3 367.8,1046.9 368.9,1041.0 370.0,1042.4 371.1,1036.8 372.2,1041.6 373.3,1044.3 374.4,1045.5 375.5,1046.0 376.6,1044.8 377.7,1044.5 378.8,1047.2 379.9,1047.5 381.0,1047.4 382.1,1047.6 383.2,1047.1 384.3,1045.5 385.4,1043.8 386.5,1047.3 387.6,1047.4 388.7,1046.9 389.8,1041.1 390.9,1047.9 392.0,1043.8 393.1,1047.5 394.2,1043.9 395.3,1045.3 396.4,1047.7 397.5,1047.6 398.6,1048.3 399.7,1042.4 400.8,1045.5 401.9,1047.5 403.0,1047.4 404.1,1048.5 405.2,1046.9 406.3,1044.4 407.4,1041.4 408.5,1046.8 409.6,1042.0 410.7,1048.5 411.8,1047.4 412.9,1048.6 414.0,1048.0 415.1,1048.1 416.2,1046.4 417.3,1045.6 418.4,1044.3 419.5,1048.2 420.6,1046.3 421.7,1046.5 422.8,1048.4 423.9,1046.9 425.0,1044.5 426.1,1048.7 427.2,1047.5 428.3,1046.7 429.4,1047.5 430.5,1047.9 431.6,1047.6 432.7,1047.4 433.8,1048.1 434.9,1038.4 436.0,1047.7 437.1,1048.3 438.2,1044.4 439.3,1045.3 440.4,1047.0 441.5,1046.0 442.6,1042.4 443.7,1048.1 444.8,1047.6 445.9,1043.1 447.0,1047.9 448.1,1046.7 449.2,1047.6 450.3,1045.9 451.4,1045.6 452.5,1047.3 453.6,1046.7 454.7,1045.2 455.8,1047.6 456.9,1040.4 458.0,1038.7 459.1,1037.4 460.2,1047.1 461.3,1045.0 462.4,1047.1 463.5,1047.6 464.6,1045.6 465.7,1040.0 466.8,1044.8 467.9,1043.1 469.0,1040.5 470.1,1043.3 471.2,1043.8 472.3,1043.4 473.4,1046.1 474.5,1038.1 475.6,1044.7 476.7,1046.2 477.8,1044.3 478.9,1046.2 480.0,1037.9 481.1,1045.3 482.2,1045.6 483.3,1045.5 484.4,1029.4 485.5,1043.1 486.6,1045.0 487.7,1043.1 488.8,1043.4 489.9,1043.8 491.0,1044.4 492.1,1039.1 493.2,1044.3 494.3,1043.1 495.4,1042.1 496.5,1036.7 497.6,1044.4 498.7,1043.7 499.8,1038.4 500.9,1041.7 502.0,1044.5 503.1,1039.2 504.2,1038.9 505.3,1040.0 506.4,1044.8 507.5,1039.5 508.6,1037.4 509.7,1044.7 510.8,1042.5 511.9,1041.5 513.0,1043.7 514.1,1043.9 515.2,1041.6 516.3,1039.4 517.4,1040.0 518.5,1038.0 519.6,1043.2 520.7,1035.1 521.8,1037.9 522.9,1040.6 524.0,1043.7 525.1,1041.0 526.2,1042.9 527.3,1038.6 528.4,1041.4 529.5,1040.2 530.6,1033.4 531.7,1038.3 532.8,1038.1 533.9,1036.9 535.0,1035.9 536.1,1038.0 537.2,1032.4 538.3,1036.3 539.4,1036.1 540.5,1036.3 541.6,1035.2 542.7,1036.8 543.8,1031.5 544.9,1038.1 546.0,1037.3 547.1,1038.5 548.2,1039.3 549.3,1039.5 550.4,1038.0 551.5,1041.7 552.6,1042.2 553.7,1042.1 554.8,1041.3 555.9,1040.4 557.0,1039.0 558.1,1044.0 559.2,1044.8 560.3,1042.8 561.4,1045.0 562.5,1045.7 563.6,1044.8 564.7,1043.2 565.8,1044.7 566.9,1045.8 568.0,1045.7 569.1,1036.9 570.2,1043.5 571.3,1045.4 572.4,1046.5 573.5,1043.0 574.6,1039.1 575.7,1039.2 576.8,1046.0 577.9,1046.1 579.0,1043.7 580.1,1042.2 581.2,1040.9 582.3,1045.3 583.4,1046.0 583.4,1066.9 582.3,1070.8 581.2,1083.7 580.1,1063.7 579.0,1079.0 577.9,1070.0 576.8,1064.2 575.7,1064.3 574.6,1074.4 573.5,1066.9 572.4,1073.6 571.3,1067.3 570.2,1072.0 569.1,1067.3 568.0,1068.2 566.9,1068.8 565.8,1075.2 564.7,1064.3 563.6,1067.4 562.5,1082.2 561.4,1067.0 560.3,1064.7 559.2,1072.9 558.1,1065.0 557.0,1075.6 555.9,1070.7 554.8,1066.8 553.7,1068.6 552.6,1065.4 551.5,1067.7 550.4,1062.3 549.3,1061.2 548.2,1057.3 547.1,1058.5 546.0,1058.2 544.9,1055.8 543.8,1065.1 542.7,1058.2 541.6,1063.0 540.5,1065.2 539.4,1058.5 538.3,1059.9 537.2,1067.2 536.1,1060.8 535.0,1060.6 533.9,1061.4 532.8,1067.7 531.7,1058.3 530.6,1063.7 529.5,1065.7 528.4,1064.0 527.3,1062.3 526.2,1077.4 525.1,1062.2 524.0,1067.8 522.9,1067.8 521.8,1062.8 520.7,1061.5 519.6,1061.7 518.5,1066.7 517.4,1064.1 516.3,1072.0 515.2,1068.2 514.1,1074.7 513.0,1071.7 511.9,1065.1 510.8,1072.0 509.7,1064.7 508.6,1064.0 507.5,1075.8 506.4,1084.5 505.3,1063.8 504.2,1063.3 503.1,1070.9 502.0,1069.3 500.9,1074.4 499.8,1064.2 498.7,1067.2 497.6,1064.4 496.5,1063.6 495.4,1069.6 494.3,1065.8 493.2,1077.4 492.1,1072.9 491.0,1063.3 489.9,1066.2 488.8,1070.1 487.7,1067.2 486.6,1074.7 485.5,1094.9 484.4,1069.5 483.3,1064.1 482.2,1064.8 481.1,1074.2 480.0,1067.4 478.9,1078.8 477.8,1073.2 476.7,1068.0 475.6,1064.7 474.5,1066.3 473.4,1079.3 472.3,1064.7 471.2,1065.6 470.1,1069.4 469.0,1076.1 467.9,1068.9 466.8,1067.7 465.7,1072.9 464.6,1066.9 463.5,1074.8 462.4,1075.5 461.3,1068.7 460.2,1066.1 459.1,1065.7 458.0,1071.9 456.9,1068.5 455.8,1074.0 454.7,1069.9 453.6,1068.7 452.5,1077.0 451.4,1089.1 450.3,1067.1 449.2,1069.8 448.1,1067.9 447.0,1071.0 445.9,1066.4 444.8,1072.2 443.7,1091.1 442.6,1070.0 441.5,1067.3 440.4,1079.4 439.3,1068.6 438.2,1067.4 437.1,1068.1 436.0,1069.4 434.9,1068.8 433.8,1066.3 432.7,1070.0 431.6,1077.5 430.5,1068.7 429.4,1074.1 428.3,1073.2 427.2,1070.3 426.1,1068.2 425.0,1068.7 423.9,1073.0 422.8,1072.1 421.7,1068.5 420.6,1076.9 419.5,1076.8 418.4,1068.4 417.3,1070.6 416.2,1080.5 415.1,1066.6 414.0,1073.0 412.9,1078.1 411.8,1071.2 410.7,1069.4 409.6,1067.2 408.5,1069.8 407.4,1066.0 406.3,1070.2 405.2,1073.7 404.1,1070.6 403.0,1067.6 401.9,1066.2 400.8,1069.9 399.7,1076.7 398.6,1075.6 397.5,1066.0 396.4,1066.9 395.3,1066.1 394.2,1068.2 393.1,1071.3 392.0,1066.9 390.9,1068.9 389.8,1069.0 388.7,1068.7 387.6,1065.7 386.5,1075.3 385.4,1066.2 384.3,1065.1 383.2,1067.5 382.1,1069.1 381.0,1066.3 379.9,1068.7 378.8,1070.7 377.7,1065.0 376.6,1065.5 375.5,1067.1 374.4,1067.2 373.3,1072.2 372.2,1071.1 371.1,1070.2 370.0,1066.1 368.9,1066.0 367.8,1066.0 366.7,1069.8 365.6,1071.7 364.5,1066.0 363.4,1065.8 362.3,1065.2 361.2,1078.0 360.1,1075.5 359.0,1066.4 357.9,1065.5 356.8,1067.7 355.7,1064.3 354.6,1067.2 353.5,1073.3 352.4,1068.0 351.3,1071.5 350.2,1081.1 349.1,1068.3 348.0,1064.6 346.9,1067.0 345.8,1063.6 344.7,1068.6 343.6,1079.6 342.5,1064.3 341.4,1075.1 340.3,1064.3 339.2,1069.6 338.1,1072.2 337.0,1068.8 335.9,1081.7 334.8,1083.2 333.7,1069.5 332.6,1068.6 331.5,1091.0 330.4,1071.6 329.3,1069.2 328.2,1065.2 327.1,1070.1 326.0,1068.7 324.9,1068.2 323.8,1066.0 322.7,1071.1 321.6,1067.5 320.5,1064.9 319.4,1067.4 318.3,1065.2 317.2,1071.4 316.1,1070.9 315.0,1070.6 313.9,1070.7 312.8,1069.0 311.7,1065.9 310.6,1081.4 309.5,1063.1 308.4,1075.5 307.3,1067.8 306.2,1084.5 305.1,1065.6 304.0,1067.4 302.9,1072.8 301.8,1065.4 300.7,1066.5 299.6,1068.0 298.5,1065.5 297.4,1064.1 296.3,1064.2 295.2,1067.3 294.1,1075.6 293.0,1080.2 291.9,1073.6 290.8,1072.5 289.7,1075.1 288.6,1069.8 287.5,1062.0 286.4,1063.3 285.3,1079.2 284.2,1090.9 283.1,1064.2 282.0,1061.6 280.9,1063.8 279.8,1061.8 278.7,1067.5 277.6,1064.8 276.5,1064.8 275.4,1066.7 274.3,1062.0 273.2,1084.4 272.1,1067.1 271.0,1065.5 269.9,1061.8 268.8,1064.1 267.7,1076.0 266.6,1062.1 265.5,1079.0 264.4,1065.7 263.3,1061.8 262.2,1062.7 261.1,1069.3 260.0,1062.0 258.9,1061.9 257.8,1077.4 256.7,1061.6 255.6,1069.0 254.5,1065.7 253.4,1070.9 252.3,1082.7 251.2,1070.9 250.1,1063.5 249.0,1068.6 247.9,1064.8 246.8,1069.3 245.7,1084.8 244.6,1074.0 243.5,1063.8 242.4,1066.6 241.3,1069.1 240.2,1064.3 239.1,1068.4 238.0,1066.5 236.9,1064.6 235.8,1066.7 234.7,1065.8 233.6,1067.1 232.5,1068.9 231.4,1064.2 230.3,1072.9 229.2,1063.1 228.1,1068.7 227.0,1063.4 225.9,1065.0 224.8,1069.7 223.7,1064.6 222.6,1079.4 221.5,1066.6 220.4,1062.2 219.3,1074.7 218.2,1064.0 217.1,1066.5 216.0,1068.3 214.9,1075.8 213.8,1082.4 212.7,1084.8 211.6,1064.3 210.5,1064.9 209.4,1068.6 208.3,1077.6 207.2,1062.5 206.1,1080.5 205.0,1065.2 203.9,1063.6 202.8,1063.0 201.7,1062.3 200.6,1068.1 199.5,1071.1 198.4,1072.8 197.3,1061.7 196.2,1071.3 195.1,1063.2 194.0,1083.1 192.9,1061.8 191.8,1066.2 190.7,1065.0 189.6,1062.2 188.5,1065.1 187.4,1062.6 186.3,1061.3 185.2,1076.9 184.1,1065.7 183.0,1062.1 181.9,1061.4 180.8,1062.1 179.7,1072.6 178.6,1068.3 177.5,1062.9 176.4,1065.8 175.3,1069.2 174.2,1063.9 173.1,1072.3 172.0,1068.8 170.9,1063.6 169.8,1071.4 168.7,1088.1 167.6,1064.3 166.5,1078.5 165.4,1074.3 164.3,1078.6 163.2,1066.0 162.1,1066.4 161.0,1074.5 159.9,1065.3 158.8,1074.9 157.7,1069.3 156.6,1067.9 155.5,1080.7 154.4,1078.6 153.3,1071.5 152.2,1082.0 151.1,1078.1 150.0,1069.8 148.9,1069.6 147.8,1070.3 146.7,1072.4 145.6,1074.2 144.5,1067.7 143.4,1079.3 142.3,1075.7 141.2,1066.6 140.1,1066.3 139.0,1091.0 137.9,1075.5 136.8,1065.5 135.7,1086.2 134.6,1070.7 133.5,1068.4 132.4,1065.3 131.3,1075.7 130.2,1069.5 129.1,1072.1 128.0,1069.1 126.9,1064.7 125.8,1074.4 124.7,1072.5 123.6,1075.5 122.5,1086.0 121.4,1071.6 120.3,1068.2 119.2,1072.3 118.1,1089.3 117.0,1067.6 115.9,1067.7 114.8,1073.6 113.7,1064.3 112.6,1067.8 111.5,1064.2 110.4,1063.8 109.3,1067.0Z" fill="#075C08" stroke="#075C08" stroke-width="0.5" stroke-linejoin="miter"/>
<path d="M111.4,1064.8 L112.7,1105.3 L114.3,1064.8 Z M143.1,1076.3 L144.4,1124.8 L146.0,1076.3 Z M151.4,1079.0 L152.7,1134.6 L154.3,1079.0 Z M157.2,1066.3 L158.5,1141.4 L160.1,1066.3 Z M174.3,1066.2 L175.6,1115.1 L177.2,1066.2 Z M177.4,1065.3 L178.7,1123.6 L180.3,1065.3 Z M190.9,1063.2 L192.2,1143.1 L193.8,1063.2 Z M195.7,1068.3 L197.0,1093.1 L198.6,1068.3 Z M207.7,1074.6 L209.0,1153.6 L210.6,1074.6 Z M211.3,1061.3 L212.6,1099.2 L214.2,1061.3 Z M218.2,1071.7 L219.5,1092.6 L221.1,1071.7 Z M223.0,1061.6 L224.3,1112.6 L225.9,1061.6 Z M242.5,1060.8 L243.8,1084.6 L245.4,1060.8 Z M249.8,1060.5 L251.1,1095.6 L252.7,1060.5 Z M265.2,1076.0 L266.5,1099.2 L268.1,1076.0 Z M279.1,1058.8 L280.4,1121.9 L282.0,1058.8 Z M281.5,1058.6 L282.8,1109.0 L284.4,1058.6 Z M285.7,1060.3 L287.0,1113.4 L288.6,1060.3 Z M293.7,1072.6 L295.0,1087.8 L296.6,1072.6 Z M297.4,1062.5 L298.7,1100.4 L300.3,1062.5 Z M300.1,1063.5 L301.4,1117.5 L303.0,1063.5 Z M305.9,1081.5 L307.2,1078.5 L308.8,1081.5 Z M317.6,1062.2 L318.9,1128.5 L320.5,1062.2 Z M323.5,1063.0 L324.8,1112.6 L326.4,1063.0 Z M328.3,1066.2 L329.6,1102.9 L331.2,1066.2 Z M332.7,1066.5 L334.0,1112.6 L335.6,1066.5 Z M343.7,1065.6 L345.0,1122.4 L346.6,1065.6 Z M347.4,1061.6 L348.7,1106.5 L350.3,1061.6 Z M353.7,1064.2 L355.0,1133.4 L356.6,1064.2 Z M372.7,1069.2 L374.0,1118.7 L375.6,1069.2 Z M383.4,1062.1 L384.7,1130.2 L386.3,1062.1 Z M399.0,1073.7 L400.3,1111.4 L401.9,1073.7 Z M405.1,1067.2 L406.4,1093.1 L408.0,1067.2 Z M413.2,1070.0 L414.5,1102.9 L416.1,1070.0 Z M426.6,1067.3 L427.9,1133.4 L429.5,1067.3 Z M433.9,1065.8 L435.2,1166.3 L436.8,1065.8 Z M437.6,1064.4 L438.9,1117.5 L440.5,1064.4 Z M451.5,1074.0 L452.8,1101.7 L454.4,1074.0 Z M462.4,1071.8 L463.7,1133.4 L465.3,1071.8 Z M466.1,1064.7 L467.4,1102.9 L469.0,1064.7 Z M473.4,1063.3 L474.7,1099.2 L476.3,1063.3 Z M483.9,1066.5 L485.2,1143.1 L486.8,1066.5 Z M491.2,1069.9 L492.5,1110.7 L494.1,1069.9 Z M497.8,1064.2 L499.1,1102.4 L500.7,1064.2 Z M509.5,1061.7 L510.8,1115.6 L512.4,1061.7 Z M516.1,1069.0 L517.4,1085.8 L519.0,1069.0 Z M521.7,1064.8 L523.0,1087.0 L524.6,1064.8 Z M532.1,1064.7 L533.4,1133.4 L535.0,1064.7 Z M546.3,1055.5 L547.6,1103.4 L549.2,1055.5 Z M550.2,1059.3 L551.5,1079.7 L553.1,1059.3 Z M559.5,1061.7 L560.8,1078.5 L562.4,1061.7 Z M566.8,1065.2 L568.1,1095.6 L569.7,1065.2 Z M580.9,1080.7 L582.2,1138.2 L583.8,1080.7 Z " fill="#075C08" stroke="#075C08" stroke-width="0.9" stroke-linejoin="round"/>
<path d="M107.3,1207.8 108.4,1207.2 109.5,1204.6 110.6,1202.6 111.7,1207.4 112.8,1207.7 113.9,1207.3 115.0,1208.2 116.1,1205.9 117.2,1208.4 118.3,1207.4 119.4,1199.9 120.5,1208.0 121.6,1205.3 122.7,1207.4 123.8,1203.5 124.9,1206.4 126.0,1204.9 127.1,1208.1 128.2,1208.4 129.3,1208.9 130.4,1205.9 131.5,1206.6 132.6,1205.8 133.7,1207.2 134.8,1207.5 135.9,1207.4 137.0,1207.5 138.1,1208.9 139.2,1203.4 140.3,1205.3 141.4,1208.8 142.5,1205.2 143.6,1201.0 144.7,1208.5 145.8,1207.0 146.9,1208.6 148.0,1205.8 149.1,1203.4 150.2,1206.6 151.3,1205.4 152.4,1205.9 153.5,1206.9 154.6,1204.2 155.7,1207.8 156.8,1203.5 157.9,1197.2 159.0,1208.2 160.1,1202.5 161.2,1206.8 162.3,1207.3 163.4,1208.1 164.5,1200.4 165.6,1208.2 166.7,1204.7 167.8,1206.8 168.9,1201.9 170.0,1205.3 171.1,1197.2 172.2,1207.7 173.3,1207.7 174.4,1203.5 175.5,1207.0 176.6,1200.9 177.7,1205.1 178.8,1206.5 179.9,1199.1 181.0,1207.6 182.1,1204.9 183.2,1205.6 184.3,1207.5 185.4,1207.2 186.5,1207.2 187.6,1206.7 188.7,1206.6 189.8,1206.5 190.9,1205.9 192.0,1206.8 193.1,1200.9 194.2,1204.5 195.3,1202.7 196.4,1201.8 197.5,1206.8 198.6,1204.5 199.7,1204.4 200.8,1206.7 201.9,1198.0 203.0,1206.4 204.1,1204.3 205.2,1198.5 206.3,1205.4 207.4,1205.1 208.5,1202.2 209.6,1206.0 210.7,1204.4 211.8,1205.0 212.9,1202.5 214.0,1203.4 215.1,1204.1 216.2,1203.6 217.3,1206.0 218.4,1200.6 219.5,1204.5 220.6,1198.7 221.7,1203.0 222.8,1199.5 223.9,1198.1 225.0,1202.7 226.1,1204.7 227.2,1204.8 228.3,1204.4 229.4,1205.4 230.5,1200.3 231.6,1194.8 232.7,1205.4 233.8,1193.8 234.9,1202.7 236.0,1203.3 237.1,1201.2 238.2,1195.0 239.3,1202.6 240.4,1204.4 241.5,1203.5 242.6,1202.5 243.7,1201.9 244.8,1205.2 245.9,1204.9 247.0,1200.5 248.1,1204.1 249.2,1204.8 250.3,1204.7 251.4,1203.3 252.5,1201.5 253.6,1205.2 254.7,1205.2 255.8,1195.5 256.9,1204.1 258.0,1202.5 259.1,1203.9 260.2,1204.6 261.3,1198.9 262.4,1205.0 263.5,1205.0 264.6,1204.7 265.7,1201.9 266.8,1203.2 267.9,1201.5 269.0,1203.2 270.1,1205.6 271.2,1205.8 272.3,1201.4 273.4,1205.0 274.5,1202.8 275.6,1203.3 276.7,1205.4 277.8,1202.9 278.9,1205.5 280.0,1201.0 281.1,1198.5 282.2,1203.0 283.3,1206.1 284.4,1206.0 285.5,1204.2 286.6,1203.6 287.7,1204.8 288.8,1202.8 289.9,1200.9 291.0,1205.2 292.1,1203.1 293.2,1205.4 294.3,1203.7 295.4,1202.9 296.5,1204.0 297.6,1205.1 298.7,1204.6 299.8,1206.3 300.9,1202.0 302.0,1201.9 303.1,1204.8 304.2,1203.3 305.3,1206.5 306.4,1205.4 307.5,1200.8 308.6,1204.5 309.7,1204.5 310.8,1201.5 311.9,1196.6 313.0,1200.1 314.1,1203.0 315.2,1205.7 316.3,1203.7 317.4,1205.2 318.5,1197.4 319.6,1204.1 320.7,1200.8 321.8,1202.7 322.9,1206.1 324.0,1201.6 325.1,1201.8 326.2,1200.6 327.3,1203.1 328.4,1200.5 329.5,1203.8 330.6,1204.1 331.7,1205.7 332.8,1202.1 333.9,1200.6 335.0,1201.1 336.1,1205.1 337.2,1205.6 338.3,1197.8 339.4,1202.9 340.5,1202.8 341.6,1202.8 342.7,1203.3 343.8,1205.2 344.9,1200.5 346.0,1201.6 347.1,1192.3 348.2,1205.2 349.3,1201.7 350.4,1204.5 351.5,1203.6 352.6,1203.0 353.7,1203.7 354.8,1199.5 355.9,1202.3 357.0,1202.0 358.1,1204.0 359.2,1202.1 360.3,1194.9 361.4,1198.4 362.5,1203.7 363.6,1202.9 364.7,1199.0 365.8,1203.3 366.9,1202.8 368.0,1202.1 369.1,1202.6 370.2,1203.1 371.3,1197.6 372.4,1202.4 373.5,1200.6 374.6,1203.3 375.7,1196.7 376.8,1195.9 377.9,1198.6 379.0,1201.6 380.1,1201.9 381.2,1196.8 382.3,1202.4 383.4,1203.0 384.5,1203.1 385.6,1195.3 386.7,1193.7 387.8,1202.4 388.9,1202.2 390.0,1202.8 391.1,1199.2 392.2,1200.3 393.3,1195.1 394.4,1202.2 395.5,1201.9 396.6,1201.0 397.7,1199.6 398.8,1202.0 399.9,1194.2 401.0,1201.4 402.1,1199.2 403.2,1200.8 404.3,1201.1 405.4,1198.1 406.5,1199.7 407.6,1194.6 408.7,1202.5 409.8,1199.1 410.9,1200.9 412.0,1202.1 413.1,1201.6 414.2,1198.5 415.3,1199.5 416.4,1201.7 417.5,1200.4 418.6,1199.5 419.7,1201.7 420.8,1192.9 421.9,1202.8 423.0,1201.8 424.1,1199.8 425.2,1200.5 426.3,1200.9 427.4,1190.6 428.5,1199.7 429.6,1193.9 430.7,1199.8 431.8,1202.0 432.9,1202.8 434.0,1194.9 435.1,1201.2 436.2,1201.1 437.3,1202.5 438.4,1203.2 439.5,1201.8 440.6,1201.6 441.7,1202.7 442.8,1203.6 443.9,1200.4 445.0,1203.2 446.1,1198.5 447.2,1203.9 448.3,1200.9 449.4,1204.0 450.5,1198.3 451.6,1204.5 452.7,1203.6 453.8,1201.7 454.9,1203.6 456.0,1200.7 457.1,1204.8 458.2,1203.7 459.3,1201.7 460.4,1205.1 461.5,1203.9 462.6,1204.6 463.7,1204.5 464.8,1204.1 465.9,1195.7 467.0,1205.4 468.1,1204.4 469.2,1204.4 470.3,1205.0 471.4,1199.3 472.5,1204.5 473.6,1204.1 474.7,1204.4 475.8,1205.1 476.9,1204.6 478.0,1206.5 479.1,1205.3 480.2,1205.3 481.3,1206.5 482.4,1205.1 483.5,1206.6 484.6,1197.8 485.7,1205.1 486.8,1207.1 487.9,1207.1 489.0,1206.3 490.1,1205.1 491.2,1197.9 492.3,1201.0 493.4,1204.1 494.5,1207.4 495.6,1206.1 496.7,1205.3 497.8,1206.2 498.9,1204.5 500.0,1206.5 501.1,1202.1 502.2,1205.7 503.3,1206.5 504.4,1204.0 505.5,1207.2 506.6,1198.7 507.7,1207.8 508.8,1208.0 509.9,1206.2 511.0,1204.9 512.1,1207.3 513.2,1207.5 514.3,1202.1 515.4,1208.5 516.5,1208.2 517.6,1201.5 518.7,1202.9 519.8,1207.0 520.9,1208.0 522.0,1206.0 523.1,1204.9 524.2,1207.6 525.3,1205.2 526.4,1206.7 527.5,1201.4 528.6,1207.6 529.7,1208.6 530.8,1208.3 531.9,1207.9 533.0,1206.7 534.1,1207.1 535.2,1206.9 536.3,1207.8 537.4,1208.4 538.5,1207.8 539.6,1205.8 540.7,1207.8 541.8,1207.1 542.9,1207.4 544.0,1207.6 545.1,1206.1 546.2,1207.2 547.3,1206.3 548.4,1204.4 549.5,1205.0 550.6,1207.4 551.7,1206.7 552.8,1206.3 553.9,1202.8 555.0,1205.0 556.1,1203.3 557.2,1204.4 558.3,1200.6 559.4,1206.0 560.5,1206.0 561.6,1207.5 562.7,1207.3 563.8,1207.4 564.9,1207.3 566.0,1203.9 567.1,1206.9 568.2,1206.2 569.3,1205.2 570.4,1206.2 571.5,1207.0 572.6,1205.8 573.7,1203.2 574.8,1205.5 575.9,1205.4 577.0,1204.1 578.1,1203.4 579.2,1200.7 580.3,1206.4 581.4,1205.3 582.5,1204.8 583.6,1204.9 583.6,1219.9 582.5,1221.4 581.4,1229.3 580.3,1220.2 579.2,1223.5 578.1,1231.8 577.0,1227.5 575.9,1219.8 574.8,1228.9 573.7,1225.0 572.6,1238.8 571.5,1224.2 570.4,1223.5 569.3,1228.9 568.2,1219.7 567.1,1222.7 566.0,1223.6 564.9,1221.3 563.8,1237.9 562.7,1225.2 561.6,1224.0 560.5,1233.1 559.4,1223.5 558.3,1221.5 557.2,1230.0 556.1,1224.5 555.0,1227.1 553.9,1220.7 552.8,1222.7 551.7,1233.5 550.6,1228.3 549.5,1222.0 548.4,1224.6 547.3,1224.0 546.2,1223.9 545.1,1225.9 544.0,1223.4 542.9,1221.7 541.8,1226.3 540.7,1225.6 539.6,1221.8 538.5,1222.1 537.4,1226.3 536.3,1220.7 535.2,1222.7 534.1,1221.9 533.0,1221.9 531.9,1220.6 530.8,1239.9 529.7,1221.4 528.6,1223.0 527.5,1225.0 526.4,1230.4 525.3,1223.3 524.2,1234.4 523.1,1226.3 522.0,1220.8 520.9,1229.0 519.8,1223.9 518.7,1232.7 517.6,1228.0 516.5,1224.3 515.4,1221.0 514.3,1224.0 513.2,1220.6 512.1,1231.2 511.0,1233.1 509.9,1222.3 508.8,1221.4 507.7,1228.1 506.6,1224.2 505.5,1223.1 504.4,1229.5 503.3,1225.7 502.2,1221.3 501.1,1227.4 500.0,1244.5 498.9,1240.8 497.8,1220.3 496.7,1221.4 495.6,1245.5 494.5,1228.0 493.4,1226.4 492.3,1227.5 491.2,1220.0 490.1,1220.6 489.0,1223.2 487.9,1219.9 486.8,1226.0 485.7,1220.9 484.6,1236.1 483.5,1221.0 482.4,1220.9 481.3,1229.9 480.2,1223.2 479.1,1222.3 478.0,1226.8 476.9,1222.2 475.8,1219.6 474.7,1225.3 473.6,1224.2 472.5,1228.7 471.4,1233.5 470.3,1219.4 469.2,1222.5 468.1,1219.8 467.0,1224.2 465.9,1219.9 464.8,1219.2 463.7,1222.9 462.6,1217.6 461.5,1226.0 460.4,1234.1 459.3,1226.5 458.2,1223.5 457.1,1216.9 456.0,1222.1 454.9,1220.4 453.8,1220.9 452.7,1228.5 451.6,1217.2 450.5,1219.2 449.4,1219.1 448.3,1220.7 447.2,1217.5 446.1,1217.2 445.0,1216.4 443.9,1221.7 442.8,1221.1 441.7,1217.6 440.6,1217.2 439.5,1225.8 438.4,1222.5 437.3,1222.0 436.2,1215.8 435.1,1217.1 434.0,1218.7 432.9,1215.6 431.8,1216.9 430.7,1217.7 429.6,1215.5 428.5,1222.5 427.4,1217.4 426.3,1219.3 425.2,1215.6 424.1,1217.3 423.0,1217.0 421.9,1216.5 420.8,1226.1 419.7,1214.9 418.6,1228.2 417.5,1220.4 416.4,1222.3 415.3,1216.0 414.2,1224.2 413.1,1216.8 412.0,1225.4 410.9,1215.0 409.8,1215.7 408.7,1214.9 407.6,1216.4 406.5,1216.1 405.4,1217.9 404.3,1218.7 403.2,1215.6 402.1,1217.4 401.0,1217.0 399.9,1217.0 398.8,1218.2 397.7,1218.7 396.6,1215.0 395.5,1225.9 394.4,1216.0 393.3,1215.3 392.2,1216.9 391.1,1215.6 390.0,1231.9 388.9,1241.2 387.8,1217.4 386.7,1219.3 385.6,1221.1 384.5,1217.8 383.4,1215.3 382.3,1216.0 381.2,1217.1 380.1,1224.8 379.0,1216.4 377.9,1216.6 376.8,1217.1 375.7,1218.0 374.6,1219.0 373.5,1217.5 372.4,1222.8 371.3,1217.2 370.2,1216.1 369.1,1218.9 368.0,1222.4 366.9,1228.8 365.8,1219.0 364.7,1235.6 363.6,1221.8 362.5,1222.4 361.4,1216.9 360.3,1217.3 359.2,1218.6 358.1,1219.0 357.0,1223.1 355.9,1218.7 354.8,1219.0 353.7,1228.0 352.6,1223.1 351.5,1225.4 350.4,1220.7 349.3,1222.0 348.2,1217.5 347.1,1222.4 346.0,1218.7 344.9,1219.2 343.8,1218.2 342.7,1221.0 341.6,1219.1 340.5,1218.7 339.4,1219.5 338.3,1219.8 337.2,1222.4 336.1,1226.1 335.0,1221.3 333.9,1219.5 332.8,1219.6 331.7,1235.7 330.6,1218.2 329.5,1218.8 328.4,1218.6 327.3,1226.9 326.2,1228.8 325.1,1224.9 324.0,1223.1 322.9,1218.3 321.8,1220.0 320.7,1225.0 319.6,1220.8 318.5,1220.3 317.4,1223.1 316.3,1221.0 315.2,1222.6 314.1,1218.7 313.0,1224.2 311.9,1220.6 310.8,1226.8 309.7,1219.9 308.6,1221.2 307.5,1218.6 306.4,1222.5 305.3,1229.6 304.2,1226.2 303.1,1229.8 302.0,1226.7 300.9,1218.8 299.8,1222.2 298.7,1224.4 297.6,1222.8 296.5,1222.1 295.4,1221.2 294.3,1222.1 293.2,1218.5 292.1,1218.5 291.0,1228.0 289.9,1220.1 288.8,1220.7 287.7,1219.1 286.6,1223.5 285.5,1219.4 284.4,1220.9 283.3,1226.0 282.2,1226.3 281.1,1224.3 280.0,1221.0 278.9,1225.3 277.8,1226.1 276.7,1228.4 275.6,1219.0 274.5,1219.4 273.4,1225.7 272.3,1219.8 271.2,1231.0 270.1,1227.1 269.0,1224.1 267.9,1218.2 266.8,1219.2 265.7,1220.1 264.6,1220.4 263.5,1218.7 262.4,1220.3 261.3,1218.3 260.2,1223.2 259.1,1218.9 258.0,1219.9 256.9,1224.3 255.8,1228.7 254.7,1221.4 253.6,1219.2 252.5,1246.4 251.4,1221.2 250.3,1219.3 249.2,1218.9 248.1,1224.2 247.0,1217.9 245.9,1220.0 244.8,1225.1 243.7,1222.5 242.6,1224.9 241.5,1229.6 240.4,1218.2 239.3,1219.4 238.2,1221.1 237.1,1220.5 236.0,1221.0 234.9,1218.1 233.8,1222.0 232.7,1220.6 231.6,1218.8 230.5,1219.1 229.4,1226.7 228.3,1231.8 227.2,1221.5 226.1,1226.4 225.0,1228.7 223.9,1222.2 222.8,1221.6 221.7,1225.2 220.6,1218.8 219.5,1224.3 218.4,1218.2 217.3,1219.0 216.2,1233.7 215.1,1218.3 214.0,1220.7 212.9,1227.5 211.8,1230.8 210.7,1223.7 209.6,1228.0 208.5,1218.5 207.4,1220.1 206.3,1224.4 205.2,1218.7 204.1,1221.0 203.0,1221.2 201.9,1218.9 200.8,1220.9 199.7,1219.6 198.6,1220.9 197.5,1221.7 196.4,1226.3 195.3,1220.3 194.2,1221.5 193.1,1223.3 192.0,1220.0 190.9,1227.8 189.8,1223.6 188.7,1219.6 187.6,1224.7 186.5,1227.9 185.4,1221.5 184.3,1220.7 183.2,1226.9 182.1,1233.9 181.0,1226.7 179.9,1220.2 178.8,1220.5 177.7,1220.9 176.6,1220.3 175.5,1227.2 174.4,1223.9 173.3,1227.6 172.2,1224.5 171.1,1222.1 170.0,1227.9 168.9,1228.8 167.8,1224.3 166.7,1221.8 165.6,1234.8 164.5,1221.6 163.4,1230.9 162.3,1223.0 161.2,1222.9 160.1,1222.5 159.0,1222.2 157.9,1225.7 156.8,1227.4 155.7,1229.2 154.6,1233.7 153.5,1232.2 152.4,1226.4 151.3,1222.7 150.2,1226.1 149.1,1222.9 148.0,1232.9 146.9,1222.8 145.8,1223.4 144.7,1236.9 143.6,1230.1 142.5,1222.0 141.4,1226.5 140.3,1222.0 139.2,1221.0 138.1,1223.0 137.0,1222.8 135.9,1222.5 134.8,1223.2 133.7,1221.2 132.6,1232.3 131.5,1227.6 130.4,1224.9 129.3,1223.4 128.2,1220.9 127.1,1237.7 126.0,1221.5 124.9,1221.6 123.8,1234.0 122.7,1232.4 121.6,1225.3 120.5,1227.8 119.4,1221.3 118.3,1221.6 117.2,1223.6 116.1,1237.9 115.0,1223.9 113.9,1220.6 112.8,1222.7 111.7,1220.5 110.6,1243.7 109.5,1227.8 108.4,1227.5 107.3,1227.0Z" fill="#18809A" stroke="#18809A" stroke-width="0.5" stroke-linejoin="miter"/>
<path d="M112.6,1219.7 L113.9,1245.3 L115.5,1219.7 Z M126.7,1234.7 L128.0,1242.2 L129.6,1234.7 Z M186.9,1221.7 L188.2,1270.2 L189.8,1221.7 Z M196.2,1218.7 L197.5,1238.0 L199.1,1218.7 Z M252.8,1216.2 L254.1,1238.5 L255.7,1216.2 Z M289.6,1217.1 L290.9,1265.8 L292.5,1217.1 Z M321.0,1217.0 L322.3,1269.0 L323.9,1217.0 Z M333.5,1216.5 L334.8,1267.8 L336.4,1216.5 Z M341.3,1216.1 L342.6,1237.3 L344.2,1216.1 Z M362.0,1219.4 L363.3,1231.7 L364.9,1219.4 Z M403.4,1215.7 L404.7,1279.5 L406.3,1215.7 Z M440.5,1214.6 L441.8,1245.3 L443.4,1214.6 Z M474.1,1222.3 L475.4,1276.3 L477.0,1222.3 Z M494.1,1225.0 L495.4,1239.7 L497.0,1225.0 Z M507.8,1218.4 L509.1,1243.4 L510.7,1218.4 Z M544.3,1222.9 L545.6,1246.3 L547.2,1222.9 Z M580.2,1226.3 L581.5,1245.3 L583.1,1226.3 Z " fill="#18809A" stroke="#18809A" stroke-width="0.9" stroke-linejoin="round"/>
<path d="M59.5,1231 L59.5,1286.3 L177.5,1286.3" fill="none" stroke="#231815" stroke-width="2.4"/>
<text transform="rotate(-90,42.90,1258.70) translate(9.32,1258.70)" font-size="28.30" fill="#000" xml:space="preserve"><tspan font-family="Liberation Sans, Arial, sans-serif">50pA</tspan></text>
<text transform="translate(91.52,1318.00) scale(0.9881,1)" font-size="28.00" fill="#000" xml:space="preserve"><tspan font-family="Liberation Sans, Arial, sans-serif">10s</tspan></text>
<text transform="translate(679.04,890.10) scale(0.9171,1)" font-size="42.60" fill="#000" xml:space="preserve"><tspan font-family="Liberation Serif, Times New Roman, serif" font-weight="bold">J</tspan></text>
<line x1="777.5" y1="901.0" x2="777.5" y2="1224.8" stroke="#000" stroke-width="2.3"/>
<line x1="758.0" y1="1223.7" x2="1293.5" y2="1223.7" stroke="#000" stroke-width="2.3"/>
<line x1="758.0" y1="902.2" x2="777.5" y2="902.2" stroke="#000" stroke-width="2.3"/>
<text transform="translate(713.80,913.10) scale(0.9989,1)" font-size="28.00" fill="#000" xml:space="preserve"><tspan font-family="Liberation Sans, Arial, sans-serif">1.0</tspan></text>
<line x1="758.0" y1="1063.0" x2="777.5" y2="1063.0" stroke="#000" stroke-width="2.3"/>
<text transform="translate(714.81,1073.90) scale(0.9760,1)" font-size="28.00" fill="#000" xml:space="preserve"><tspan font-family="Liberation Sans, Arial, sans-serif">0.5</tspan></text>
<line x1="758.0" y1="1223.6" x2="777.5" y2="1223.6" stroke="#000" stroke-width="2.3"/>
<text transform="translate(714.81,1234.50) scale(0.9723,1)" font-size="28.00" fill="#000" xml:space="preserve"><tspan font-family="Liberation Sans, Arial, sans-serif">0.0</tspan></text>
<line x1="777.5" y1="1223.7" x2="777.5" y2="1242.0" stroke="#000" stroke-width="2.3"/>
<text transform="translate(769.80,1277.70)" font-size="27.50" fill="#000" xml:space="preserve"><tspan font-family="Liberation Sans, Arial, sans-serif">0</tspan></text>
<line x1="905.5" y1="1223.7" x2="905.5" y2="1242.0" stroke="#000" stroke-width="2.3"/>
<text transform="translate(897.46,1277.70)" font-size="27.50" fill="#000" xml:space="preserve"><tspan font-family="Liberation Sans, Arial, sans-serif">1</tspan></text>
<line x1="1034.4" y1="1223.7" x2="1034.4" y2="1242.0" stroke="#000" stroke-width="2.3"/>
<text transform="translate(1026.77,1277.70)" font-size="27.50" fill="#000" xml:space="preserve"><tspan font-family="Liberation Sans, Arial, sans-serif">2</tspan></text>
<line x1="1162.9" y1="1223.7" x2="1162.9" y2="1242.0" stroke="#000" stroke-width="2.3"/>
<text transform="translate(1155.27,1277.70)" font-size="27.50" fill="#000" xml:space="preserve"><tspan font-family="Liberation Sans, Arial, sans-serif">3</tspan></text>
<line x1="1291.8" y1="1223.7" x2="1291.8" y2="1242.0" stroke="#000" stroke-width="2.3"/>
<text transform="translate(1284.31,1277.70)" font-size="27.50" fill="#000" xml:space="preserve"><tspan font-family="Liberation Sans, Arial, sans-serif">4</tspan></text>
<text transform="translate(855.08,1317.10)" font-size="28.00" fill="#000" xml:space="preserve"><tspan font-family="Liberation Sans, Arial, sans-serif">mEPSC Interevent interval (s)</tspan></text>
<text transform="rotate(-90,694.00,1076.40) translate(573.59,1076.40)" font-size="28.20" fill="#000" xml:space="preserve"><tspan font-family="Liberation Sans, Arial, sans-serif">Cumulative fraction</tspan></text>
<path d="M779.9,1223.9 C780.6,1216.2 782.5,1192.2 784.0,1177.7 C785.5,1163.2 787.5,1150.3 789.2,1136.6 C790.9,1122.9 792.6,1107.5 794.3,1095.5 C796.0,1083.5 797.8,1073.7 799.5,1064.7 C801.2,1055.7 802.9,1048.4 804.6,1041.6 C806.3,1034.8 807.6,1030.0 809.7,1023.6 C811.8,1017.2 814.4,1009.6 817.4,1003.0 C820.4,996.4 823.8,989.8 827.7,983.8 C831.6,977.8 835.9,972.5 840.6,967.1 C845.3,961.7 851.3,955.9 856.0,951.6 C860.7,947.3 863.9,944.8 868.8,941.4 C873.7,938.0 879.4,934.5 885.6,931.1 C891.8,927.7 897.5,924.0 906.1,920.8 C914.7,917.6 925.4,914.1 937.0,911.8 C948.6,909.4 960.5,908.0 975.5,906.7 C990.5,905.4 1008.7,904.8 1026.9,904.2 C1045.2,903.6 1064.5,903.5 1085.0,903.2 C1105.5,902.9 1115.5,902.5 1150.0,902.3 C1184.5,902.1 1268.2,902.0 1291.8,902.0" fill="none" stroke="#1A7F9A" stroke-width="1.6"/>
<path d="M777.7,1223.9 C778.6,1211.1 781.1,1169.2 782.8,1146.9 C784.5,1124.7 786.3,1107.5 788.0,1090.4 C789.7,1073.3 791.4,1056.9 793.1,1044.1 C794.8,1031.2 796.6,1022.3 798.3,1013.3 C800.0,1004.3 801.7,997.1 803.4,990.2 C805.1,983.4 806.4,978.2 808.5,972.2 C810.6,966.2 813.2,959.8 816.2,954.2 C819.2,948.6 822.6,943.3 826.5,938.8 C830.4,934.3 834.7,930.8 839.4,927.2 C844.1,923.6 847.5,920.2 854.8,917.0 C862.1,913.8 873.6,910.1 883.0,908.0 C892.4,905.9 900.1,905.0 911.3,904.1 C922.5,903.2 926.9,903.1 950.0,902.8 C973.1,902.5 993.0,902.4 1050.0,902.2 C1107.0,902.0 1251.5,901.9 1291.8,901.8" fill="none" stroke="#0B6410" stroke-width="2.5"/>
<path d="M778.7,1223.9 C779.4,1216.2 781.2,1192.2 782.8,1177.7 C784.3,1163.2 786.3,1150.3 788.0,1136.6 C789.7,1122.9 791.4,1107.5 793.1,1095.5 C794.8,1083.5 796.6,1073.7 798.3,1064.7 C800.0,1055.7 801.7,1048.4 803.4,1041.6 C805.1,1034.8 806.4,1030.0 808.5,1023.6 C810.6,1017.2 813.2,1009.6 816.2,1003.0 C819.2,996.4 822.6,989.8 826.5,983.8 C830.4,977.8 834.7,972.5 839.4,967.1 C844.1,961.7 850.1,955.9 854.8,951.6 C859.5,947.3 862.5,944.8 867.6,941.4 C872.7,938.0 879.2,934.5 885.6,931.1 C892.0,927.7 897.5,924.0 906.1,920.8 C914.7,917.6 925.4,914.1 937.0,911.8 C948.6,909.4 960.5,908.0 975.5,906.7 C990.5,905.4 1008.7,904.8 1026.9,904.2 C1045.2,903.6 1064.5,903.5 1085.0,903.2 C1105.5,902.9 1115.5,902.5 1150.0,902.3 C1184.5,902.1 1268.2,902.0 1291.8,902.0" fill="none" stroke="#F8BE82" stroke-width="2.4"/>
<line x1="855.1" y1="1015.4" x2="907.0" y2="1015.4" stroke="#F8BE82" stroke-width="2.5"/>
<line x1="855.1" y1="1063.0" x2="907.0" y2="1063.0" stroke="#0B6410" stroke-width="2.5"/>
<line x1="855.1" y1="1109.5" x2="907.0" y2="1109.5" stroke="#1A7F9A" stroke-width="2.5"/>
<text transform="translate(932.39,1024.30) scale(1.0227,1)" font-size="27.50" fill="#000" xml:space="preserve"><tspan font-family="Liberation Sans, Arial, sans-serif">Ctrl</tspan></text>
<text transform="translate(932.56,1072.00)" font-size="27.50" fill="#000" xml:space="preserve"><tspan font-family="Liberation Sans, Arial, sans-serif">OE</tspan></text>
<text transform="translate(931.60,1119.20)" font-size="27.50" fill="#000" xml:space="preserve"><tspan font-family="Liberation Sans, Arial, sans-serif">RE</tspan></text>
<line x1="1078.4" y1="939.5" x2="1078.4" y2="1176.0" stroke="#000" stroke-width="2.3"/>
<line x1="1067.0" y1="1175.0" x2="1275.6" y2="1175.0" stroke="#000" stroke-width="2.3"/>
<line x1="1067.0" y1="939.9" x2="1078.4" y2="939.9" stroke="#000" stroke-width="2.3"/>
<text transform="translate(1032.63,950.30) scale(0.9500,1)" font-size="27.00" fill="#000" xml:space="preserve"><tspan font-family="Liberation Sans, Arial, sans-serif">10</tspan></text>
<line x1="1067.0" y1="987.3" x2="1078.4" y2="987.3" stroke="#000" stroke-width="2.3"/>
<text transform="translate(1042.19,997.70) scale(0.9500,1)" font-size="27.00" fill="#000" xml:space="preserve"><tspan font-family="Liberation Sans, Arial, sans-serif">8</tspan></text>
<line x1="1067.0" y1="1034.4" x2="1078.4" y2="1034.4" stroke="#000" stroke-width="2.3"/>
<text transform="translate(1042.19,1044.80) scale(0.9500,1)" font-size="27.00" fill="#000" xml:space="preserve"><tspan font-family="Liberation Sans, Arial, sans-serif">6</tspan></text>
<line x1="1067.0" y1="1081.3" x2="1078.4" y2="1081.3" stroke="#000" stroke-width="2.3"/>
<text transform="translate(1041.93,1091.70) scale(0.9500,1)" font-size="27.00" fill="#000" xml:space="preserve"><tspan font-family="Liberation Sans, Arial, sans-serif">4</tspan></text>
<line x1="1067.0" y1="1128.0" x2="1078.4" y2="1128.0" stroke="#000" stroke-width="2.3"/>
<text transform="translate(1042.45,1138.40) scale(0.9500,1)" font-size="27.00" fill="#000" xml:space="preserve"><tspan font-family="Liberation Sans, Arial, sans-serif">2</tspan></text>
<line x1="1067.0" y1="1174.9" x2="1078.4" y2="1174.9" stroke="#000" stroke-width="2.3"/>
<text transform="translate(1042.06,1185.30) scale(0.9500,1)" font-size="27.00" fill="#000" xml:space="preserve"><tspan font-family="Liberation Sans, Arial, sans-serif">0</tspan></text>
<line x1="1117.4" y1="1175.0" x2="1117.4" y2="1186.5" stroke="#000" stroke-width="2.3"/>
<line x1="1176.1" y1="1175.0" x2="1176.1" y2="1186.5" stroke="#000" stroke-width="2.3"/>
<line x1="1234.5" y1="1175.0" x2="1234.5" y2="1186.5" stroke="#000" stroke-width="2.3"/>
<text transform="translate(1094.55,1208.60) scale(1.0980,1)" font-size="26.50" fill="#000" xml:space="preserve"><tspan font-family="Liberation Sans, Arial, sans-serif">Ctrl</tspan></text>
<text transform="translate(1155.53,1208.60) scale(1.0627,1)" font-size="26.50" fill="#000" xml:space="preserve"><tspan font-family="Liberation Sans, Arial, sans-serif">OE</tspan></text>
<text transform="translate(1213.59,1208.60) scale(1.0888,1)" font-size="26.50" fill="#000" xml:space="preserve"><tspan font-family="Liberation Sans, Arial, sans-serif">RE</tspan></text>
<text transform="rotate(-90,1019.00,1055.90) translate(912.52,1055.90)" font-size="28.50" fill="#000" xml:space="preserve"><tspan font-family="Liberation Sans, Arial, sans-serif">Frenquency (Hz)</tspan></text>
<path d="M1121.6,1001.3 L1121.6,953.8 L1231.4,953.8 L1231.4,1001.3" fill="none" stroke="#000" stroke-width="2.2"/>
<line x1="1176.1" y1="953.8" x2="1176.1" y2="975.3" stroke="#000" stroke-width="2.2"/>
<text transform="translate(1087.58,947.40) scale(1.0499,1)" font-size="22.00" fill="#000" xml:space="preserve"><tspan font-family="Liberation Sans, Arial, sans-serif" font-style="italic">p</tspan><tspan font-family="Liberation Sans, Arial, sans-serif">= 0.005</tspan></text>
<text transform="translate(1199.27,947.40) scale(1.0396,1)" font-size="22.00" fill="#000" xml:space="preserve"><tspan font-family="Liberation Sans, Arial, sans-serif" font-style="italic">p</tspan><tspan font-family="Liberation Sans, Arial, sans-serif">= 0.009</tspan></text>
<line x1="1098.1" y1="1104.6" x2="1127.6" y2="1104.6" stroke="#000" stroke-width="2.3"/>
<line x1="1106.0" y1="1108.9" x2="1128.0" y2="1108.9" stroke="#000" stroke-width="2.3"/>
<circle cx="1109.2" cy="1078.9" r="5.1" fill="#F8BE82"/>
<circle cx="1115.1" cy="1080.6" r="5.1" fill="#F8BE82"/>
<circle cx="1126.7" cy="1083.8" r="5.1" fill="#F8BE82"/>
<circle cx="1123.6" cy="1093.3" r="5.1" fill="#F8BE82"/>
<circle cx="1111.9" cy="1098.7" r="5.1" fill="#F8BE82"/>
<circle cx="1119.6" cy="1103.3" r="5.1" fill="#F8BE82"/>
<circle cx="1132.7" cy="1104.4" r="5.1" fill="#F8BE82"/>
<circle cx="1127.6" cy="1103.8" r="5.1" fill="#F8BE82"/>
<circle cx="1103.2" cy="1112.3" r="5.1" fill="#F8BE82"/>
<circle cx="1108.3" cy="1108.9" r="5.1" fill="#F8BE82"/>
<circle cx="1115.1" cy="1119.7" r="5.1" fill="#F8BE82"/>
<circle cx="1120.8" cy="1124.8" r="5.1" fill="#F8BE82"/>
<circle cx="1115.1" cy="1135.6" r="5.1" fill="#F8BE82"/>
<circle cx="1120.8" cy="1138.4" r="5.1" fill="#F8BE82"/>
<polygon points="1171.5,996.7 1181.7,996.7 1176.6,1005.9" fill="#075C08" stroke="#075C08" stroke-width="1.2" stroke-linejoin="round"/>
<polygon points="1161.6,1009.0 1171.8,1009.0 1166.7,1018.2" fill="#075C08" stroke="#075C08" stroke-width="1.2" stroke-linejoin="round"/>
<polygon points="1181.0,1009.0 1191.2,1009.0 1186.1,1018.2" fill="#075C08" stroke="#075C08" stroke-width="1.2" stroke-linejoin="round"/>
<polygon points="1161.6,1019.4 1171.8,1019.4 1166.7,1028.6" fill="#075C08" stroke="#075C08" stroke-width="1.2" stroke-linejoin="round"/>
<polygon points="1181.0,1023.4 1191.2,1023.4 1186.1,1032.6" fill="#075C08" stroke="#075C08" stroke-width="1.2" stroke-linejoin="round"/>
<polygon points="1171.5,1060.7 1181.7,1060.7 1176.6,1069.9" fill="#075C08" stroke="#075C08" stroke-width="1.2" stroke-linejoin="round"/>
<polygon points="1161.6,1089.6 1171.8,1089.6 1166.7,1098.8" fill="#075C08" stroke="#075C08" stroke-width="1.2" stroke-linejoin="round"/>
<polygon points="1181.0,1092.4 1191.2,1092.4 1186.1,1101.6" fill="#075C08" stroke="#075C08" stroke-width="1.2" stroke-linejoin="round"/>
<line x1="1176.6" y1="1029.6" x2="1176.6" y2="1056.6" stroke="#000" stroke-width="2.3"/>
<line x1="1167.2" y1="1029.6" x2="1185.9" y2="1029.6" stroke="#000" stroke-width="2.3"/>
<line x1="1167.2" y1="1056.6" x2="1185.9" y2="1056.6" stroke="#000" stroke-width="2.3"/>
<line x1="1157.0" y1="1042.9" x2="1196.1" y2="1042.9" stroke="#000" stroke-width="2.3"/>
<rect x="1225.0" y="1060.8" width="10.2" height="10.2" rx="1.5" fill="#0A7F99"/>
<rect x="1234.6" y="1070.4" width="10.2" height="10.2" rx="1.5" fill="#0A7F99"/>
<rect x="1215.4" y="1080.1" width="10.2" height="10.2" rx="1.5" fill="#0A7F99"/>
<rect x="1225.0" y="1084.6" width="10.2" height="10.2" rx="1.5" fill="#0A7F99"/>
<rect x="1234.6" y="1087.4" width="10.2" height="10.2" rx="1.5" fill="#0A7F99"/>
<rect x="1244.8" y="1089.7" width="10.2" height="10.2" rx="1.5" fill="#0A7F99"/>
<rect x="1234.6" y="1104.4" width="10.2" height="10.2" rx="1.5" fill="#0A7F99"/>
<rect x="1215.4" y="1108.9" width="10.2" height="10.2" rx="1.5" fill="#0A7F99"/>
<rect x="1225.0" y="1107.8" width="10.2" height="10.2" rx="1.5" fill="#0A7F99"/>
<rect x="1234.6" y="1116.3" width="10.2" height="10.2" rx="1.5" fill="#0A7F99"/>
<rect x="1244.8" y="1119.7" width="10.2" height="10.2" rx="1.5" fill="#0A7F99"/>
<line x1="1215.4" y1="1100.1" x2="1254.4" y2="1100.1" stroke="#000" stroke-width="2.3"/>
<line x1="1225.6" y1="1095.9" x2="1235.0" y2="1095.9" stroke="#000" stroke-width="2.3"/>
<line x1="1225.6" y1="1105.5" x2="1235.0" y2="1105.5" stroke="#000" stroke-width="2.3"/>
<line x1="1234.5" y1="1095.9" x2="1234.5" y2="1105.5" stroke="#000" stroke-width="2.3"/>
<text transform="translate(1367.26,890.10) scale(1.0012,1)" font-size="42.60" fill="#000" xml:space="preserve"><tspan font-family="Liberation Serif, Times New Roman, serif" font-weight="bold">K</tspan></text>
<line x1="1477.0" y1="898.0" x2="1477.0" y2="1223.5" stroke="#000" stroke-width="2.3"/>
<line x1="1457.4" y1="1222.5" x2="1998.0" y2="1222.5" stroke="#000" stroke-width="2.3"/>
<line x1="1457.4" y1="898.5" x2="1477.0" y2="898.5" stroke="#000" stroke-width="2.3"/>
<text transform="translate(1410.90,908.70) scale(0.9989,1)" font-size="28.00" fill="#000" xml:space="preserve"><tspan font-family="Liberation Sans, Arial, sans-serif">1.0</tspan></text>
<line x1="1457.4" y1="1060.2" x2="1477.0" y2="1060.2" stroke="#000" stroke-width="2.3"/>
<text transform="translate(1411.91,1070.40) scale(0.9760,1)" font-size="28.00" fill="#000" xml:space="preserve"><tspan font-family="Liberation Sans, Arial, sans-serif">0.5</tspan></text>
<line x1="1457.4" y1="1222.5" x2="1477.0" y2="1222.5" stroke="#000" stroke-width="2.3"/>
<text transform="translate(1411.91,1232.70) scale(0.9723,1)" font-size="28.00" fill="#000" xml:space="preserve"><tspan font-family="Liberation Sans, Arial, sans-serif">0.0</tspan></text>
<line x1="1477.1" y1="1222.5" x2="1477.1" y2="1242.0" stroke="#000" stroke-width="2.3"/>
<text transform="translate(1469.40,1277.90)" font-size="27.50" fill="#000" xml:space="preserve"><tspan font-family="Liberation Sans, Arial, sans-serif">0</tspan></text>
<line x1="1649.3" y1="1222.5" x2="1649.3" y2="1242.0" stroke="#000" stroke-width="2.3"/>
<text transform="translate(1633.49,1277.90)" font-size="27.50" fill="#000" xml:space="preserve"><tspan font-family="Liberation Sans, Arial, sans-serif">10</tspan></text>
<line x1="1822.6" y1="1222.5" x2="1822.6" y2="1242.0" stroke="#000" stroke-width="2.3"/>
<text transform="translate(1807.13,1277.90)" font-size="27.50" fill="#000" xml:space="preserve"><tspan font-family="Liberation Sans, Arial, sans-serif">20</tspan></text>
<line x1="1996.2" y1="1222.5" x2="1996.2" y2="1242.0" stroke="#000" stroke-width="2.3"/>
<text transform="translate(1980.87,1277.90)" font-size="27.50" fill="#000" xml:space="preserve"><tspan font-family="Liberation Sans, Arial, sans-serif">30</tspan></text>
<text transform="translate(1591.60,1317.20) scale(0.9915,1)" font-size="28.00" fill="#000" xml:space="preserve"><tspan font-family="Liberation Sans, Arial, sans-serif">mEPSC Amptitude (pA)</tspan></text>
<text transform="rotate(-90,1393.00,1076.50) translate(1274.36,1076.50) scale(0.9917,1)" font-size="28.00" fill="#000" xml:space="preserve"><tspan font-family="Liberation Sans, Arial, sans-serif">Cumulative fraction</tspan></text>
<path d="M1476.9,1222.6 L1511.1,950.4 L1529.1,910.5 L1546.5,900.8 L1572.7,899.0 L1997.0,898.6" fill="none" stroke="#1A7F9A" stroke-width="3" stroke-linejoin="round"/>
<path d="M1476.9,1222.6 L1494.4,1128.9 L1511.1,990.2 L1529.1,942.7 L1546.5,921.3 L1565.0,911.8 L1580.5,906.7 L1598.4,903.4 L1624.1,901.3 L1649.8,900.3 L1750.0,899.2 L1997.0,898.6" fill="none" stroke="#F8BE82" stroke-width="2.2" stroke-linejoin="round"/>
<path d="M1476.9,1222.6 L1494.4,1193.1 L1511.1,1121.2 L1529.1,1067.2 L1546.5,1028.7 L1563.8,994.0 L1581.0,969.1 L1598.4,950.4 L1615.1,938.8 L1633.1,929.0 L1649.8,922.1 L1667.8,917.0 L1684.5,913.1 L1701.2,910.5 L1718.0,909.1 L1753.8,905.5 L1789.7,903.0 L1825.4,901.2 L1897.0,899.6 L1997.3,898.5" fill="none" stroke="#0B6410" stroke-width="2.5" stroke-linejoin="round"/>
<line x1="1574.8" y1="1013.6" x2="1626.7" y2="1013.6" stroke="#F8BE82" stroke-width="2.5"/>
<line x1="1574.8" y1="1060.2" x2="1626.7" y2="1060.2" stroke="#0B6410" stroke-width="2.5"/>
<line x1="1574.8" y1="1107.8" x2="1626.7" y2="1107.8" stroke="#1A7F9A" stroke-width="2.5"/>
<text transform="translate(1651.47,1022.60) scale(1.0379,1)" font-size="27.50" fill="#000" xml:space="preserve"><tspan font-family="Liberation Sans, Arial, sans-serif">Ctrl</tspan></text>
<text transform="translate(1651.66,1069.10)" font-size="27.50" fill="#000" xml:space="preserve"><tspan font-family="Liberation Sans, Arial, sans-serif">OE</tspan></text>
<text transform="translate(1650.70,1116.70)" font-size="27.50" fill="#000" xml:space="preserve"><tspan font-family="Liberation Sans, Arial, sans-serif">RE</tspan></text>
<line x1="1794.3" y1="937.2" x2="1794.3" y2="1174.0" stroke="#000" stroke-width="2.3"/>
<line x1="1783.6" y1="1173.0" x2="1991.9" y2="1173.0" stroke="#000" stroke-width="2.3"/>
<line x1="1783.6" y1="937.7" x2="1794.3" y2="937.7" stroke="#000" stroke-width="2.3"/>
<text transform="translate(1748.63,947.80) scale(0.9500,1)" font-size="27.00" fill="#000" xml:space="preserve"><tspan font-family="Liberation Sans, Arial, sans-serif">50</tspan></text>
<line x1="1783.6" y1="985.3" x2="1794.3" y2="985.3" stroke="#000" stroke-width="2.3"/>
<text transform="translate(1748.63,995.40) scale(0.9500,1)" font-size="27.00" fill="#000" xml:space="preserve"><tspan font-family="Liberation Sans, Arial, sans-serif">40</tspan></text>
<line x1="1783.6" y1="1032.6" x2="1794.3" y2="1032.6" stroke="#000" stroke-width="2.3"/>
<text transform="translate(1748.63,1042.70) scale(0.9500,1)" font-size="27.00" fill="#000" xml:space="preserve"><tspan font-family="Liberation Sans, Arial, sans-serif">30</tspan></text>
<line x1="1783.6" y1="1079.1" x2="1794.3" y2="1079.1" stroke="#000" stroke-width="2.3"/>
<text transform="translate(1748.63,1089.20) scale(0.9500,1)" font-size="27.00" fill="#000" xml:space="preserve"><tspan font-family="Liberation Sans, Arial, sans-serif">20</tspan></text>
<line x1="1783.6" y1="1125.7" x2="1794.3" y2="1125.7" stroke="#000" stroke-width="2.3"/>
<text transform="translate(1748.63,1135.80) scale(0.9500,1)" font-size="27.00" fill="#000" xml:space="preserve"><tspan font-family="Liberation Sans, Arial, sans-serif">10</tspan></text>
<line x1="1783.6" y1="1173.0" x2="1794.3" y2="1173.0" stroke="#000" stroke-width="2.3"/>
<text transform="translate(1757.86,1183.10) scale(0.9500,1)" font-size="27.00" fill="#000" xml:space="preserve"><tspan font-family="Liberation Sans, Arial, sans-serif">0</tspan></text>
<line x1="1834.4" y1="1173.0" x2="1834.4" y2="1184.8" stroke="#000" stroke-width="2.3"/>
<line x1="1892.4" y1="1173.0" x2="1892.4" y2="1184.8" stroke="#000" stroke-width="2.3"/>
<line x1="1950.8" y1="1173.0" x2="1950.8" y2="1184.8" stroke="#000" stroke-width="2.3"/>
<text transform="translate(1810.33,1208.00) scale(1.1085,1)" font-size="26.50" fill="#000" xml:space="preserve"><tspan font-family="Liberation Sans, Arial, sans-serif">Ctrl</tspan></text>
<text transform="translate(1871.42,1208.00) scale(1.0738,1)" font-size="26.50" fill="#000" xml:space="preserve"><tspan font-family="Liberation Sans, Arial, sans-serif">OE</tspan></text>
<text transform="translate(1929.51,1208.00) scale(1.0799,1)" font-size="26.50" fill="#000" xml:space="preserve"><tspan font-family="Liberation Sans, Arial, sans-serif">RE</tspan></text>
<text transform="rotate(-90,1735.30,1050.50) translate(1642.20,1050.50)" font-size="28.40" fill="#000" xml:space="preserve"><tspan font-family="Liberation Sans, Arial, sans-serif">Amplitude(mV)</tspan></text>
<path d="M1837.4,996.7 L1837.4,948.5 L1947.9,948.5 L1947.9,996.7" fill="none" stroke="#000" stroke-width="2.2"/>
<line x1="1892.9" y1="948.5" x2="1892.9" y2="970.2" stroke="#000" stroke-width="2.2"/>
<text transform="translate(1801.67,940.20) scale(1.0445,1)" font-size="22.00" fill="#000" xml:space="preserve"><tspan font-family="Liberation Sans, Arial, sans-serif" font-style="italic">p</tspan><tspan font-family="Liberation Sans, Arial, sans-serif">= 0.027</tspan></text>
<text transform="translate(1911.97,940.20) scale(1.0418,1)" font-size="22.00" fill="#000" xml:space="preserve"><tspan font-family="Liberation Sans, Arial, sans-serif" font-style="italic">p</tspan><tspan font-family="Liberation Sans, Arial, sans-serif">= 0.008</tspan></text>
<line x1="1815.0" y1="1100.3" x2="1853.7" y2="1100.3" stroke="#000" stroke-width="2.3"/>
<circle cx="1828.5" cy="1068.8" r="5.1" fill="#F8BE82"/>
<circle cx="1834.7" cy="1070.1" r="5.1" fill="#F8BE82"/>
<circle cx="1840.1" cy="1072.2" r="5.1" fill="#F8BE82"/>
<circle cx="1825.8" cy="1085.1" r="5.1" fill="#F8BE82"/>
<circle cx="1842.8" cy="1089.8" r="5.1" fill="#F8BE82"/>
<circle cx="1831.9" cy="1096.0" r="5.1" fill="#F8BE82"/>
<circle cx="1837.4" cy="1093.9" r="5.1" fill="#F8BE82"/>
<circle cx="1834.0" cy="1101.4" r="5.1" fill="#F8BE82"/>
<circle cx="1840.8" cy="1104.1" r="5.1" fill="#F8BE82"/>
<circle cx="1848.9" cy="1106.8" r="5.1" fill="#F8BE82"/>
<circle cx="1819.7" cy="1109.5" r="5.1" fill="#F8BE82"/>
<circle cx="1825.8" cy="1116.3" r="5.1" fill="#F8BE82"/>
<circle cx="1831.3" cy="1123.1" r="5.1" fill="#F8BE82"/>
<circle cx="1838.1" cy="1125.2" r="5.1" fill="#F8BE82"/>
<circle cx="1842.8" cy="1126.5" r="5.1" fill="#F8BE82"/>
<polygon points="1887.8,975.8 1898.0,975.8 1892.9,985.0" fill="#075C08" stroke="#075C08" stroke-width="1.2" stroke-linejoin="round"/>
<polygon points="1894.1,1018.6 1904.3,1018.6 1899.2,1027.8" fill="#075C08" stroke="#075C08" stroke-width="1.2" stroke-linejoin="round"/>
<polygon points="1881.2,1028.1 1891.4,1028.1 1886.3,1037.3" fill="#075C08" stroke="#075C08" stroke-width="1.2" stroke-linejoin="round"/>
<polygon points="1875.1,1045.1 1885.3,1045.1 1880.2,1054.3" fill="#075C08" stroke="#075C08" stroke-width="1.2" stroke-linejoin="round"/>
<polygon points="1887.8,1047.8 1898.0,1047.8 1892.9,1057.0" fill="#075C08" stroke="#075C08" stroke-width="1.2" stroke-linejoin="round"/>
<polygon points="1900.9,1055.3 1911.1,1055.3 1906.0,1064.5" fill="#075C08" stroke="#075C08" stroke-width="1.2" stroke-linejoin="round"/>
<polygon points="1881.2,1092.7 1891.4,1092.7 1886.3,1101.9" fill="#075C08" stroke="#075C08" stroke-width="1.2" stroke-linejoin="round"/>
<polygon points="1894.1,1098.1 1904.3,1098.1 1899.2,1107.3" fill="#075C08" stroke="#075C08" stroke-width="1.2" stroke-linejoin="round"/>
<line x1="1892.9" y1="1036.4" x2="1892.9" y2="1064.7" stroke="#000" stroke-width="2.3"/>
<line x1="1883.2" y1="1036.4" x2="1902.6" y2="1036.4" stroke="#000" stroke-width="2.3"/>
<line x1="1883.2" y1="1064.7" x2="1902.6" y2="1064.7" stroke="#000" stroke-width="2.3"/>
<line x1="1873.4" y1="1050.1" x2="1912.6" y2="1050.1" stroke="#000" stroke-width="2.3"/>
<rect x="1946.6" y="1066.5" width="10" height="10" rx="1.5" fill="#0A7F99"/>
<rect x="1941.1" y="1078.7" width="10" height="10" rx="1.5" fill="#0A7F99"/>
<rect x="1951.3" y="1078.7" width="10" height="10" rx="1.5" fill="#0A7F99"/>
<rect x="1946.6" y="1088.9" width="10" height="10" rx="1.5" fill="#0A7F99"/>
<rect x="1946.6" y="1107.9" width="10" height="10" rx="1.5" fill="#0A7F99"/>
<rect x="1956.1" y="1114.0" width="10" height="10" rx="1.5" fill="#0A7F99"/>
<rect x="1932.3" y="1121.5" width="10" height="10" rx="1.5" fill="#0A7F99"/>
<rect x="1941.1" y="1122.9" width="10" height="10" rx="1.5" fill="#0A7F99"/>
<rect x="1951.3" y="1123.6" width="10" height="10" rx="1.5" fill="#0A7F99"/>
<rect x="1960.9" y="1124.9" width="10" height="10" rx="1.5" fill="#0A7F99"/>
<line x1="1932.1" y1="1110.6" x2="1971.0" y2="1110.6" stroke="#000" stroke-width="2.3"/>
<line x1="1942.1" y1="1105.2" x2="1961.1" y2="1105.2" stroke="#000" stroke-width="2.3"/>
<line x1="1942.1" y1="1117.4" x2="1961.1" y2="1117.4" stroke="#000" stroke-width="2.3"/></svg>
</body></html>
